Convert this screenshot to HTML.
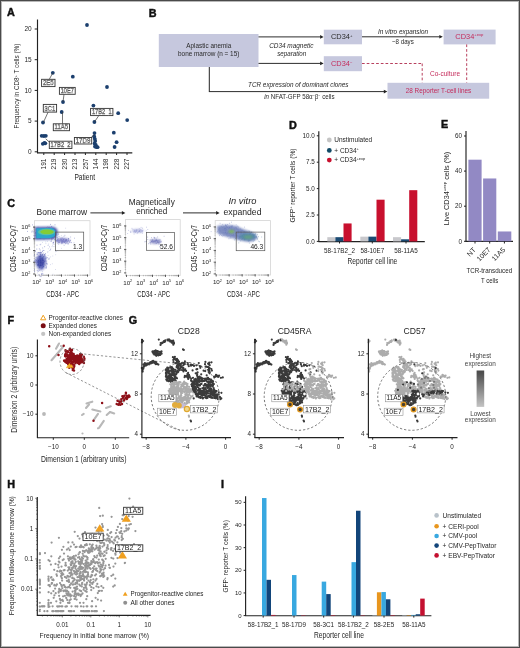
<!DOCTYPE html>
<html><head><meta charset="utf-8"><style>html,body{margin:0;padding:0;background:#fff;}#w{position:relative;width:520px;height:648px;overflow:hidden;}svg{display:block;font-family:"Liberation Sans",sans-serif;filter:blur(0.3px);}#b{position:absolute;left:0;top:0;width:518px;height:646px;border:1px solid #4a4a4a;box-shadow:inset 0 0 0 1px #b8b8b8;}</style></head><body>
<div id="w"><svg width="520" height="648" viewBox="0 0 520 648" font-family="'Liberation Sans', sans-serif">
<rect width="520" height="648" fill="#fff"/>
<text x="7" y="16.3" font-size="10.8" text-anchor="start" fill="#111" font-weight="bold" stroke="#111" stroke-width="0.45">A</text>
<text x="148.8" y="16.6" font-size="10.8" text-anchor="start" fill="#111" font-weight="bold" stroke="#111" stroke-width="0.45">B</text>
<text x="7.2" y="207.2" font-size="10.8" text-anchor="start" fill="#111" font-weight="bold" stroke="#111" stroke-width="0.45">C</text>
<text x="289" y="128.5" font-size="10.8" text-anchor="start" fill="#111" font-weight="bold" stroke="#111" stroke-width="0.45">D</text>
<text x="441" y="127.8" font-size="10.8" text-anchor="start" fill="#111" font-weight="bold" stroke="#111" stroke-width="0.45">E</text>
<text x="7.6" y="323.6" font-size="10.8" text-anchor="start" fill="#111" font-weight="bold" stroke="#111" stroke-width="0.45">F</text>
<text x="128.7" y="324.2" font-size="10.8" text-anchor="start" fill="#111" font-weight="bold" stroke="#111" stroke-width="0.45">G</text>
<text x="7.2" y="488.4" font-size="10.8" text-anchor="start" fill="#111" font-weight="bold" stroke="#111" stroke-width="0.45">H</text>
<text x="221" y="488" font-size="10.8" text-anchor="start" fill="#111" font-weight="bold" stroke="#111" stroke-width="0.45">I</text>
<line x1="37.5" y1="19.5" x2="37.5" y2="153.2" stroke="#222" stroke-width="1.15"/>
<line x1="37.1" y1="152.8" x2="132.3" y2="152.8" stroke="#222" stroke-width="1.15"/>
<line x1="34.7" y1="151.8" x2="37.5" y2="151.8" stroke="#222" stroke-width="1.0"/>
<text x="31.7" y="154.10000000000002" font-size="6.5" text-anchor="end" fill="#262626">0</text>
<line x1="34.7" y1="121.10000000000001" x2="37.5" y2="121.10000000000001" stroke="#222" stroke-width="1.0"/>
<text x="31.7" y="123.4" font-size="6.5" text-anchor="end" fill="#262626">5</text>
<line x1="34.7" y1="90.4" x2="37.5" y2="90.4" stroke="#222" stroke-width="1.0"/>
<text x="31.7" y="92.7" font-size="6.5" text-anchor="end" fill="#262626">10</text>
<line x1="34.7" y1="59.70000000000002" x2="37.5" y2="59.70000000000002" stroke="#222" stroke-width="1.0"/>
<text x="31.7" y="62.000000000000014" font-size="6.5" text-anchor="end" fill="#262626">15</text>
<line x1="34.7" y1="29.000000000000014" x2="37.5" y2="29.000000000000014" stroke="#222" stroke-width="1.0"/>
<text x="31.7" y="31.300000000000015" font-size="6.5" text-anchor="end" fill="#262626">20</text>
<line x1="43.8" y1="152.8" x2="43.8" y2="155" stroke="#222" stroke-width="1.0"/>
<text x="46.099999999999994" y="158.6" font-size="6.5" text-anchor="end" fill="#262626" transform="rotate(-90 46.099999999999994 158.6)">191</text>
<line x1="54.199999999999996" y1="152.8" x2="54.199999999999996" y2="155" stroke="#222" stroke-width="1.0"/>
<text x="56.49999999999999" y="158.6" font-size="6.5" text-anchor="end" fill="#262626" transform="rotate(-90 56.49999999999999 158.6)">219</text>
<line x1="64.6" y1="152.8" x2="64.6" y2="155" stroke="#222" stroke-width="1.0"/>
<text x="66.89999999999999" y="158.6" font-size="6.5" text-anchor="end" fill="#262626" transform="rotate(-90 66.89999999999999 158.6)">230</text>
<line x1="75.0" y1="152.8" x2="75.0" y2="155" stroke="#222" stroke-width="1.0"/>
<text x="77.3" y="158.6" font-size="6.5" text-anchor="end" fill="#262626" transform="rotate(-90 77.3 158.6)">213</text>
<line x1="85.4" y1="152.8" x2="85.4" y2="155" stroke="#222" stroke-width="1.0"/>
<text x="87.7" y="158.6" font-size="6.5" text-anchor="end" fill="#262626" transform="rotate(-90 87.7 158.6)">257</text>
<line x1="95.8" y1="152.8" x2="95.8" y2="155" stroke="#222" stroke-width="1.0"/>
<text x="98.1" y="158.6" font-size="6.5" text-anchor="end" fill="#262626" transform="rotate(-90 98.1 158.6)">144</text>
<line x1="106.2" y1="152.8" x2="106.2" y2="155" stroke="#222" stroke-width="1.0"/>
<text x="108.5" y="158.6" font-size="6.5" text-anchor="end" fill="#262626" transform="rotate(-90 108.5 158.6)">198</text>
<line x1="116.6" y1="152.8" x2="116.6" y2="155" stroke="#222" stroke-width="1.0"/>
<text x="118.89999999999999" y="158.6" font-size="6.5" text-anchor="end" fill="#262626" transform="rotate(-90 118.89999999999999 158.6)">228</text>
<line x1="127.0" y1="152.8" x2="127.0" y2="155" stroke="#222" stroke-width="1.0"/>
<text x="129.3" y="158.6" font-size="6.5" text-anchor="end" fill="#262626" transform="rotate(-90 129.3 158.6)">227</text>
<text x="84.75" y="180.4" font-size="8.6" text-anchor="middle" fill="#262626" textLength="20.7" lengthAdjust="spacingAndGlyphs">Patient</text>
<text x="19.4" y="86.1" font-size="7.6" text-anchor="middle" fill="#262626" transform="rotate(-90 19.4 86.1)" textLength="84.8" lengthAdjust="spacingAndGlyphs">Frequency in CD8<tspan font-size="4.4" dy="-2.7">+</tspan><tspan dy="2.7"> T cells (%)</tspan></text>
<circle cx="52.8" cy="72.8" r="1.9" fill="#1b3f6e"/>
<circle cx="72.8" cy="76.7" r="1.9" fill="#1b3f6e"/>
<circle cx="87.0" cy="25.0" r="1.9" fill="#1b3f6e"/>
<circle cx="63.0" cy="102.0" r="1.9" fill="#1b3f6e"/>
<circle cx="61.7" cy="112.0" r="1.9" fill="#1b3f6e"/>
<circle cx="43.0" cy="122.5" r="1.9" fill="#1b3f6e"/>
<circle cx="41.7" cy="135.8" r="1.9" fill="#1b3f6e"/>
<circle cx="43.9" cy="136.0" r="1.9" fill="#1b3f6e"/>
<circle cx="45.8" cy="135.8" r="1.9" fill="#1b3f6e"/>
<circle cx="44.4" cy="142.8" r="1.9" fill="#1b3f6e"/>
<circle cx="45.3" cy="143.3" r="1.9" fill="#1b3f6e"/>
<circle cx="42.8" cy="143.8" r="1.9" fill="#1b3f6e"/>
<circle cx="107.0" cy="87.0" r="1.9" fill="#1b3f6e"/>
<circle cx="93.4" cy="105.6" r="1.9" fill="#1b3f6e"/>
<circle cx="94.4" cy="122.0" r="1.9" fill="#1b3f6e"/>
<circle cx="94.5" cy="133.1" r="1.9" fill="#1b3f6e"/>
<circle cx="94.2" cy="136.5" r="1.9" fill="#1b3f6e"/>
<circle cx="94.8" cy="138.8" r="1.9" fill="#1b3f6e"/>
<circle cx="95.2" cy="141.0" r="1.9" fill="#1b3f6e"/>
<circle cx="94.6" cy="143.5" r="1.9" fill="#1b3f6e"/>
<circle cx="95.8" cy="145.0" r="1.9" fill="#1b3f6e"/>
<circle cx="96.4" cy="147.0" r="1.9" fill="#1b3f6e"/>
<circle cx="97.6" cy="147.2" r="1.9" fill="#1b3f6e"/>
<circle cx="95.0" cy="146.5" r="1.9" fill="#1b3f6e"/>
<circle cx="113.8" cy="132.7" r="1.9" fill="#1b3f6e"/>
<circle cx="116.6" cy="142.2" r="1.9" fill="#1b3f6e"/>
<circle cx="114.6" cy="147.0" r="1.9" fill="#1b3f6e"/>
<circle cx="118.2" cy="113.2" r="1.9" fill="#1b3f6e"/>
<circle cx="127.2" cy="120.1" r="1.9" fill="#1b3f6e"/>
<line x1="52.8" y1="72.8" x2="49.3" y2="79.3" stroke="#3a3a3a" stroke-width="0.7"/>
<line x1="63" y1="102" x2="64" y2="94.3" stroke="#3a3a3a" stroke-width="0.7"/>
<line x1="62.5" y1="112" x2="62.5" y2="123.8" stroke="#3a3a3a" stroke-width="0.7"/>
<line x1="43.3" y1="122.6" x2="48.1" y2="112.1" stroke="#3a3a3a" stroke-width="0.7"/>
<line x1="45.7" y1="138.8" x2="49.7" y2="142.4" stroke="#3a3a3a" stroke-width="0.7"/>
<line x1="94.4" y1="122" x2="99" y2="115.3" stroke="#3a3a3a" stroke-width="0.7"/>
<line x1="94.5" y1="134.5" x2="90" y2="138.5" stroke="#3a3a3a" stroke-width="0.7"/>
<rect x="41.6" y="79.3" width="13.399999999999999" height="7.299999999999997" fill="#fff" stroke="#333" stroke-width="0.9"/>
<text x="48.3" y="85.3" font-size="6.4" text-anchor="middle" fill="#fff" textLength="10.799999999999999" lengthAdjust="spacingAndGlyphs" stroke="#555" stroke-width="0.4">2E5</text>
<rect x="59.4" y="87.4" width="15.800000000000004" height="6.8999999999999915" fill="#fff" stroke="#333" stroke-width="0.9"/>
<text x="67.3" y="93.0" font-size="6.4" text-anchor="middle" fill="#fff" textLength="13.200000000000005" lengthAdjust="spacingAndGlyphs" stroke="#555" stroke-width="0.4">10E7</text>
<rect x="53.3" y="123.8" width="16.200000000000003" height="6.8999999999999915" fill="#fff" stroke="#333" stroke-width="0.9"/>
<text x="61.4" y="129.39999999999998" font-size="6.4" text-anchor="middle" fill="#fff" textLength="13.600000000000003" lengthAdjust="spacingAndGlyphs" stroke="#555" stroke-width="0.4">11A5</text>
<rect x="43.3" y="104.4" width="13.300000000000004" height="7.699999999999989" fill="#fff" stroke="#333" stroke-width="0.9"/>
<text x="49.95" y="110.8" font-size="6.4" text-anchor="middle" fill="#fff" textLength="10.700000000000005" lengthAdjust="spacingAndGlyphs" stroke="#555" stroke-width="0.4">3C1</text>
<rect x="49.3" y="141.2" width="22.60000000000001" height="7.300000000000011" fill="#fff" stroke="#333" stroke-width="0.9"/>
<text x="60.6" y="147.2" font-size="6.4" text-anchor="middle" fill="#fff" textLength="20.000000000000007" lengthAdjust="spacingAndGlyphs" stroke="#555" stroke-width="0.4">17B2_2</text>
<rect x="90.6" y="108.4" width="22.30000000000001" height="7.199999999999989" fill="#fff" stroke="#333" stroke-width="0.9"/>
<text x="101.75" y="114.3" font-size="6.4" text-anchor="middle" fill="#fff" textLength="19.70000000000001" lengthAdjust="spacingAndGlyphs" stroke="#555" stroke-width="0.4">17B2_1</text>
<rect x="74.4" y="137.5" width="17.299999999999997" height="6.5" fill="#fff" stroke="#333" stroke-width="0.9"/>
<text x="83.05000000000001" y="142.7" font-size="6.4" text-anchor="middle" fill="#fff" textLength="14.699999999999998" lengthAdjust="spacingAndGlyphs" stroke="#555" stroke-width="0.4">17D9</text>
<rect x="158.8" y="34" width="99.7" height="33" fill="#c6c8de" stroke="none" stroke-width="0.8"/>
<text x="208.8" y="48.4" font-size="7.9" text-anchor="middle" fill="#2a2a2a" textLength="44.9" lengthAdjust="spacingAndGlyphs">Aplastic anemia</text>
<text x="208.7" y="56.1" font-size="7.9" text-anchor="middle" fill="#2a2a2a" textLength="61.3" lengthAdjust="spacingAndGlyphs">bone marrow (n = 15)</text>
<line x1="258.5" y1="36.9" x2="320.6" y2="36.9" stroke="#222" stroke-width="0.95"/>
<path d="M320.1,35.1 L323.6,36.9 L320.1,38.699999999999996 Z" fill="#222"/>
<line x1="258.5" y1="63.4" x2="320.6" y2="63.4" stroke="#222" stroke-width="0.95"/>
<path d="M320.1,61.6 L323.6,63.4 L320.1,65.2 Z" fill="#222"/>
<text x="291.3" y="48" font-size="7.2" text-anchor="middle" fill="#2a2a2a" font-style="italic" textLength="44.3" lengthAdjust="spacingAndGlyphs">CD34 magnetic</text>
<text x="291.7" y="56.2" font-size="7.2" text-anchor="middle" fill="#2a2a2a" font-style="italic" textLength="28.9" lengthAdjust="spacingAndGlyphs">separation</text>
<rect x="323.8" y="29.7" width="38.2" height="14.6" fill="#c6c8de" stroke="none" stroke-width="0.8"/>
<text x="341.7" y="39.3" font-size="7.4" text-anchor="middle" fill="#2a2a2a">CD34<tspan font-size="4.2" dy="-2.6">+</tspan></text>
<rect x="323.8" y="56.2" width="38.2" height="15" fill="#c6c8de" stroke="none" stroke-width="0.8"/>
<text x="341.7" y="66.2" font-size="7.4" text-anchor="middle" fill="#c42a5a">CD34<tspan font-size="4.2" dy="-2.6">−</tspan></text>
<line x1="362" y1="36.8" x2="439.8" y2="36.8" stroke="#222" stroke-width="0.95"/>
<path d="M439.3,35.0 L442.8,36.8 L439.3,38.599999999999994 Z" fill="#222"/>
<text x="403" y="33.75" font-size="7.2" text-anchor="middle" fill="#2a2a2a" font-style="italic" textLength="50" lengthAdjust="spacingAndGlyphs">In vitro expansion</text>
<text x="402.9" y="43.75" font-size="7.2" text-anchor="middle" fill="#2a2a2a" textLength="21.75" lengthAdjust="spacingAndGlyphs">~8 days</text>
<rect x="443.6" y="29.6" width="52" height="14.8" fill="#c6c8de" stroke="none" stroke-width="0.8"/>
<text x="469.4" y="38.9" font-size="7.4" text-anchor="middle" fill="#c42a5a">CD34<tspan font-size="4.2" dy="-2.6">+exp</tspan></text>
<line x1="362" y1="63.5" x2="422.2" y2="63.5" stroke="#b8405e" stroke-width="1" stroke-dasharray="2.7,2"/>
<line x1="422.2" y1="63.5" x2="422.2" y2="82.6" stroke="#b8405e" stroke-width="1" stroke-dasharray="2.7,2"/>
<line x1="466.7" y1="44.4" x2="466.7" y2="82.6" stroke="#b8405e" stroke-width="1" stroke-dasharray="2.7,2"/>
<text x="445" y="76.3" font-size="7.2" text-anchor="middle" fill="#c42a5a" textLength="30" lengthAdjust="spacingAndGlyphs">Co-culture</text>
<rect x="387.5" y="82.8" width="101.7" height="15.9" fill="#c6c8de" stroke="none" stroke-width="0.8"/>
<text x="438.5" y="93" font-size="7.4" text-anchor="middle" fill="#c42a5a" textLength="65.5" lengthAdjust="spacingAndGlyphs">28 Reporter T-cell lines</text>
<line x1="209.3" y1="67" x2="209.3" y2="91.6" stroke="#222" stroke-width="1.0"/>
<line x1="208.9" y1="91.6" x2="384.3" y2="91.6" stroke="#222" stroke-width="0.95"/>
<path d="M383.8,89.8 L387.3,91.6 L383.8,93.39999999999999 Z" fill="#222"/>
<text x="298.3" y="87.2" font-size="7.2" text-anchor="middle" fill="#2a2a2a" font-style="italic" textLength="100.5" lengthAdjust="spacingAndGlyphs">TCR expression of dominant clones</text>
<text x="299.4" y="99.2" font-size="7.2" text-anchor="middle" fill="#2a2a2a" textLength="70.4" lengthAdjust="spacingAndGlyphs"><tspan font-style="italic">in</tspan> NFAT-GFP 58α<tspan font-size="4.2" dy="-2.6">−</tspan><tspan dy="2.6">β</tspan><tspan font-size="4.2" dy="-2.6">−</tspan><tspan dy="2.6"> cells</tspan></text>
<line x1="318.8" y1="131.2" x2="318.8" y2="241.8" stroke="#222" stroke-width="1.15"/>
<line x1="318.40000000000003" y1="241.6" x2="424.8" y2="241.6" stroke="#222" stroke-width="1.15"/>
<line x1="316.8" y1="241.4" x2="318.8" y2="241.4" stroke="#222" stroke-width="1.0"/>
<text x="314.8" y="243.6" font-size="6.3" text-anchor="end" fill="#262626">0.0</text>
<line x1="316.8" y1="215.0" x2="318.8" y2="215.0" stroke="#222" stroke-width="1.0"/>
<text x="314.8" y="217.2" font-size="6.3" text-anchor="end" fill="#262626">2.5</text>
<line x1="316.8" y1="188.6" x2="318.8" y2="188.6" stroke="#222" stroke-width="1.0"/>
<text x="314.8" y="190.79999999999998" font-size="6.3" text-anchor="end" fill="#262626">5.0</text>
<line x1="316.8" y1="162.2" x2="318.8" y2="162.2" stroke="#222" stroke-width="1.0"/>
<text x="314.8" y="164.39999999999998" font-size="6.3" text-anchor="end" fill="#262626">7.5</text>
<line x1="316.8" y1="135.8" x2="318.8" y2="135.8" stroke="#222" stroke-width="1.0"/>
<text x="314.8" y="138.0" font-size="6.3" text-anchor="end" fill="#262626">10.0</text>
<rect x="327.3" y="237.17600000000002" width="8.1" height="4.224" fill="#c8c8cc" stroke="none" stroke-width="0.8"/>
<rect x="335.40000000000003" y="237.17600000000002" width="8.1" height="4.224" fill="#1a4a72" stroke="none" stroke-width="0.8"/>
<rect x="343.5" y="223.448" width="8.1" height="17.952" fill="#c8102e" stroke="none" stroke-width="0.8"/>
<rect x="360.3" y="236.648" width="8.1" height="4.752000000000001" fill="#c8c8cc" stroke="none" stroke-width="0.8"/>
<rect x="368.40000000000003" y="236.648" width="8.1" height="4.752000000000001" fill="#1a4a72" stroke="none" stroke-width="0.8"/>
<rect x="376.5" y="199.688" width="8.1" height="41.712" fill="#c8102e" stroke="none" stroke-width="0.8"/>
<rect x="393.0" y="237.17600000000002" width="8.1" height="4.224" fill="#c8c8cc" stroke="none" stroke-width="0.8"/>
<rect x="401.1" y="239.288" width="8.1" height="2.112" fill="#1a4a72" stroke="none" stroke-width="0.8"/>
<rect x="409.2" y="190.184" width="8.1" height="51.216" fill="#c8102e" stroke="none" stroke-width="0.8"/>
<line x1="339.5" y1="241.6" x2="339.5" y2="243.5" stroke="#222" stroke-width="1.0"/>
<text x="339.5" y="252.7" font-size="6.3" text-anchor="middle" fill="#262626">58-17B2_2</text>
<line x1="372.3" y1="241.6" x2="372.3" y2="243.5" stroke="#222" stroke-width="1.0"/>
<text x="372.3" y="252.7" font-size="6.3" text-anchor="middle" fill="#262626">58-10E7</text>
<line x1="406" y1="241.6" x2="406" y2="243.5" stroke="#222" stroke-width="1.0"/>
<text x="406" y="252.7" font-size="6.3" text-anchor="middle" fill="#262626">58-11A5</text>
<text x="372.4" y="264.3" font-size="8.2" text-anchor="middle" fill="#262626" textLength="49.7" lengthAdjust="spacingAndGlyphs">Reporter cell line</text>
<text x="295" y="185.5" font-size="7.2" text-anchor="middle" fill="#262626" transform="rotate(-90 295 185.5)" textLength="74" lengthAdjust="spacingAndGlyphs">GFP<tspan font-size="4.2" dy="-2.6">+</tspan><tspan dy="2.6"> reporter T cells (%)</tspan></text>
<circle cx="329.3" cy="140.0" r="2.4" fill="#c4c4c4"/>
<text x="334.3" y="142.3" font-size="6.5" text-anchor="start" fill="#262626">Unstimulated</text>
<circle cx="329.3" cy="150.4" r="2.4" fill="#114a66"/>
<text x="334.3" y="152.7" font-size="6.5" text-anchor="start" fill="#262626">+ CD34<tspan font-size="4" dy="-2.5">+</tspan></text>
<circle cx="329.3" cy="160.1" r="2.4" fill="#c8102e"/>
<text x="334.3" y="162.4" font-size="6.5" text-anchor="start" fill="#262626">+ CD34<tspan font-size="4" dy="-2.5">+exp</tspan></text>
<line x1="466" y1="131.1" x2="466" y2="241.6" stroke="#222" stroke-width="1.15"/>
<line x1="465.6" y1="241.4" x2="513" y2="241.4" stroke="#222" stroke-width="1.15"/>
<line x1="464" y1="241.3" x2="466" y2="241.3" stroke="#222" stroke-width="1.0"/>
<text x="462" y="243.5" font-size="6.3" text-anchor="end" fill="#262626">0</text>
<line x1="464" y1="206.20000000000002" x2="466" y2="206.20000000000002" stroke="#222" stroke-width="1.0"/>
<text x="462" y="208.4" font-size="6.3" text-anchor="end" fill="#262626">20</text>
<line x1="464" y1="171.10000000000002" x2="466" y2="171.10000000000002" stroke="#222" stroke-width="1.0"/>
<text x="462" y="173.3" font-size="6.3" text-anchor="end" fill="#262626">40</text>
<line x1="464" y1="136.0" x2="466" y2="136.0" stroke="#222" stroke-width="1.0"/>
<text x="462" y="138.2" font-size="6.3" text-anchor="end" fill="#262626">60</text>
<rect x="468.4" y="159.6925" width="13.200000000000045" height="81.6075" fill="#9289c4" stroke="none" stroke-width="0.8"/>
<rect x="483.1" y="178.471" width="13.199999999999989" height="62.82899999999999" fill="#9289c4" stroke="none" stroke-width="0.8"/>
<rect x="497.8" y="231.472" width="13.5" height="9.828" fill="#9289c4" stroke="none" stroke-width="0.8"/>
<line x1="475" y1="241.4" x2="475" y2="243.5" stroke="#222" stroke-width="1.0"/>
<text x="476.3" y="250.3" font-size="7" text-anchor="end" fill="#262626" transform="rotate(-45 476.3 250.3)">NT</text>
<line x1="489.7" y1="241.4" x2="489.7" y2="243.5" stroke="#222" stroke-width="1.0"/>
<text x="491.0" y="250.3" font-size="7" text-anchor="end" fill="#262626" transform="rotate(-45 491.0 250.3)">10E7</text>
<line x1="504.4" y1="241.4" x2="504.4" y2="243.5" stroke="#222" stroke-width="1.0"/>
<text x="505.7" y="250.3" font-size="7" text-anchor="end" fill="#262626" transform="rotate(-45 505.7 250.3)">11A5</text>
<text x="489.3" y="272.6" font-size="7.8" text-anchor="middle" fill="#262626" textLength="45.6" lengthAdjust="spacingAndGlyphs">TCR-transduced</text>
<text x="489.6" y="283" font-size="7.8" text-anchor="middle" fill="#262626" textLength="17.3" lengthAdjust="spacingAndGlyphs">T cells</text>
<text x="449" y="188.6" font-size="7.2" text-anchor="middle" fill="#262626" transform="rotate(-90 449 188.6)" textLength="73.5" lengthAdjust="spacingAndGlyphs">Live CD34<tspan font-size="4.2" dy="-2.6">+exp</tspan><tspan dy="2.6"> cells (%)</tspan></text>
<defs><filter id="bl1" x="-50%" y="-50%" width="200%" height="200%"><feGaussianBlur stdDeviation="1.2"/></filter><filter id="bl2" x="-50%" y="-50%" width="200%" height="200%"><feGaussianBlur stdDeviation="0.7"/></filter><linearGradient id="gexp" x1="0" y1="0" x2="0" y2="1"><stop offset="0" stop-color="#4a4a4a"/><stop offset="0.08" stop-color="#505050"/><stop offset="1" stop-color="#c4c4c4"/></linearGradient></defs>
<rect x="34.5" y="220.7" width="55.5" height="54.5" fill="none" stroke="#d4d4d4" stroke-width="0.8"/>
<path d="M42.5 234.6h0M42.6 232.0h0M38.4 232.3h0M50.7 234.4h0M50.2 233.8h0M46.4 233.6h0M34.0 235.7h0M47.0 234.6h0M33.9 227.4h0M38.7 231.5h0M45.8 232.9h0M47.1 230.9h0M45.9 234.3h0M40.0 238.5h0M47.3 236.8h0M40.3 230.6h0M41.9 232.7h0M47.8 233.8h0M41.3 229.9h0M40.9 236.9h0M39.2 233.8h0M46.6 228.2h0M44.3 237.2h0M31.9 232.0h0M43.4 230.4h0M47.0 232.8h0M35.2 235.6h0M48.0 236.0h0M52.6 234.2h0M44.7 228.8h0M47.7 231.0h0M41.3 229.0h0M38.2 231.3h0M51.7 226.5h0M35.3 233.8h0M52.7 234.9h0M32.6 224.9h0M46.1 230.6h0M37.3 236.1h0M50.6 233.5h0M45.5 234.4h0M53.6 235.0h0M47.1 234.8h0M34.6 237.1h0M49.7 234.7h0M32.2 231.0h0M49.1 227.2h0M42.9 236.3h0M36.1 238.2h0M47.3 232.5h0M45.9 235.1h0M44.7 236.7h0M40.0 231.7h0M50.3 233.1h0M38.7 236.0h0M52.8 231.6h0M35.7 232.6h0M43.1 232.0h0M52.4 229.7h0M51.6 228.9h0M39.3 235.0h0M50.8 235.7h0M46.1 233.5h0M44.9 234.8h0M42.9 233.9h0M47.4 233.0h0M48.6 234.8h0M56.1 234.0h0M41.4 231.8h0M43.9 236.0h0M42.0 234.2h0M55.0 224.8h0M37.3 233.8h0M46.4 233.8h0M41.4 235.1h0M45.7 231.3h0M58.6 234.1h0M40.7 232.7h0M42.6 232.8h0M27.6 231.4h0M50.1 229.3h0M43.6 236.1h0M49.1 237.8h0M33.8 231.9h0M42.0 235.0h0M50.6 224.4h0M50.5 228.4h0M48.1 228.2h0M45.1 236.8h0M43.1 233.6h0" stroke="#3a48a8" stroke-width="0.9" stroke-linecap="round" stroke-opacity="0.55"/>
<path d="M65.6 240.8h0M61.6 243.6h0M66.7 239.9h0M74.4 238.2h0M66.1 240.0h0M62.6 241.9h0M63.0 241.8h0M55.1 237.5h0M64.8 238.6h0M57.4 237.6h0M67.7 242.0h0M68.6 238.6h0M62.0 238.2h0M65.4 243.7h0M58.0 243.6h0M66.4 240.1h0M53.1 243.3h0M61.6 239.3h0M63.8 241.3h0M68.7 238.5h0M67.1 243.5h0M68.5 240.1h0M58.7 242.5h0M62.5 240.7h0M68.4 240.0h0M51.7 239.7h0M53.7 242.1h0M63.4 239.3h0M62.0 242.2h0M62.4 243.2h0M61.7 242.6h0M68.7 243.7h0M59.0 242.3h0M53.6 238.3h0M53.2 242.6h0M56.5 240.5h0M61.1 240.4h0M59.3 241.0h0M70.1 240.6h0M64.4 242.5h0M61.1 238.0h0M59.5 242.6h0M54.6 239.3h0M66.5 242.1h0M62.0 242.1h0M62.7 238.1h0M55.0 239.2h0M66.2 239.4h0M57.9 239.0h0M55.1 240.3h0M56.7 241.2h0M51.4 241.2h0M59.1 236.6h0M65.3 239.9h0M52.0 238.7h0M63.3 239.6h0M65.5 242.0h0M65.0 241.2h0M68.0 241.8h0M64.0 236.3h0M66.0 243.1h0M60.7 239.6h0M70.7 237.0h0M64.1 245.3h0M57.8 241.9h0M70.5 240.3h0M64.5 242.3h0M57.9 240.3h0M63.3 242.2h0M61.8 240.1h0M57.4 239.8h0M66.0 240.7h0M58.2 238.8h0M74.0 242.8h0M64.9 235.3h0M64.8 241.5h0M69.6 241.4h0M61.7 241.5h0M53.3 242.6h0M63.5 239.1h0M68.0 244.1h0M55.7 239.2h0M63.3 240.9h0M60.2 238.6h0M71.5 242.6h0M56.6 237.8h0M69.7 242.5h0M70.2 242.1h0M58.1 241.0h0M52.3 239.0h0" stroke="#5058b0" stroke-width="0.9" stroke-linecap="round" stroke-opacity="0.5"/>
<path d="M40.6 264.1h0M38.3 260.3h0M42.4 263.3h0M43.0 262.3h0M39.7 265.7h0M41.0 256.0h0M38.6 261.0h0M40.4 261.9h0M40.8 262.1h0M40.3 253.4h0M42.3 267.3h0M42.3 259.9h0M42.4 255.2h0M34.2 261.4h0M37.5 265.4h0M37.0 245.2h0M37.2 270.5h0M39.5 252.8h0M38.1 264.1h0M42.5 262.1h0M46.0 265.2h0M40.7 264.6h0M46.6 266.8h0M44.4 254.5h0M40.3 265.4h0M39.8 267.4h0M42.9 266.4h0M40.1 276.3h0M45.1 259.7h0M41.1 276.6h0M39.6 266.2h0M44.2 261.0h0M36.7 262.1h0M42.1 267.8h0M43.5 261.1h0M43.8 264.2h0M41.5 261.3h0M39.9 265.1h0M37.1 257.2h0M40.8 252.2h0M39.3 248.9h0M38.4 264.4h0M42.8 260.7h0M40.0 252.5h0M47.2 264.1h0M44.6 255.7h0M40.2 250.1h0M43.5 266.6h0M34.2 260.7h0M43.0 250.4h0M34.4 254.6h0M38.6 252.6h0M40.9 262.5h0M43.0 265.2h0M46.1 268.0h0M36.2 258.0h0M37.1 254.5h0M40.5 261.0h0M42.5 251.5h0M36.5 260.9h0M40.1 259.1h0M40.6 256.4h0M43.3 263.1h0M40.5 257.0h0M40.2 244.7h0M37.4 261.2h0M35.5 262.2h0M41.3 252.7h0M39.9 259.1h0M42.4 264.7h0M40.7 255.9h0M40.3 260.6h0M43.4 262.8h0M38.3 252.9h0M39.5 256.6h0M36.9 260.3h0M39.1 261.6h0M42.6 258.5h0M48.9 259.1h0M44.7 261.7h0M44.7 246.7h0M38.2 262.5h0M42.9 275.0h0M41.9 268.7h0M43.5 266.7h0M42.6 260.1h0M42.6 254.5h0M44.9 254.9h0M41.7 273.7h0M40.0 261.1h0M44.9 261.2h0M38.0 262.5h0M42.8 265.3h0M38.1 271.5h0M46.6 261.1h0M41.7 258.4h0M45.7 256.8h0M43.2 258.1h0M38.4 265.3h0M45.5 260.9h0M38.4 265.9h0M40.6 262.9h0M46.1 267.8h0M39.0 274.7h0M40.8 265.7h0M38.5 260.7h0M34.7 271.7h0M45.6 253.7h0M35.5 251.3h0M44.9 258.2h0M40.6 259.1h0M40.4 254.5h0M40.9 252.4h0M40.5 262.9h0M42.4 259.6h0M37.6 262.0h0M39.1 270.4h0M43.5 260.3h0M39.2 256.8h0M37.5 258.9h0M41.8 264.1h0M42.8 273.6h0M38.3 261.1h0M50.6 249.8h0M39.0 262.0h0M41.3 263.4h0M40.0 263.2h0M41.0 265.6h0M34.2 255.7h0M40.8 254.8h0M37.1 264.8h0M38.5 264.8h0M43.4 262.8h0M42.6 260.4h0M35.9 260.8h0M42.4 257.8h0M40.5 265.5h0M37.7 264.8h0M47.3 257.7h0M41.3 260.1h0M46.2 262.9h0M43.9 256.9h0M40.7 260.9h0M34.6 269.6h0M43.9 250.5h0M43.4 260.2h0M42.4 263.2h0M35.6 259.7h0M46.0 257.6h0M37.2 252.8h0M36.5 263.0h0M46.7 263.6h0M41.7 274.4h0M39.0 257.0h0M42.6 264.3h0M37.2 254.0h0M41.8 262.5h0M36.2 259.8h0M38.9 263.8h0M40.4 260.5h0M39.6 267.3h0M45.7 258.8h0M43.8 256.5h0M41.1 265.5h0M46.1 258.7h0M40.5 262.2h0M35.6 261.1h0M38.4 263.2h0M36.8 249.1h0M40.9 262.6h0" stroke="#3540a8" stroke-width="0.9" stroke-linecap="round" stroke-opacity="0.55"/>
<path d="M43.6 256.9h0M45.8 241.9h0M51.8 232.3h0M42.6 247.8h0M54.8 246.4h0M50.5 241.4h0M50.4 264.6h0M42.5 271.7h0M42.8 248.2h0M49.4 258.2h0M38.1 227.0h0M52.8 256.0h0M53.0 274.3h0M49.6 250.5h0M55.4 251.7h0M61.3 235.6h0M45.0 213.6h0M54.5 244.3h0M55.4 269.5h0M48.0 245.5h0M44.0 239.6h0M43.0 254.4h0M48.3 248.7h0M46.6 257.1h0M52.0 246.6h0M53.3 246.5h0M38.8 262.6h0M51.7 238.4h0M56.6 251.4h0M35.5 264.1h0M50.7 256.9h0M49.6 246.5h0M35.6 257.7h0M48.2 245.1h0M50.8 248.8h0M53.4 244.3h0M47.7 226.6h0M44.6 254.8h0M58.7 244.4h0M47.0 263.8h0M45.4 255.3h0M61.4 248.4h0M57.8 240.9h0M49.7 247.2h0M48.9 259.3h0M67.1 241.3h0M43.4 253.0h0M39.6 253.0h0M52.6 245.2h0M52.2 232.5h0M54.1 232.6h0M42.4 242.4h0M44.8 256.6h0M48.7 244.0h0M52.3 263.8h0M48.0 251.7h0M57.9 250.7h0M37.7 272.9h0M65.7 228.2h0M47.7 252.2h0M55.7 254.7h0M45.8 237.5h0M48.8 258.3h0M39.3 237.7h0M47.8 228.6h0M45.9 243.6h0M51.6 241.0h0M40.9 244.1h0M47.6 241.4h0M48.1 255.5h0" stroke="#8088c8" stroke-width="0.9" stroke-linecap="round" stroke-opacity="0.4"/>
<path d="M35,227 L52,226.8 Q57.5,227.5 57.6,231.5 L57.2,236 Q55,239.6 49,239.6 L35,239.8 Z" fill="#3040a0" opacity="0.9" filter="url(#bl1)"/>
<path d="M36.3,228.3 L51.5,228 Q55.7,228.8 55.6,232 L55,235.5 Q53,238.2 48,238.2 L36.3,238.3 Z" fill="#2aa6cc" opacity="1" filter="url(#bl2)"/>
<ellipse cx="46.5" cy="232" rx="8.5" ry="3.3" fill="#5cc0a0" opacity="1" filter="url(#bl2)"/>
<ellipse cx="47" cy="231.8" rx="6.6" ry="2.3" fill="#84cc34" opacity="1" filter="url(#bl2)"/>
<ellipse cx="62.5" cy="240.5" rx="7.5" ry="2.4" fill="#6a6cc0" opacity="0.75" filter="url(#bl1)"/>
<ellipse cx="41" cy="262" rx="5.2" ry="8.5" fill="#4a52b0" opacity="0.65" filter="url(#bl1)"/>
<ellipse cx="40.8" cy="262" rx="3.4" ry="5.5" fill="#2a3698" opacity="0.6" filter="url(#bl1)"/>
<line x1="33.7" y1="270.46289755094824" x2="35.1" y2="270.46289755094824" stroke="#777" stroke-width="0.4"/>
<line x1="39.413389943631756" y1="274.59999999999997" x2="39.413389943631756" y2="276.0" stroke="#777" stroke-width="0.4"/>
<line x1="33.7" y1="268.39382525704394" x2="35.1" y2="268.39382525704394" stroke="#777" stroke-width="0.4"/>
<line x1="41.702576311355614" y1="274.59999999999997" x2="41.702576311355614" y2="276.0" stroke="#777" stroke-width="0.4"/>
<line x1="33.7" y1="266.9257951018964" x2="35.1" y2="266.9257951018964" stroke="#777" stroke-width="0.4"/>
<line x1="43.32677988726351" y1="274.59999999999997" x2="43.32677988726351" y2="276.0" stroke="#777" stroke-width="0.4"/>
<line x1="33.7" y1="265.78710244905176" x2="35.1" y2="265.78710244905176" stroke="#777" stroke-width="0.4"/>
<line x1="44.586610056368244" y1="274.59999999999997" x2="44.586610056368244" y2="276.0" stroke="#777" stroke-width="0.4"/>
<line x1="33.7" y1="264.8567228079922" x2="35.1" y2="264.8567228079922" stroke="#777" stroke-width="0.4"/>
<line x1="45.61596625498737" y1="274.59999999999997" x2="45.61596625498737" y2="276.0" stroke="#777" stroke-width="0.4"/>
<line x1="33.7" y1="264.0700980298325" x2="35.1" y2="264.0700980298325" stroke="#777" stroke-width="0.4"/>
<line x1="46.48627452018534" y1="274.59999999999997" x2="46.48627452018534" y2="276.0" stroke="#777" stroke-width="0.4"/>
<line x1="33.7" y1="263.38869265284467" x2="35.1" y2="263.38869265284467" stroke="#777" stroke-width="0.4"/>
<line x1="47.24016983089527" y1="274.59999999999997" x2="47.24016983089527" y2="276.0" stroke="#777" stroke-width="0.4"/>
<line x1="33.7" y1="262.78765051408794" x2="35.1" y2="262.78765051408794" stroke="#777" stroke-width="0.4"/>
<line x1="47.90515262271123" y1="274.59999999999997" x2="47.90515262271123" y2="276.0" stroke="#777" stroke-width="0.4"/>
<line x1="33.7" y1="258.71289755094824" x2="35.1" y2="258.71289755094824" stroke="#777" stroke-width="0.4"/>
<line x1="52.413389943631756" y1="274.59999999999997" x2="52.413389943631756" y2="276.0" stroke="#777" stroke-width="0.4"/>
<line x1="33.7" y1="256.64382525704394" x2="35.1" y2="256.64382525704394" stroke="#777" stroke-width="0.4"/>
<line x1="54.702576311355614" y1="274.59999999999997" x2="54.702576311355614" y2="276.0" stroke="#777" stroke-width="0.4"/>
<line x1="33.7" y1="255.17579510189645" x2="35.1" y2="255.17579510189645" stroke="#777" stroke-width="0.4"/>
<line x1="56.32677988726351" y1="274.59999999999997" x2="56.32677988726351" y2="276.0" stroke="#777" stroke-width="0.4"/>
<line x1="33.7" y1="254.0371024490518" x2="35.1" y2="254.0371024490518" stroke="#777" stroke-width="0.4"/>
<line x1="57.586610056368244" y1="274.59999999999997" x2="57.586610056368244" y2="276.0" stroke="#777" stroke-width="0.4"/>
<line x1="33.7" y1="253.10672280799218" x2="35.1" y2="253.10672280799218" stroke="#777" stroke-width="0.4"/>
<line x1="58.61596625498737" y1="274.59999999999997" x2="58.61596625498737" y2="276.0" stroke="#777" stroke-width="0.4"/>
<line x1="33.7" y1="252.32009802983248" x2="35.1" y2="252.32009802983248" stroke="#777" stroke-width="0.4"/>
<line x1="59.48627452018534" y1="274.59999999999997" x2="59.48627452018534" y2="276.0" stroke="#777" stroke-width="0.4"/>
<line x1="33.7" y1="251.63869265284467" x2="35.1" y2="251.63869265284467" stroke="#777" stroke-width="0.4"/>
<line x1="60.24016983089527" y1="274.59999999999997" x2="60.24016983089527" y2="276.0" stroke="#777" stroke-width="0.4"/>
<line x1="33.7" y1="251.03765051408794" x2="35.1" y2="251.03765051408794" stroke="#777" stroke-width="0.4"/>
<line x1="60.90515262271123" y1="274.59999999999997" x2="60.90515262271123" y2="276.0" stroke="#777" stroke-width="0.4"/>
<line x1="33.7" y1="246.9628975509482" x2="35.1" y2="246.9628975509482" stroke="#777" stroke-width="0.4"/>
<line x1="65.41338994363176" y1="274.59999999999997" x2="65.41338994363176" y2="276.0" stroke="#777" stroke-width="0.4"/>
<line x1="33.7" y1="244.89382525704397" x2="35.1" y2="244.89382525704397" stroke="#777" stroke-width="0.4"/>
<line x1="67.70257631135561" y1="274.59999999999997" x2="67.70257631135561" y2="276.0" stroke="#777" stroke-width="0.4"/>
<line x1="33.7" y1="243.42579510189645" x2="35.1" y2="243.42579510189645" stroke="#777" stroke-width="0.4"/>
<line x1="69.32677988726351" y1="274.59999999999997" x2="69.32677988726351" y2="276.0" stroke="#777" stroke-width="0.4"/>
<line x1="33.7" y1="242.2871024490518" x2="35.1" y2="242.2871024490518" stroke="#777" stroke-width="0.4"/>
<line x1="70.58661005636824" y1="274.59999999999997" x2="70.58661005636824" y2="276.0" stroke="#777" stroke-width="0.4"/>
<line x1="33.7" y1="241.35672280799218" x2="35.1" y2="241.35672280799218" stroke="#777" stroke-width="0.4"/>
<line x1="71.61596625498737" y1="274.59999999999997" x2="71.61596625498737" y2="276.0" stroke="#777" stroke-width="0.4"/>
<line x1="33.7" y1="240.57009802983248" x2="35.1" y2="240.57009802983248" stroke="#777" stroke-width="0.4"/>
<line x1="72.48627452018533" y1="274.59999999999997" x2="72.48627452018533" y2="276.0" stroke="#777" stroke-width="0.4"/>
<line x1="33.7" y1="239.88869265284467" x2="35.1" y2="239.88869265284467" stroke="#777" stroke-width="0.4"/>
<line x1="73.24016983089527" y1="274.59999999999997" x2="73.24016983089527" y2="276.0" stroke="#777" stroke-width="0.4"/>
<line x1="33.7" y1="239.28765051408794" x2="35.1" y2="239.28765051408794" stroke="#777" stroke-width="0.4"/>
<line x1="73.90515262271123" y1="274.59999999999997" x2="73.90515262271123" y2="276.0" stroke="#777" stroke-width="0.4"/>
<line x1="33.7" y1="235.2128975509482" x2="35.1" y2="235.2128975509482" stroke="#777" stroke-width="0.4"/>
<line x1="78.41338994363176" y1="274.59999999999997" x2="78.41338994363176" y2="276.0" stroke="#777" stroke-width="0.4"/>
<line x1="33.7" y1="233.14382525704397" x2="35.1" y2="233.14382525704397" stroke="#777" stroke-width="0.4"/>
<line x1="80.70257631135561" y1="274.59999999999997" x2="80.70257631135561" y2="276.0" stroke="#777" stroke-width="0.4"/>
<line x1="33.7" y1="231.67579510189645" x2="35.1" y2="231.67579510189645" stroke="#777" stroke-width="0.4"/>
<line x1="82.32677988726351" y1="274.59999999999997" x2="82.32677988726351" y2="276.0" stroke="#777" stroke-width="0.4"/>
<line x1="33.7" y1="230.5371024490518" x2="35.1" y2="230.5371024490518" stroke="#777" stroke-width="0.4"/>
<line x1="83.58661005636824" y1="274.59999999999997" x2="83.58661005636824" y2="276.0" stroke="#777" stroke-width="0.4"/>
<line x1="33.7" y1="229.60672280799218" x2="35.1" y2="229.60672280799218" stroke="#777" stroke-width="0.4"/>
<line x1="84.61596625498737" y1="274.59999999999997" x2="84.61596625498737" y2="276.0" stroke="#777" stroke-width="0.4"/>
<line x1="33.7" y1="228.82009802983248" x2="35.1" y2="228.82009802983248" stroke="#777" stroke-width="0.4"/>
<line x1="85.48627452018533" y1="274.59999999999997" x2="85.48627452018533" y2="276.0" stroke="#777" stroke-width="0.4"/>
<line x1="33.7" y1="228.13869265284467" x2="35.1" y2="228.13869265284467" stroke="#777" stroke-width="0.4"/>
<line x1="86.24016983089527" y1="274.59999999999997" x2="86.24016983089527" y2="276.0" stroke="#777" stroke-width="0.4"/>
<line x1="33.7" y1="227.53765051408794" x2="35.1" y2="227.53765051408794" stroke="#777" stroke-width="0.4"/>
<line x1="86.90515262271123" y1="274.59999999999997" x2="86.90515262271123" y2="276.0" stroke="#777" stroke-width="0.4"/>
<line x1="33.0" y1="227.0" x2="35.3" y2="227.0" stroke="#222" stroke-width="0.7"/>
<text x="30.3" y="229.2" font-size="6.2" text-anchor="end" fill="#262626">10<tspan font-size="3.8" dy="-2.3">6</tspan></text>
<line x1="33.0" y1="238.75" x2="35.3" y2="238.75" stroke="#222" stroke-width="0.7"/>
<text x="30.3" y="240.95" font-size="6.2" text-anchor="end" fill="#262626">10<tspan font-size="3.8" dy="-2.3">5</tspan></text>
<line x1="33.0" y1="250.5" x2="35.3" y2="250.5" stroke="#222" stroke-width="0.7"/>
<text x="30.3" y="252.7" font-size="6.2" text-anchor="end" fill="#262626">10<tspan font-size="3.8" dy="-2.3">4</tspan></text>
<line x1="33.0" y1="262.25" x2="35.3" y2="262.25" stroke="#222" stroke-width="0.7"/>
<text x="30.3" y="264.45" font-size="6.2" text-anchor="end" fill="#262626">10<tspan font-size="3.8" dy="-2.3">3</tspan></text>
<line x1="33.0" y1="274.0" x2="35.3" y2="274.0" stroke="#222" stroke-width="0.7"/>
<text x="30.3" y="276.2" font-size="6.2" text-anchor="end" fill="#262626">10<tspan font-size="3.8" dy="-2.3">2</tspan></text>
<line x1="35.5" y1="274.4" x2="35.5" y2="276.7" stroke="#222" stroke-width="0.7"/>
<text x="36.7" y="284.4" font-size="6.2" text-anchor="middle" fill="#262626">10<tspan font-size="3.8" dy="-2.3">2</tspan></text>
<line x1="48.5" y1="274.4" x2="48.5" y2="276.7" stroke="#222" stroke-width="0.7"/>
<text x="49.7" y="284.4" font-size="6.2" text-anchor="middle" fill="#262626">10<tspan font-size="3.8" dy="-2.3">3</tspan></text>
<line x1="61.5" y1="274.4" x2="61.5" y2="276.7" stroke="#222" stroke-width="0.7"/>
<text x="62.7" y="284.4" font-size="6.2" text-anchor="middle" fill="#262626">10<tspan font-size="3.8" dy="-2.3">4</tspan></text>
<line x1="74.5" y1="274.4" x2="74.5" y2="276.7" stroke="#222" stroke-width="0.7"/>
<text x="75.7" y="284.4" font-size="6.2" text-anchor="middle" fill="#262626">10<tspan font-size="3.8" dy="-2.3">5</tspan></text>
<line x1="87.5" y1="274.4" x2="87.5" y2="276.7" stroke="#222" stroke-width="0.7"/>
<text x="88.7" y="284.4" font-size="6.2" text-anchor="middle" fill="#262626">10<tspan font-size="3.8" dy="-2.3">6</tspan></text>
<rect x="55.4" y="232.1" width="28.300000000000004" height="18.599999999999994" fill="none" stroke="#555" stroke-width="0.7"/>
<text x="82.2" y="249.1" font-size="6.6" text-anchor="end" fill="#222">1.3</text>
<text x="62.7" y="296.7" font-size="8.4" text-anchor="middle" fill="#262626" textLength="33" lengthAdjust="spacingAndGlyphs">CD34 - APC</text>
<text x="15.899999999999999" y="248.45" font-size="8.2" text-anchor="middle" fill="#262626" transform="rotate(-90 15.899999999999999 248.45)" textLength="46.6" lengthAdjust="spacingAndGlyphs">CD45 - APC-Cy7</text>
<rect x="125.5" y="219.6" width="54.69999999999999" height="55.900000000000006" fill="none" stroke="#d4d4d4" stroke-width="0.8"/>
<path d="M142.3 233.2h0M134.5 230.2h0M127.7 233.5h0M134.7 230.8h0M139.7 228.9h0M139.5 230.8h0M130.3 231.2h0M142.4 228.2h0M140.8 231.1h0M139.5 231.4h0M142.8 230.5h0M141.1 230.2h0M140.5 229.7h0M137.2 233.2h0M139.4 230.6h0M133.0 229.7h0M138.4 232.1h0M139.3 231.5h0M137.4 232.7h0M136.0 230.0h0M141.2 230.9h0M136.5 230.0h0M136.6 231.7h0M139.0 229.1h0M139.3 231.1h0M133.6 231.9h0M136.5 230.3h0M140.8 232.6h0M134.8 231.4h0M134.1 234.0h0M135.6 232.5h0M135.0 231.9h0M146.5 227.2h0M135.9 231.5h0M137.2 229.9h0M146.2 230.9h0M131.0 232.0h0M130.7 232.4h0M135.3 231.0h0M142.6 231.0h0M132.0 228.4h0M142.3 231.8h0M134.3 232.0h0M139.6 231.7h0M128.6 230.4h0M141.2 231.8h0M141.1 227.4h0M138.3 231.5h0M147.8 229.5h0M136.3 230.9h0" stroke="#8088c8" stroke-width="0.9" stroke-linecap="round" stroke-opacity="0.55"/>
<path d="M159.1 240.6h0M160.2 239.9h0M156.5 240.4h0M156.1 240.1h0M148.7 243.7h0M156.7 240.4h0M156.2 243.5h0M151.3 241.3h0M157.7 242.6h0M154.0 237.3h0M160.6 242.2h0M155.5 240.9h0M156.5 240.6h0M151.1 240.0h0M152.9 240.3h0M150.5 242.8h0M149.9 242.8h0M151.1 242.2h0M161.2 241.9h0M152.3 241.6h0M156.0 238.0h0M152.8 241.8h0M153.4 241.7h0M158.5 243.0h0M159.2 242.7h0M154.2 241.5h0M154.3 240.9h0M154.6 238.1h0M154.0 241.5h0M151.3 241.5h0M157.6 241.2h0M164.1 236.3h0M154.5 237.8h0M159.5 246.8h0M144.9 241.8h0M157.6 240.9h0M157.7 237.0h0M159.0 242.2h0M155.5 240.3h0M158.1 240.5h0M156.3 240.5h0M146.0 241.4h0M156.2 243.0h0M151.7 241.4h0M158.0 241.8h0M160.6 245.5h0M151.6 237.7h0M159.0 244.6h0M159.3 243.1h0M152.8 240.1h0M159.1 239.7h0M147.8 239.5h0M165.9 245.3h0M152.5 240.0h0M156.4 240.0h0M160.9 241.3h0M150.8 244.1h0M153.0 241.9h0M155.3 240.9h0M156.8 240.1h0M147.7 237.1h0M150.1 240.0h0M155.3 241.6h0M157.7 241.7h0M152.1 240.1h0M146.5 241.2h0M157.4 242.6h0M154.9 241.2h0M159.3 241.5h0M158.5 242.7h0" stroke="#6a70b8" stroke-width="0.9" stroke-linecap="round" stroke-opacity="0.6"/>
<ellipse cx="137.6" cy="230.8" rx="6" ry="1.8" fill="#a0a4d8" opacity="0.75" filter="url(#bl1)"/>
<ellipse cx="155.4" cy="241.5" rx="5.5" ry="2.6" fill="#7c80c0" opacity="0.8" filter="url(#bl1)"/>
<line x1="124.7" y1="269.3628975509482" x2="126.1" y2="269.3628975509482" stroke="#777" stroke-width="0.4"/>
<line x1="130.41338994363176" y1="274.9" x2="130.41338994363176" y2="276.3" stroke="#777" stroke-width="0.4"/>
<line x1="124.7" y1="267.2938252570439" x2="126.1" y2="267.2938252570439" stroke="#777" stroke-width="0.4"/>
<line x1="132.7025763113556" y1="274.9" x2="132.7025763113556" y2="276.3" stroke="#777" stroke-width="0.4"/>
<line x1="124.7" y1="265.8257951018964" x2="126.1" y2="265.8257951018964" stroke="#777" stroke-width="0.4"/>
<line x1="134.3267798872635" y1="274.9" x2="134.3267798872635" y2="276.3" stroke="#777" stroke-width="0.4"/>
<line x1="124.7" y1="264.68710244905174" x2="126.1" y2="264.68710244905174" stroke="#777" stroke-width="0.4"/>
<line x1="135.58661005636824" y1="274.9" x2="135.58661005636824" y2="276.3" stroke="#777" stroke-width="0.4"/>
<line x1="124.7" y1="263.75672280799216" x2="126.1" y2="263.75672280799216" stroke="#777" stroke-width="0.4"/>
<line x1="136.61596625498737" y1="274.9" x2="136.61596625498737" y2="276.3" stroke="#777" stroke-width="0.4"/>
<line x1="124.7" y1="262.97009802983246" x2="126.1" y2="262.97009802983246" stroke="#777" stroke-width="0.4"/>
<line x1="137.48627452018533" y1="274.9" x2="137.48627452018533" y2="276.3" stroke="#777" stroke-width="0.4"/>
<line x1="124.7" y1="262.28869265284465" x2="126.1" y2="262.28869265284465" stroke="#777" stroke-width="0.4"/>
<line x1="138.24016983089527" y1="274.9" x2="138.24016983089527" y2="276.3" stroke="#777" stroke-width="0.4"/>
<line x1="124.7" y1="261.6876505140879" x2="126.1" y2="261.6876505140879" stroke="#777" stroke-width="0.4"/>
<line x1="138.90515262271123" y1="274.9" x2="138.90515262271123" y2="276.3" stroke="#777" stroke-width="0.4"/>
<line x1="124.7" y1="257.6128975509482" x2="126.1" y2="257.6128975509482" stroke="#777" stroke-width="0.4"/>
<line x1="143.41338994363176" y1="274.9" x2="143.41338994363176" y2="276.3" stroke="#777" stroke-width="0.4"/>
<line x1="124.7" y1="255.54382525704395" x2="126.1" y2="255.54382525704395" stroke="#777" stroke-width="0.4"/>
<line x1="145.7025763113556" y1="274.9" x2="145.7025763113556" y2="276.3" stroke="#777" stroke-width="0.4"/>
<line x1="124.7" y1="254.07579510189643" x2="126.1" y2="254.07579510189643" stroke="#777" stroke-width="0.4"/>
<line x1="147.3267798872635" y1="274.9" x2="147.3267798872635" y2="276.3" stroke="#777" stroke-width="0.4"/>
<line x1="124.7" y1="252.93710244905176" x2="126.1" y2="252.93710244905176" stroke="#777" stroke-width="0.4"/>
<line x1="148.58661005636824" y1="274.9" x2="148.58661005636824" y2="276.3" stroke="#777" stroke-width="0.4"/>
<line x1="124.7" y1="252.00672280799216" x2="126.1" y2="252.00672280799216" stroke="#777" stroke-width="0.4"/>
<line x1="149.61596625498737" y1="274.9" x2="149.61596625498737" y2="276.3" stroke="#777" stroke-width="0.4"/>
<line x1="124.7" y1="251.22009802983246" x2="126.1" y2="251.22009802983246" stroke="#777" stroke-width="0.4"/>
<line x1="150.48627452018533" y1="274.9" x2="150.48627452018533" y2="276.3" stroke="#777" stroke-width="0.4"/>
<line x1="124.7" y1="250.53869265284465" x2="126.1" y2="250.53869265284465" stroke="#777" stroke-width="0.4"/>
<line x1="151.24016983089527" y1="274.9" x2="151.24016983089527" y2="276.3" stroke="#777" stroke-width="0.4"/>
<line x1="124.7" y1="249.93765051408792" x2="126.1" y2="249.93765051408792" stroke="#777" stroke-width="0.4"/>
<line x1="151.90515262271123" y1="274.9" x2="151.90515262271123" y2="276.3" stroke="#777" stroke-width="0.4"/>
<line x1="124.7" y1="245.86289755094822" x2="126.1" y2="245.86289755094822" stroke="#777" stroke-width="0.4"/>
<line x1="156.41338994363176" y1="274.9" x2="156.41338994363176" y2="276.3" stroke="#777" stroke-width="0.4"/>
<line x1="124.7" y1="243.79382525704398" x2="126.1" y2="243.79382525704398" stroke="#777" stroke-width="0.4"/>
<line x1="158.7025763113556" y1="274.9" x2="158.7025763113556" y2="276.3" stroke="#777" stroke-width="0.4"/>
<line x1="124.7" y1="242.32579510189646" x2="126.1" y2="242.32579510189646" stroke="#777" stroke-width="0.4"/>
<line x1="160.3267798872635" y1="274.9" x2="160.3267798872635" y2="276.3" stroke="#777" stroke-width="0.4"/>
<line x1="124.7" y1="241.1871024490518" x2="126.1" y2="241.1871024490518" stroke="#777" stroke-width="0.4"/>
<line x1="161.58661005636824" y1="274.9" x2="161.58661005636824" y2="276.3" stroke="#777" stroke-width="0.4"/>
<line x1="124.7" y1="240.2567228079922" x2="126.1" y2="240.2567228079922" stroke="#777" stroke-width="0.4"/>
<line x1="162.61596625498737" y1="274.9" x2="162.61596625498737" y2="276.3" stroke="#777" stroke-width="0.4"/>
<line x1="124.7" y1="239.47009802983249" x2="126.1" y2="239.47009802983249" stroke="#777" stroke-width="0.4"/>
<line x1="163.48627452018533" y1="274.9" x2="163.48627452018533" y2="276.3" stroke="#777" stroke-width="0.4"/>
<line x1="124.7" y1="238.78869265284467" x2="126.1" y2="238.78869265284467" stroke="#777" stroke-width="0.4"/>
<line x1="164.24016983089527" y1="274.9" x2="164.24016983089527" y2="276.3" stroke="#777" stroke-width="0.4"/>
<line x1="124.7" y1="238.18765051408795" x2="126.1" y2="238.18765051408795" stroke="#777" stroke-width="0.4"/>
<line x1="164.90515262271123" y1="274.9" x2="164.90515262271123" y2="276.3" stroke="#777" stroke-width="0.4"/>
<line x1="124.7" y1="234.11289755094822" x2="126.1" y2="234.11289755094822" stroke="#777" stroke-width="0.4"/>
<line x1="169.41338994363176" y1="274.9" x2="169.41338994363176" y2="276.3" stroke="#777" stroke-width="0.4"/>
<line x1="124.7" y1="232.04382525704398" x2="126.1" y2="232.04382525704398" stroke="#777" stroke-width="0.4"/>
<line x1="171.7025763113556" y1="274.9" x2="171.7025763113556" y2="276.3" stroke="#777" stroke-width="0.4"/>
<line x1="124.7" y1="230.57579510189646" x2="126.1" y2="230.57579510189646" stroke="#777" stroke-width="0.4"/>
<line x1="173.3267798872635" y1="274.9" x2="173.3267798872635" y2="276.3" stroke="#777" stroke-width="0.4"/>
<line x1="124.7" y1="229.4371024490518" x2="126.1" y2="229.4371024490518" stroke="#777" stroke-width="0.4"/>
<line x1="174.58661005636824" y1="274.9" x2="174.58661005636824" y2="276.3" stroke="#777" stroke-width="0.4"/>
<line x1="124.7" y1="228.5067228079922" x2="126.1" y2="228.5067228079922" stroke="#777" stroke-width="0.4"/>
<line x1="175.61596625498737" y1="274.9" x2="175.61596625498737" y2="276.3" stroke="#777" stroke-width="0.4"/>
<line x1="124.7" y1="227.72009802983249" x2="126.1" y2="227.72009802983249" stroke="#777" stroke-width="0.4"/>
<line x1="176.48627452018533" y1="274.9" x2="176.48627452018533" y2="276.3" stroke="#777" stroke-width="0.4"/>
<line x1="124.7" y1="227.03869265284467" x2="126.1" y2="227.03869265284467" stroke="#777" stroke-width="0.4"/>
<line x1="177.24016983089527" y1="274.9" x2="177.24016983089527" y2="276.3" stroke="#777" stroke-width="0.4"/>
<line x1="124.7" y1="226.43765051408795" x2="126.1" y2="226.43765051408795" stroke="#777" stroke-width="0.4"/>
<line x1="177.90515262271123" y1="274.9" x2="177.90515262271123" y2="276.3" stroke="#777" stroke-width="0.4"/>
<line x1="124.0" y1="225.9" x2="126.3" y2="225.9" stroke="#222" stroke-width="0.7"/>
<text x="121.3" y="228.1" font-size="6.2" text-anchor="end" fill="#262626">10<tspan font-size="3.8" dy="-2.3">6</tspan></text>
<line x1="124.0" y1="237.65" x2="126.3" y2="237.65" stroke="#222" stroke-width="0.7"/>
<text x="121.3" y="239.85" font-size="6.2" text-anchor="end" fill="#262626">10<tspan font-size="3.8" dy="-2.3">5</tspan></text>
<line x1="124.0" y1="249.4" x2="126.3" y2="249.4" stroke="#222" stroke-width="0.7"/>
<text x="121.3" y="251.6" font-size="6.2" text-anchor="end" fill="#262626">10<tspan font-size="3.8" dy="-2.3">4</tspan></text>
<line x1="124.0" y1="261.15" x2="126.3" y2="261.15" stroke="#222" stroke-width="0.7"/>
<text x="121.3" y="263.34999999999997" font-size="6.2" text-anchor="end" fill="#262626">10<tspan font-size="3.8" dy="-2.3">3</tspan></text>
<line x1="124.0" y1="272.9" x2="126.3" y2="272.9" stroke="#222" stroke-width="0.7"/>
<text x="121.3" y="275.09999999999997" font-size="6.2" text-anchor="end" fill="#262626">10<tspan font-size="3.8" dy="-2.3">2</tspan></text>
<line x1="126.5" y1="274.7" x2="126.5" y2="277.0" stroke="#222" stroke-width="0.7"/>
<text x="127.7" y="284.7" font-size="6.2" text-anchor="middle" fill="#262626">10<tspan font-size="3.8" dy="-2.3">2</tspan></text>
<line x1="139.5" y1="274.7" x2="139.5" y2="277.0" stroke="#222" stroke-width="0.7"/>
<text x="140.7" y="284.7" font-size="6.2" text-anchor="middle" fill="#262626">10<tspan font-size="3.8" dy="-2.3">3</tspan></text>
<line x1="152.5" y1="274.7" x2="152.5" y2="277.0" stroke="#222" stroke-width="0.7"/>
<text x="153.7" y="284.7" font-size="6.2" text-anchor="middle" fill="#262626">10<tspan font-size="3.8" dy="-2.3">4</tspan></text>
<line x1="165.5" y1="274.7" x2="165.5" y2="277.0" stroke="#222" stroke-width="0.7"/>
<text x="166.7" y="284.7" font-size="6.2" text-anchor="middle" fill="#262626">10<tspan font-size="3.8" dy="-2.3">5</tspan></text>
<line x1="178.5" y1="274.7" x2="178.5" y2="277.0" stroke="#222" stroke-width="0.7"/>
<text x="179.7" y="284.7" font-size="6.2" text-anchor="middle" fill="#262626">10<tspan font-size="3.8" dy="-2.3">6</tspan></text>
<rect x="146.5" y="232.6" width="27.900000000000006" height="17.700000000000017" fill="none" stroke="#555" stroke-width="0.7"/>
<text x="172.9" y="248.70000000000002" font-size="6.6" text-anchor="end" fill="#222">52.6</text>
<text x="153.7" y="297.0" font-size="8.4" text-anchor="middle" fill="#262626" textLength="33" lengthAdjust="spacingAndGlyphs">CD34 - APC</text>
<text x="106.9" y="248.05" font-size="8.2" text-anchor="middle" fill="#262626" transform="rotate(-90 106.9 248.05)" textLength="46.6" lengthAdjust="spacingAndGlyphs">CD45 - APC-Cy7</text>
<rect x="215.2" y="220.6" width="55.19999999999999" height="54.400000000000006" fill="none" stroke="#d4d4d4" stroke-width="0.8"/>
<path d="M231.5 235.2h0M226.0 229.9h0M224.3 228.4h0M240.9 236.6h0M230.2 232.8h0M238.2 233.6h0M238.4 227.0h0M225.5 232.4h0M240.0 231.3h0M224.0 229.9h0M225.4 228.3h0M240.5 229.0h0M230.1 237.9h0M238.3 232.1h0M225.7 232.3h0M241.4 233.0h0M238.8 231.3h0M233.6 230.4h0M233.0 235.2h0M220.0 230.8h0M231.7 229.2h0M227.8 233.5h0M244.0 233.0h0M232.3 226.0h0M243.5 231.2h0M229.8 227.4h0M229.6 227.5h0M230.5 232.5h0M230.2 231.9h0M224.0 235.6h0M225.4 225.2h0M228.7 228.6h0M222.9 229.9h0M232.0 227.2h0M229.0 235.6h0M234.8 230.5h0M230.9 230.6h0M229.7 233.3h0M229.4 223.3h0M229.8 228.2h0M234.6 229.0h0M231.0 238.0h0M222.7 227.4h0M220.1 223.3h0M216.9 232.2h0M225.5 225.0h0M219.6 233.0h0M224.6 229.8h0M232.3 235.3h0M243.6 234.3h0M231.0 231.6h0M242.6 235.6h0M227.8 232.5h0M232.0 231.2h0M226.5 226.8h0M226.3 226.1h0M238.6 232.7h0M221.6 235.5h0M236.2 224.9h0M242.9 233.6h0M244.4 227.1h0M233.7 232.4h0M231.4 231.5h0M237.4 226.2h0M221.3 226.5h0M226.1 229.1h0M232.6 231.9h0M230.2 228.8h0M226.9 234.0h0M235.3 231.3h0M227.7 236.0h0M225.8 233.1h0M238.1 230.2h0M235.8 227.4h0M237.1 231.6h0M218.9 233.1h0M223.8 235.1h0M225.2 230.5h0M232.0 229.9h0M231.8 229.2h0M234.7 231.0h0M231.5 222.2h0M238.1 231.1h0M217.5 231.3h0M233.3 234.4h0M222.4 236.0h0M228.9 238.7h0M229.0 233.2h0M227.4 227.4h0M237.7 233.9h0M240.8 233.7h0M226.0 225.7h0M225.4 228.8h0M224.3 232.9h0M232.3 230.1h0M231.2 230.5h0M231.5 233.4h0M236.7 228.8h0M219.5 235.6h0M230.8 234.5h0M218.5 229.9h0M230.2 226.4h0M226.4 233.3h0M237.5 236.1h0M224.0 226.5h0M233.6 234.0h0M231.4 226.8h0M235.5 233.5h0M233.9 229.4h0M232.1 233.5h0M226.1 225.1h0M232.3 232.5h0M230.1 233.8h0M225.9 230.7h0M227.9 232.8h0M241.2 230.2h0M244.4 235.9h0M235.5 232.9h0M242.4 230.4h0M229.2 227.6h0M233.3 235.3h0M233.7 232.4h0M228.6 231.5h0M220.0 234.4h0M227.1 227.5h0M224.7 228.4h0M236.0 234.4h0M220.5 234.0h0M236.2 229.1h0M219.6 228.6h0M225.6 232.1h0M227.5 224.5h0M231.6 226.1h0M236.3 227.1h0M225.1 228.3h0M226.2 235.2h0M236.0 232.9h0M232.2 226.0h0M226.4 229.2h0M223.2 232.6h0M224.8 228.7h0M222.7 224.4h0M234.2 235.3h0M231.2 227.9h0M211.1 231.6h0M238.5 232.0h0M236.5 235.7h0M237.9 229.6h0M237.4 233.5h0M219.2 229.7h0" stroke="#5a6ab8" stroke-width="0.9" stroke-linecap="round" stroke-opacity="0.45"/>
<path d="M238.5 236.2h0M250.5 233.7h0M234.7 239.9h0M249.3 240.3h0M239.1 239.3h0M259.4 241.7h0M245.7 237.2h0M246.1 239.1h0M253.2 236.7h0M238.8 238.4h0M244.2 238.1h0M248.6 240.7h0M253.8 235.3h0M249.1 241.1h0M243.8 237.6h0M254.1 239.8h0M250.1 233.1h0M239.4 237.1h0M249.3 243.1h0M241.8 239.5h0M251.6 232.2h0M242.1 236.9h0M244.0 236.1h0M249.8 234.4h0M249.8 234.8h0M243.7 237.9h0M243.6 237.2h0M256.6 236.6h0M246.1 238.4h0M244.8 239.3h0M239.3 238.1h0M243.9 234.4h0M257.6 234.3h0M257.5 238.2h0M255.7 234.0h0M254.2 240.3h0M246.3 236.2h0M261.7 237.0h0M244.5 234.9h0M249.7 237.4h0M248.1 241.0h0M245.0 237.7h0M255.8 233.9h0M253.2 241.3h0M238.9 233.6h0M240.8 231.7h0M249.7 231.7h0M250.0 240.3h0M237.3 235.7h0M235.5 238.5h0M242.6 235.8h0M247.3 237.9h0M244.9 236.5h0M243.7 236.8h0M240.0 236.7h0M235.4 235.2h0M258.5 236.7h0M239.4 237.2h0M241.2 232.2h0M242.6 238.4h0M249.3 236.2h0M241.4 233.7h0M255.1 237.1h0M241.3 231.0h0M238.8 242.9h0M240.1 236.3h0M248.3 236.1h0M245.3 232.9h0M240.7 240.9h0M242.5 238.7h0M236.8 235.8h0M248.6 239.2h0M240.3 238.0h0M249.3 234.6h0M249.9 234.2h0M242.2 236.5h0M230.7 236.2h0M241.0 232.7h0M244.4 238.5h0M244.6 239.8h0M240.0 233.1h0M256.3 237.5h0M252.7 234.4h0M251.8 237.2h0M250.9 236.6h0M254.2 234.8h0M241.2 232.7h0M254.0 234.6h0M240.7 234.1h0M244.3 233.2h0M245.3 234.9h0M243.7 234.0h0M247.2 235.3h0M247.7 237.1h0M249.0 230.8h0M243.8 234.4h0M251.6 232.4h0M242.7 235.7h0M245.0 239.1h0M244.3 239.0h0M238.2 231.8h0M254.3 237.6h0M249.9 236.8h0M249.9 233.3h0M252.7 235.1h0M252.9 236.7h0M235.2 233.2h0M253.8 236.1h0M244.6 237.1h0M244.4 235.1h0M247.6 236.9h0M256.1 236.6h0M258.3 241.2h0M257.3 239.3h0M247.8 236.9h0M246.1 234.6h0M246.6 234.8h0M256.8 237.9h0M244.3 231.5h0M246.7 235.4h0" stroke="#3a6aa0" stroke-width="0.9" stroke-linecap="round" stroke-opacity="0.45"/>
<path d="M217,226 Q226,223.8 236,226 Q242,229 250,231.5 Q257.5,233.5 257,238.5 Q254,242.3 246,241.5 Q238,240.5 232,238 Q222,236 217.5,233 Z" fill="#6a7cb8" opacity="0.85" filter="url(#bl1)"/>
<ellipse cx="247.5" cy="236.5" rx="8.5" ry="3.4" fill="#4a8aa0" opacity="0.7" filter="url(#bl1)"/>
<ellipse cx="231.5" cy="231.5" rx="3.0" ry="1.7" fill="#80c050" opacity="0.85" filter="url(#bl1)"/>
<ellipse cx="248" cy="237" rx="4.5" ry="1.8" fill="#6aa878" opacity="0.75" filter="url(#bl1)"/>
<line x1="214.39999999999998" y1="270.3628975509482" x2="215.79999999999998" y2="270.3628975509482" stroke="#777" stroke-width="0.4"/>
<line x1="220.11338994363174" y1="274.4" x2="220.11338994363174" y2="275.8" stroke="#777" stroke-width="0.4"/>
<line x1="214.39999999999998" y1="268.2938252570439" x2="215.79999999999998" y2="268.2938252570439" stroke="#777" stroke-width="0.4"/>
<line x1="222.4025763113556" y1="274.4" x2="222.4025763113556" y2="275.8" stroke="#777" stroke-width="0.4"/>
<line x1="214.39999999999998" y1="266.8257951018964" x2="215.79999999999998" y2="266.8257951018964" stroke="#777" stroke-width="0.4"/>
<line x1="224.0267798872635" y1="274.4" x2="224.0267798872635" y2="275.8" stroke="#777" stroke-width="0.4"/>
<line x1="214.39999999999998" y1="265.68710244905174" x2="215.79999999999998" y2="265.68710244905174" stroke="#777" stroke-width="0.4"/>
<line x1="225.28661005636823" y1="274.4" x2="225.28661005636823" y2="275.8" stroke="#777" stroke-width="0.4"/>
<line x1="214.39999999999998" y1="264.75672280799216" x2="215.79999999999998" y2="264.75672280799216" stroke="#777" stroke-width="0.4"/>
<line x1="226.31596625498736" y1="274.4" x2="226.31596625498736" y2="275.8" stroke="#777" stroke-width="0.4"/>
<line x1="214.39999999999998" y1="263.97009802983246" x2="215.79999999999998" y2="263.97009802983246" stroke="#777" stroke-width="0.4"/>
<line x1="227.18627452018532" y1="274.4" x2="227.18627452018532" y2="275.8" stroke="#777" stroke-width="0.4"/>
<line x1="214.39999999999998" y1="263.28869265284465" x2="215.79999999999998" y2="263.28869265284465" stroke="#777" stroke-width="0.4"/>
<line x1="227.94016983089526" y1="274.4" x2="227.94016983089526" y2="275.8" stroke="#777" stroke-width="0.4"/>
<line x1="214.39999999999998" y1="262.6876505140879" x2="215.79999999999998" y2="262.6876505140879" stroke="#777" stroke-width="0.4"/>
<line x1="228.60515262271122" y1="274.4" x2="228.60515262271122" y2="275.8" stroke="#777" stroke-width="0.4"/>
<line x1="214.39999999999998" y1="258.6128975509482" x2="215.79999999999998" y2="258.6128975509482" stroke="#777" stroke-width="0.4"/>
<line x1="233.11338994363174" y1="274.4" x2="233.11338994363174" y2="275.8" stroke="#777" stroke-width="0.4"/>
<line x1="214.39999999999998" y1="256.5438252570439" x2="215.79999999999998" y2="256.5438252570439" stroke="#777" stroke-width="0.4"/>
<line x1="235.4025763113556" y1="274.4" x2="235.4025763113556" y2="275.8" stroke="#777" stroke-width="0.4"/>
<line x1="214.39999999999998" y1="255.07579510189643" x2="215.79999999999998" y2="255.07579510189643" stroke="#777" stroke-width="0.4"/>
<line x1="237.0267798872635" y1="274.4" x2="237.0267798872635" y2="275.8" stroke="#777" stroke-width="0.4"/>
<line x1="214.39999999999998" y1="253.93710244905176" x2="215.79999999999998" y2="253.93710244905176" stroke="#777" stroke-width="0.4"/>
<line x1="238.28661005636823" y1="274.4" x2="238.28661005636823" y2="275.8" stroke="#777" stroke-width="0.4"/>
<line x1="214.39999999999998" y1="253.00672280799216" x2="215.79999999999998" y2="253.00672280799216" stroke="#777" stroke-width="0.4"/>
<line x1="239.31596625498736" y1="274.4" x2="239.31596625498736" y2="275.8" stroke="#777" stroke-width="0.4"/>
<line x1="214.39999999999998" y1="252.22009802983246" x2="215.79999999999998" y2="252.22009802983246" stroke="#777" stroke-width="0.4"/>
<line x1="240.18627452018532" y1="274.4" x2="240.18627452018532" y2="275.8" stroke="#777" stroke-width="0.4"/>
<line x1="214.39999999999998" y1="251.53869265284465" x2="215.79999999999998" y2="251.53869265284465" stroke="#777" stroke-width="0.4"/>
<line x1="240.94016983089526" y1="274.4" x2="240.94016983089526" y2="275.8" stroke="#777" stroke-width="0.4"/>
<line x1="214.39999999999998" y1="250.93765051408792" x2="215.79999999999998" y2="250.93765051408792" stroke="#777" stroke-width="0.4"/>
<line x1="241.60515262271122" y1="274.4" x2="241.60515262271122" y2="275.8" stroke="#777" stroke-width="0.4"/>
<line x1="214.39999999999998" y1="246.86289755094822" x2="215.79999999999998" y2="246.86289755094822" stroke="#777" stroke-width="0.4"/>
<line x1="246.11338994363174" y1="274.4" x2="246.11338994363174" y2="275.8" stroke="#777" stroke-width="0.4"/>
<line x1="214.39999999999998" y1="244.79382525704398" x2="215.79999999999998" y2="244.79382525704398" stroke="#777" stroke-width="0.4"/>
<line x1="248.4025763113556" y1="274.4" x2="248.4025763113556" y2="275.8" stroke="#777" stroke-width="0.4"/>
<line x1="214.39999999999998" y1="243.32579510189646" x2="215.79999999999998" y2="243.32579510189646" stroke="#777" stroke-width="0.4"/>
<line x1="250.0267798872635" y1="274.4" x2="250.0267798872635" y2="275.8" stroke="#777" stroke-width="0.4"/>
<line x1="214.39999999999998" y1="242.1871024490518" x2="215.79999999999998" y2="242.1871024490518" stroke="#777" stroke-width="0.4"/>
<line x1="251.28661005636823" y1="274.4" x2="251.28661005636823" y2="275.8" stroke="#777" stroke-width="0.4"/>
<line x1="214.39999999999998" y1="241.2567228079922" x2="215.79999999999998" y2="241.2567228079922" stroke="#777" stroke-width="0.4"/>
<line x1="252.31596625498736" y1="274.4" x2="252.31596625498736" y2="275.8" stroke="#777" stroke-width="0.4"/>
<line x1="214.39999999999998" y1="240.47009802983249" x2="215.79999999999998" y2="240.47009802983249" stroke="#777" stroke-width="0.4"/>
<line x1="253.18627452018532" y1="274.4" x2="253.18627452018532" y2="275.8" stroke="#777" stroke-width="0.4"/>
<line x1="214.39999999999998" y1="239.78869265284467" x2="215.79999999999998" y2="239.78869265284467" stroke="#777" stroke-width="0.4"/>
<line x1="253.94016983089526" y1="274.4" x2="253.94016983089526" y2="275.8" stroke="#777" stroke-width="0.4"/>
<line x1="214.39999999999998" y1="239.18765051408795" x2="215.79999999999998" y2="239.18765051408795" stroke="#777" stroke-width="0.4"/>
<line x1="254.60515262271122" y1="274.4" x2="254.60515262271122" y2="275.8" stroke="#777" stroke-width="0.4"/>
<line x1="214.39999999999998" y1="235.11289755094822" x2="215.79999999999998" y2="235.11289755094822" stroke="#777" stroke-width="0.4"/>
<line x1="259.1133899436317" y1="274.4" x2="259.1133899436317" y2="275.8" stroke="#777" stroke-width="0.4"/>
<line x1="214.39999999999998" y1="233.04382525704398" x2="215.79999999999998" y2="233.04382525704398" stroke="#777" stroke-width="0.4"/>
<line x1="261.4025763113556" y1="274.4" x2="261.4025763113556" y2="275.8" stroke="#777" stroke-width="0.4"/>
<line x1="214.39999999999998" y1="231.57579510189646" x2="215.79999999999998" y2="231.57579510189646" stroke="#777" stroke-width="0.4"/>
<line x1="263.0267798872635" y1="274.4" x2="263.0267798872635" y2="275.8" stroke="#777" stroke-width="0.4"/>
<line x1="214.39999999999998" y1="230.4371024490518" x2="215.79999999999998" y2="230.4371024490518" stroke="#777" stroke-width="0.4"/>
<line x1="264.28661005636826" y1="274.4" x2="264.28661005636826" y2="275.8" stroke="#777" stroke-width="0.4"/>
<line x1="214.39999999999998" y1="229.5067228079922" x2="215.79999999999998" y2="229.5067228079922" stroke="#777" stroke-width="0.4"/>
<line x1="265.31596625498736" y1="274.4" x2="265.31596625498736" y2="275.8" stroke="#777" stroke-width="0.4"/>
<line x1="214.39999999999998" y1="228.72009802983249" x2="215.79999999999998" y2="228.72009802983249" stroke="#777" stroke-width="0.4"/>
<line x1="266.18627452018535" y1="274.4" x2="266.18627452018535" y2="275.8" stroke="#777" stroke-width="0.4"/>
<line x1="214.39999999999998" y1="228.03869265284467" x2="215.79999999999998" y2="228.03869265284467" stroke="#777" stroke-width="0.4"/>
<line x1="266.94016983089523" y1="274.4" x2="266.94016983089523" y2="275.8" stroke="#777" stroke-width="0.4"/>
<line x1="214.39999999999998" y1="227.43765051408795" x2="215.79999999999998" y2="227.43765051408795" stroke="#777" stroke-width="0.4"/>
<line x1="267.6051526227112" y1="274.4" x2="267.6051526227112" y2="275.8" stroke="#777" stroke-width="0.4"/>
<line x1="213.7" y1="226.9" x2="216.0" y2="226.9" stroke="#222" stroke-width="0.7"/>
<text x="211.0" y="229.1" font-size="6.2" text-anchor="end" fill="#262626">10<tspan font-size="3.8" dy="-2.3">6</tspan></text>
<line x1="213.7" y1="238.65" x2="216.0" y2="238.65" stroke="#222" stroke-width="0.7"/>
<text x="211.0" y="240.85" font-size="6.2" text-anchor="end" fill="#262626">10<tspan font-size="3.8" dy="-2.3">5</tspan></text>
<line x1="213.7" y1="250.4" x2="216.0" y2="250.4" stroke="#222" stroke-width="0.7"/>
<text x="211.0" y="252.6" font-size="6.2" text-anchor="end" fill="#262626">10<tspan font-size="3.8" dy="-2.3">4</tspan></text>
<line x1="213.7" y1="262.15" x2="216.0" y2="262.15" stroke="#222" stroke-width="0.7"/>
<text x="211.0" y="264.34999999999997" font-size="6.2" text-anchor="end" fill="#262626">10<tspan font-size="3.8" dy="-2.3">3</tspan></text>
<line x1="213.7" y1="273.9" x2="216.0" y2="273.9" stroke="#222" stroke-width="0.7"/>
<text x="211.0" y="276.09999999999997" font-size="6.2" text-anchor="end" fill="#262626">10<tspan font-size="3.8" dy="-2.3">2</tspan></text>
<line x1="216.2" y1="274.2" x2="216.2" y2="276.5" stroke="#222" stroke-width="0.7"/>
<text x="217.39999999999998" y="284.2" font-size="6.2" text-anchor="middle" fill="#262626">10<tspan font-size="3.8" dy="-2.3">2</tspan></text>
<line x1="229.2" y1="274.2" x2="229.2" y2="276.5" stroke="#222" stroke-width="0.7"/>
<text x="230.39999999999998" y="284.2" font-size="6.2" text-anchor="middle" fill="#262626">10<tspan font-size="3.8" dy="-2.3">3</tspan></text>
<line x1="242.2" y1="274.2" x2="242.2" y2="276.5" stroke="#222" stroke-width="0.7"/>
<text x="243.39999999999998" y="284.2" font-size="6.2" text-anchor="middle" fill="#262626">10<tspan font-size="3.8" dy="-2.3">4</tspan></text>
<line x1="255.2" y1="274.2" x2="255.2" y2="276.5" stroke="#222" stroke-width="0.7"/>
<text x="256.4" y="284.2" font-size="6.2" text-anchor="middle" fill="#262626">10<tspan font-size="3.8" dy="-2.3">5</tspan></text>
<line x1="268.2" y1="274.2" x2="268.2" y2="276.5" stroke="#222" stroke-width="0.7"/>
<text x="269.4" y="284.2" font-size="6.2" text-anchor="middle" fill="#262626">10<tspan font-size="3.8" dy="-2.3">6</tspan></text>
<rect x="236.2" y="232.1" width="28.600000000000023" height="18.599999999999994" fill="none" stroke="#555" stroke-width="0.7"/>
<text x="263.3" y="249.1" font-size="6.6" text-anchor="end" fill="#222">46.3</text>
<text x="243.39999999999998" y="296.5" font-size="8.4" text-anchor="middle" fill="#262626" textLength="33" lengthAdjust="spacingAndGlyphs">CD34 - APC</text>
<text x="196.6" y="248.3" font-size="8.2" text-anchor="middle" fill="#262626" transform="rotate(-90 196.6 248.3)" textLength="46.6" lengthAdjust="spacingAndGlyphs">CD45 - APC-Cy7</text>
<text x="61.8" y="215.3" font-size="9" text-anchor="middle" fill="#262626" textLength="50.5" lengthAdjust="spacingAndGlyphs">Bone marrow</text>
<line x1="90.4" y1="212.9" x2="122.4" y2="212.9" stroke="#222" stroke-width="0.95"/>
<path d="M121.9,211.1 L125.4,212.9 L121.9,214.70000000000002 Z" fill="#222"/>
<text x="151.8" y="204.6" font-size="9" text-anchor="middle" fill="#262626" textLength="46" lengthAdjust="spacingAndGlyphs">Magnetically</text>
<text x="151.8" y="214" font-size="9" text-anchor="middle" fill="#262626" textLength="31" lengthAdjust="spacingAndGlyphs">enriched</text>
<line x1="183" y1="212.9" x2="216.6" y2="212.9" stroke="#222" stroke-width="0.95"/>
<path d="M216.1,211.1 L219.6,212.9 L216.1,214.70000000000002 Z" fill="#222"/>
<text x="242.5" y="204.3" font-size="9" text-anchor="middle" fill="#262626" font-style="italic" textLength="28" lengthAdjust="spacingAndGlyphs">In vitro</text>
<text x="242.5" y="214.8" font-size="9" text-anchor="middle" fill="#262626" textLength="38" lengthAdjust="spacingAndGlyphs">expanded</text>
<line x1="37.4" y1="339.6" x2="37.4" y2="438.1" stroke="#222" stroke-width="1.15"/>
<line x1="37.0" y1="437.7" x2="129.2" y2="437.7" stroke="#222" stroke-width="1.15"/>
<line x1="35.4" y1="355.8" x2="37.4" y2="355.8" stroke="#222" stroke-width="1.0"/>
<text x="33.4" y="358.0" font-size="6.3" text-anchor="end" fill="#262626">10</text>
<line x1="35.4" y1="385.0" x2="37.4" y2="385.0" stroke="#222" stroke-width="1.0"/>
<text x="33.4" y="387.2" font-size="6.3" text-anchor="end" fill="#262626">0</text>
<line x1="35.4" y1="414.2" x2="37.4" y2="414.2" stroke="#222" stroke-width="1.0"/>
<text x="33.4" y="416.4" font-size="6.3" text-anchor="end" fill="#262626">−10</text>
<line x1="53.3" y1="437.7" x2="53.3" y2="439.8" stroke="#222" stroke-width="1.0"/>
<text x="53.3" y="449" font-size="6.3" text-anchor="middle" fill="#262626">−10</text>
<line x1="84.3" y1="437.7" x2="84.3" y2="439.8" stroke="#222" stroke-width="1.0"/>
<text x="84.3" y="449" font-size="6.3" text-anchor="middle" fill="#262626">0</text>
<line x1="115.3" y1="437.7" x2="115.3" y2="439.8" stroke="#222" stroke-width="1.0"/>
<text x="115.3" y="449" font-size="6.3" text-anchor="middle" fill="#262626">10</text>
<text x="83.7" y="461.6" font-size="8.6" text-anchor="middle" fill="#262626" textLength="85.5" lengthAdjust="spacingAndGlyphs">Dimension 1 (arbitrary units)</text>
<text x="16.8" y="389.8" font-size="8.6" text-anchor="middle" fill="#262626" transform="rotate(-90 16.8 389.8)" textLength="86" lengthAdjust="spacingAndGlyphs">Dimension 2 (arbitrary units)</text>
<path d="M43.2,315.2 L45.8,319.8 L40.6,319.8 Z" fill="none" stroke="#f0a020" stroke-width="1"/>
<text x="48.5" y="319.7" font-size="7.6" text-anchor="start" fill="#262626" textLength="74.5" lengthAdjust="spacingAndGlyphs">Progenitor-reactive clones</text>
<circle cx="43.2" cy="325.8" r="2.5" fill="#7a0c12"/>
<text x="48.5" y="327.9" font-size="7.6" text-anchor="start" fill="#262626" textLength="48.5" lengthAdjust="spacingAndGlyphs">Expanded clones</text>
<circle cx="43.2" cy="333.9" r="2.1" fill="#c4c4c4"/>
<text x="48.5" y="336" font-size="7.6" text-anchor="start" fill="#262626" textLength="62.7" lengthAdjust="spacingAndGlyphs">Non-expanded clones</text>
<line x1="86.5" y1="403.5" x2="92.3" y2="401.7" stroke="#b8b8b8" stroke-width="2.1" stroke-linecap="round"/>
<line x1="86" y1="408" x2="89" y2="404.5" stroke="#b8b8b8" stroke-width="2.1" stroke-linecap="round"/>
<line x1="82" y1="415" x2="83.7" y2="413.8" stroke="#b8b8b8" stroke-width="2.1" stroke-linecap="round"/>
<line x1="92.3" y1="409.5" x2="100.4" y2="411.5" stroke="#b8b8b8" stroke-width="2.1" stroke-linecap="round"/>
<line x1="94" y1="419.6" x2="98" y2="413.8" stroke="#b8b8b8" stroke-width="2.1" stroke-linecap="round"/>
<line x1="106" y1="408" x2="110.8" y2="406.3" stroke="#b8b8b8" stroke-width="2.1" stroke-linecap="round"/>
<line x1="106.7" y1="415" x2="110" y2="412" stroke="#b8b8b8" stroke-width="2.1" stroke-linecap="round"/>
<line x1="110" y1="412" x2="114.2" y2="413.5" stroke="#b8b8b8" stroke-width="2.1" stroke-linecap="round"/>
<line x1="99.2" y1="427.7" x2="103.8" y2="420.8" stroke="#b8b8b8" stroke-width="2.1" stroke-linecap="round"/>
<line x1="51.5" y1="360.2" x2="57" y2="354" stroke="#b8b8b8" stroke-width="2.1" stroke-linecap="round"/>
<line x1="57" y1="354" x2="63" y2="347" stroke="#b8b8b8" stroke-width="2.1" stroke-linecap="round"/>
<line x1="56" y1="348.7" x2="59" y2="343.5" stroke="#b8b8b8" stroke-width="2.1" stroke-linecap="round"/>
<line x1="119" y1="403.5" x2="123" y2="399.5" stroke="#b8b8b8" stroke-width="2.1" stroke-linecap="round"/>
<path d="M98.0 428.3h0M82.5 433.5h0M80.5 354.0h0M61.0 346.0h0" stroke="#b8b8b8" stroke-width="2.2" stroke-linecap="round"/>
<circle cx="44" cy="414" r="1.9" fill="#b8b8b8"/>
<path d="M67.0 354.4h0M64.3 360.5h0M69.3 367.8h0M69.4 358.0h0M72.8 359.0h0M69.9 357.2h0M68.1 363.9h0M71.8 364.7h0M68.7 358.6h0M67.5 362.0h0M66.3 360.5h0M72.0 363.6h0M67.3 362.4h0M67.9 355.8h0M66.5 362.7h0M73.3 356.4h0M67.8 357.3h0M75.3 362.1h0M68.3 352.0h0M68.0 362.8h0M73.8 357.5h0M67.9 356.7h0M65.2 361.8h0M67.0 362.3h0M65.6 353.9h0M70.2 355.8h0M71.3 358.5h0M66.8 360.7h0M71.4 351.6h0M73.7 360.3h0M71.2 351.8h0M67.8 357.2h0M72.0 353.2h0M67.5 351.2h0M68.9 359.7h0M65.6 356.4h0M70.7 364.2h0M71.0 357.4h0M66.8 355.1h0M68.0 359.0h0M69.4 364.5h0M70.2 354.6h0M73.1 361.9h0M69.7 355.9h0M65.2 354.8h0M71.6 355.6h0M66.5 359.2h0M70.1 360.7h0M71.0 363.6h0M67.6 362.0h0M67.2 361.0h0M69.9 359.4h0M71.7 358.4h0M72.1 361.7h0M69.8 356.5h0M67.8 356.6h0M69.0 358.4h0M76.4 360.8h0M71.3 355.4h0M67.9 357.4h0M69.9 354.8h0M73.2 356.5h0M72.0 350.1h0M69.5 359.5h0M69.9 360.7h0M70.1 359.1h0M65.1 355.9h0M64.1 360.8h0M70.2 357.8h0M67.6 356.4h0M73.7 364.7h0M69.4 363.1h0M65.8 351.5h0M68.4 355.4h0M68.2 359.2h0M76.5 356.1h0M69.6 359.5h0M69.4 361.9h0M73.6 354.0h0M69.9 357.5h0M70.3 353.0h0M65.5 350.2h0M70.7 359.2h0M69.7 350.0h0M68.6 355.8h0M66.2 355.2h0M71.1 360.5h0M69.4 360.4h0M68.1 358.8h0M69.6 360.5h0M77.8 358.2h0M77.6 357.0h0M84.3 359.7h0M79.2 364.0h0M81.9 354.8h0M79.9 360.5h0M83.3 361.7h0M80.2 355.7h0M75.6 359.1h0M79.4 356.0h0M76.9 357.5h0M78.2 359.3h0M77.2 355.5h0M81.5 362.3h0M77.7 361.0h0M79.2 360.1h0M79.3 356.7h0M79.6 360.9h0M75.5 363.2h0M83.9 362.9h0M83.6 360.3h0M77.1 357.1h0M75.7 358.8h0M77.9 360.1h0M72.3 364.0h0M84.4 358.4h0M79.9 359.6h0M78.8 358.0h0M77.7 356.5h0M78.5 358.4h0M78.9 356.4h0M78.1 358.6h0M79.7 355.9h0M79.2 360.9h0M79.7 357.6h0M76.6 357.9h0M80.0 362.2h0M77.6 357.0h0M79.1 359.0h0M75.5 356.7h0M77.7 360.1h0M74.7 356.1h0M79.4 355.6h0M78.3 359.3h0M77.7 356.1h0M77.8 357.7h0M78.9 356.5h0M81.1 354.5h0M77.5 358.5h0M80.7 357.0h0M79.5 357.1h0M80.1 362.7h0M76.9 359.6h0M75.4 360.8h0M81.4 358.6h0M74.8 359.5h0M81.2 361.1h0M80.3 354.1h0M76.1 361.9h0M74.6 361.2h0M83.3 360.3h0M81.1 357.7h0M74.6 358.3h0M77.4 358.4h0M80.0 358.2h0M78.5 359.5h0M78.0 362.9h0M79.2 358.7h0M77.4 357.0h0M81.8 358.9h0M75.0 357.2h0M77.6 357.4h0M81.0 355.7h0M79.4 358.8h0M74.7 358.6h0M73.3 369.8h0M73.0 369.5h0M72.1 367.4h0M74.0 370.6h0M73.4 368.1h0M74.3 365.9h0M72.8 370.0h0M73.9 367.5h0M49.2 346.3h0M58.5 355.0h0M63.7 345.8h0M70.0 348.7h0M83.8 356.7h0M82.7 362.0h0M102.1 402.9h0M93.5 420.8h0M66.0 351.5h0M67.5 352.0h0M119.3 401.6h0M124.4 395.8h0M124.1 400.3h0M117.5 400.8h0M125.9 392.8h0M125.9 393.5h0M126.8 399.0h0M129.6 396.5h0M124.0 400.6h0M122.4 396.2h0M123.1 397.8h0M121.3 399.2h0M125.4 398.2h0M128.3 397.2h0M122.0 404.0h0M121.1 401.5h0M120.3 404.7h0M119.3 403.9h0M119.5 403.7h0M116.7 403.9h0M119.2 404.1h0M118.4 404.8h0M128.4 395.7h0M126.9 397.6h0M128.7 397.1h0M128.9 395.6h0M127.3 397.3h0M126.8 395.9h0" stroke="#8e1018" stroke-width="2.5" stroke-linecap="round"/>
<path d="M69.5,363.2 L71.3,366.2 L67.7,366.2 Z" fill="#f2b82a" stroke="#e89010" stroke-width="0.4"/>
<path d="M71.5,364.59999999999997 L73.3,367.59999999999997 L69.7,367.59999999999997 Z" fill="#f2b82a" stroke="#e89010" stroke-width="0.4"/>
<path d="M68.2,364.79999999999995 L70.0,367.79999999999995 L66.4,367.79999999999995 Z" fill="#f2b82a" stroke="#e89010" stroke-width="0.4"/>
<ellipse cx="72" cy="361.5" rx="12" ry="13" fill="none" stroke="#666" stroke-width="0.7" stroke-dasharray="2.2,2"/>
<line x1="80" y1="353.6" x2="198" y2="365.5" stroke="#666" stroke-width="0.7" stroke-dasharray="2.2,2"/>
<line x1="66" y1="372.7" x2="180" y2="430.5" stroke="#666" stroke-width="0.7" stroke-dasharray="2.2,2"/>
<path d="M143.1 341.0h0M142.1 340.0h0M142.0 342.5h0M142.0 340.0h0M141.9 342.2h0M142.4 341.6h0M158.8 339.6h0M173.9 342.4h0M163.7 342.0h0M163.8 341.3h0M161.5 343.4h0M172.7 342.9h0M162.7 342.8h0M164.0 341.2h0M165.3 340.4h0M173.2 340.7h0M169.4 339.9h0M164.6 341.9h0M172.9 343.1h0M172.9 341.5h0M174.0 343.6h0M169.7 341.0h0M173.9 343.4h0M170.0 341.4h0M163.9 341.8h0M167.5 339.7h0M165.2 341.3h0M160.5 344.9h0M169.0 339.5h0M169.7 340.8h0M171.4 341.0h0M171.5 340.8h0M160.7 343.0h0M172.9 342.5h0M169.0 339.4h0M168.1 340.1h0M167.9 340.5h0M172.4 341.6h0M169.8 340.2h0M169.9 340.9h0M164.5 341.7h0M173.3 344.7h0M162.3 342.5h0M171.6 342.6h0M172.4 341.6h0M183.0 349.4h0M183.8 349.9h0M159.8 353.7h0M157.1 351.2h0M153.9 354.0h0M153.3 353.5h0M156.9 353.2h0M156.3 355.1h0M158.6 354.4h0M157.8 351.2h0M154.3 352.0h0M152.5 351.5h0M154.1 352.7h0M152.4 351.8h0M154.1 351.3h0M157.9 351.4h0M156.5 352.9h0M158.8 354.4h0M157.9 352.8h0M155.9 354.6h0M152.7 351.4h0M155.7 350.4h0M161.0 352.7h0M155.6 352.4h0M160.9 352.4h0M156.2 355.8h0M157.6 352.7h0M156.7 352.4h0M156.3 352.0h0M154.3 351.2h0M153.8 353.6h0M160.0 353.7h0M156.7 355.1h0M154.3 352.6h0M154.1 352.8h0M158.3 353.8h0M154.9 353.2h0M157.4 352.8h0M157.1 351.1h0M159.6 354.4h0M159.5 354.9h0M159.2 354.5h0M159.9 351.8h0M160.2 354.9h0M152.7 352.1h0M160.3 352.8h0M156.6 354.1h0M158.3 355.5h0M161.5 351.4h0M155.6 355.1h0M152.8 352.1h0M154.6 354.0h0M154.1 354.4h0M156.0 354.0h0M156.3 354.9h0M157.5 354.1h0M161.6 353.7h0M154.2 353.3h0M150.5 362.2h0M142.7 371.6h0M142.4 368.2h0M148.3 363.9h0M154.1 362.3h0M155.7 363.2h0M144.4 366.3h0M153.1 360.9h0M157.0 363.9h0M146.2 365.5h0M149.3 364.0h0M147.5 364.2h0M152.8 362.8h0M144.9 363.1h0M148.7 363.8h0M146.1 365.1h0M145.9 365.2h0M144.2 365.4h0M144.9 364.6h0M146.6 365.1h0M147.0 364.4h0M144.1 365.1h0M152.0 362.0h0M141.8 368.1h0M155.9 362.1h0M148.1 363.3h0M147.8 364.1h0M143.4 364.4h0M150.9 363.4h0M143.3 368.7h0M145.3 364.6h0M145.0 363.4h0M151.9 361.9h0M146.7 364.1h0M149.7 363.4h0M156.4 363.1h0M158.4 364.6h0M143.5 367.7h0M154.9 361.8h0M146.8 364.6h0M154.6 361.9h0M155.9 363.3h0M146.6 365.1h0M157.4 364.1h0M155.9 364.2h0M147.2 364.6h0M142.6 370.1h0M155.1 363.5h0M149.9 362.7h0M146.9 363.6h0M145.5 365.0h0M154.9 362.8h0M149.2 364.3h0M144.0 366.4h0M147.5 364.6h0M186.5 376.2h0M187.5 376.8h0M177.4 361.5h0M189.2 376.7h0M187.9 374.7h0M180.6 366.7h0M174.5 358.2h0M179.0 361.7h0M179.0 363.5h0M177.0 358.8h0M180.7 365.1h0M177.3 361.4h0M189.8 377.5h0M187.4 377.3h0M189.0 374.9h0M181.3 366.9h0M188.7 375.2h0M177.0 361.9h0M181.9 367.4h0M187.8 377.2h0M184.5 369.9h0M178.2 363.2h0M172.9 357.2h0M187.5 376.6h0M186.1 370.9h0M174.0 359.0h0M179.6 363.9h0M181.9 370.0h0M180.5 368.1h0M173.5 362.0h0M175.8 359.3h0M183.5 371.5h0M188.1 376.6h0M177.2 360.4h0M178.3 363.2h0M183.1 368.2h0M178.5 366.1h0M181.1 366.9h0M188.2 379.0h0M183.4 368.0h0M180.3 364.6h0M178.0 360.0h0M185.3 369.3h0M186.9 376.7h0M189.7 376.4h0M179.6 364.0h0M184.8 377.0h0M188.1 372.8h0M183.0 370.5h0M175.6 359.7h0M174.0 359.3h0M187.3 376.2h0M181.0 363.9h0M174.9 356.9h0M176.8 362.8h0M176.7 359.6h0M184.5 369.6h0M188.8 377.6h0M187.8 375.3h0M184.6 377.2h0M173.3 359.9h0M178.9 364.4h0M181.6 366.3h0M191.2 378.6h0M183.6 369.6h0M178.2 363.3h0M187.3 374.1h0M180.5 367.8h0M184.9 375.8h0M177.3 361.9h0M179.8 365.3h0M176.4 360.4h0M187.8 376.5h0M188.6 377.0h0M177.5 365.0h0M176.1 371.9h0M177.0 372.0h0M176.2 363.2h0M177.2 371.3h0M179.9 368.5h0M177.6 363.4h0M177.0 365.8h0M178.5 369.2h0M178.5 364.7h0M177.5 368.0h0M177.6 372.4h0M179.5 369.4h0M178.1 367.1h0M178.4 371.4h0M178.9 368.8h0M178.8 368.9h0M176.5 367.0h0M179.2 368.6h0M178.2 372.1h0M175.4 363.2h0M177.6 370.5h0M179.9 369.9h0M184.3 363.3h0M191.7 365.2h0M184.9 361.4h0M183.3 365.3h0M184.6 364.2h0M187.9 364.5h0M182.2 362.8h0M183.6 363.2h0M187.8 363.0h0M194.0 365.9h0M188.8 366.2h0M191.0 365.2h0M184.7 363.1h0M196.3 365.3h0M192.5 365.0h0M191.0 365.7h0M192.7 365.0h0M191.0 364.7h0M171.4 376.6h0M172.7 379.1h0M169.9 378.6h0M170.0 375.4h0M172.5 378.0h0M169.2 377.2h0M171.7 370.3h0M172.5 371.0h0M176.0 374.5h0M173.8 375.4h0M171.0 370.3h0M171.6 375.4h0M171.6 380.3h0M168.2 369.4h0M175.0 374.3h0M172.9 380.6h0M175.8 381.3h0M166.0 373.0h0M175.1 380.4h0M166.9 369.1h0M168.4 368.2h0M169.6 380.2h0M171.5 374.2h0M166.5 373.2h0M177.0 378.3h0M170.7 374.6h0M174.7 379.4h0M167.2 378.1h0M169.7 375.4h0M168.2 372.8h0M169.4 373.0h0M165.7 369.9h0M172.1 367.5h0M167.6 378.7h0M168.7 372.0h0M168.3 380.7h0M166.6 377.3h0M175.4 369.9h0M170.4 380.0h0M172.6 372.8h0M166.0 374.0h0M169.7 378.6h0M168.9 373.4h0M173.0 380.3h0M169.6 373.1h0M172.2 382.2h0M173.7 372.8h0M173.2 372.1h0M166.3 379.4h0M169.9 375.4h0M171.2 381.8h0M172.3 374.4h0M170.8 380.8h0M170.3 374.6h0M175.7 374.0h0M171.1 375.2h0M175.0 377.9h0M174.0 373.3h0M171.9 379.6h0M168.0 367.8h0M166.5 379.3h0M172.0 367.4h0M173.3 378.6h0M171.1 367.4h0M173.4 373.6h0M172.2 383.5h0M174.9 381.3h0M167.2 372.2h0M168.5 371.8h0M168.4 381.1h0M171.9 375.2h0M170.3 367.4h0M169.0 381.2h0M174.7 381.1h0M168.5 369.9h0M166.1 375.6h0M169.8 374.4h0M171.1 376.4h0M169.7 380.1h0M171.9 367.4h0M169.1 375.6h0M170.2 376.1h0M169.2 371.2h0M174.7 371.5h0M173.7 380.1h0M172.3 374.2h0M176.3 374.1h0M170.5 377.4h0M166.3 376.6h0M172.0 380.1h0M171.2 378.0h0M173.3 371.5h0M167.9 380.8h0M167.9 368.2h0M166.6 379.8h0M176.4 373.5h0M173.1 370.9h0M175.9 378.2h0M167.3 367.5h0M175.1 371.5h0M168.2 376.4h0M169.2 376.0h0M169.2 380.8h0M167.2 380.1h0M165.9 373.0h0M172.9 370.3h0M171.8 368.1h0M170.8 378.9h0M170.4 378.0h0M166.8 380.6h0M171.6 371.4h0M169.5 379.3h0M171.2 382.3h0M166.6 374.7h0M175.4 376.7h0M171.7 368.0h0M167.1 371.1h0M175.8 380.9h0M165.9 376.7h0M176.4 377.7h0M166.1 372.2h0M170.7 370.7h0M174.0 369.5h0M174.6 371.6h0M166.3 376.0h0M166.6 375.9h0M174.6 376.6h0M170.8 367.1h0M171.4 368.2h0M172.9 368.7h0M172.1 372.5h0M169.8 377.8h0M167.4 369.4h0M176.3 372.1h0M175.2 381.3h0M205.8 379.7h0M194.6 387.7h0M207.6 379.0h0M205.5 380.1h0M207.5 387.9h0M202.3 380.8h0M203.5 381.0h0M194.9 381.8h0M212.3 381.6h0M199.2 377.0h0M203.2 388.2h0M200.0 396.7h0M193.6 389.5h0M198.2 389.9h0M215.2 392.6h0M192.9 381.9h0M212.4 395.0h0M201.6 394.9h0M205.3 397.4h0M203.7 385.6h0M193.7 381.9h0M213.7 391.8h0M195.7 384.2h0M195.3 380.8h0M197.8 383.9h0M206.4 394.1h0M210.7 380.9h0M210.3 395.7h0M213.2 384.3h0M211.8 393.4h0M220.0 397.0h0M214.0 395.4h0M204.5 395.2h0M215.2 396.2h0M207.4 398.0h0M197.1 386.8h0M198.3 387.6h0M213.0 385.3h0M215.2 394.5h0M212.1 397.9h0M193.7 391.2h0M209.4 395.5h0M203.9 390.1h0M205.1 384.0h0M197.6 384.4h0M200.0 378.3h0M199.4 392.4h0M204.7 391.4h0M202.2 381.4h0M206.4 398.2h0M196.9 395.3h0M196.0 388.4h0M191.0 380.3h0M201.9 378.6h0M208.1 396.0h0M206.9 384.9h0M219.7 396.8h0M210.3 386.5h0M211.4 390.8h0M202.6 388.3h0M211.9 397.1h0M206.4 384.6h0M208.2 386.6h0M214.2 396.7h0M213.5 393.5h0M192.1 383.7h0M209.2 389.5h0M192.4 385.3h0M214.1 391.0h0M199.7 393.8h0M200.0 388.8h0M211.0 394.7h0M211.9 385.0h0M212.3 382.7h0M196.0 389.5h0M216.5 394.5h0M201.7 379.5h0M206.9 396.4h0M196.0 393.2h0M196.3 383.4h0M192.7 383.1h0M202.8 398.4h0M200.6 397.9h0M197.1 383.6h0M204.5 378.8h0M199.0 385.3h0M202.9 398.4h0M199.2 381.0h0M195.7 393.6h0M205.5 389.1h0M211.7 393.5h0M199.5 384.6h0M199.9 390.7h0M199.0 394.0h0M208.5 384.4h0M198.5 377.9h0M208.0 393.6h0M212.0 385.8h0M200.5 391.1h0M212.4 394.0h0M203.2 397.8h0M213.9 384.1h0M203.1 394.8h0M201.8 380.6h0M207.1 391.6h0M201.5 377.8h0M203.8 387.8h0M208.9 385.5h0M208.7 382.6h0M217.1 394.4h0M211.8 393.6h0M206.5 396.9h0M212.8 392.4h0M209.9 382.6h0M193.1 390.1h0M197.6 381.4h0M193.9 391.8h0M202.1 392.3h0M210.4 379.5h0M199.5 377.7h0M204.8 389.0h0M197.9 390.7h0M201.5 383.9h0M208.6 381.3h0M216.9 394.8h0M206.6 386.0h0M192.9 390.7h0M213.4 389.7h0M203.4 388.0h0M209.2 381.5h0M217.8 399.1h0M215.8 398.3h0M193.2 387.2h0M195.1 386.7h0M212.1 392.5h0M205.0 384.1h0M196.9 385.5h0M199.7 380.7h0M213.7 388.1h0M204.6 380.8h0M212.7 380.8h0M199.2 389.1h0M214.1 398.0h0M197.4 376.6h0M210.5 382.3h0M202.0 380.0h0M200.4 377.3h0M196.4 384.4h0M205.1 378.6h0M194.3 379.8h0M194.4 389.2h0M206.7 381.1h0M198.8 376.8h0M204.5 393.1h0M202.9 394.9h0M191.4 381.2h0M209.1 385.0h0M207.5 377.9h0M201.0 390.6h0M210.8 381.0h0M198.5 397.0h0M202.8 378.7h0M209.3 379.2h0M197.2 386.8h0M209.1 390.9h0M212.8 386.4h0M192.7 387.1h0M203.4 391.7h0M213.1 381.8h0M211.1 392.1h0M205.6 379.5h0M192.9 381.8h0M203.1 394.3h0M192.5 381.8h0M211.8 397.6h0M210.7 397.4h0M199.1 379.8h0M206.8 378.7h0M215.3 396.7h0M210.2 389.9h0M192.7 388.8h0M200.0 385.4h0M194.8 391.2h0M197.4 386.1h0M207.9 384.4h0M217.3 395.7h0M194.1 384.7h0M200.4 393.8h0M195.6 390.2h0M194.5 392.2h0M209.5 388.2h0M205.1 385.6h0M209.9 391.2h0M215.6 397.2h0M212.8 382.1h0M200.3 384.3h0M201.0 378.5h0M211.2 397.6h0M214.6 395.5h0M199.5 382.0h0M198.1 396.6h0M214.8 394.0h0M218.5 394.5h0M207.4 378.7h0M210.4 384.7h0M196.0 388.5h0M211.1 388.6h0M197.6 382.9h0M199.0 392.7h0M204.5 392.0h0M212.3 393.4h0M198.9 376.9h0M212.4 381.1h0M210.9 389.8h0M211.3 390.0h0M212.5 383.3h0M193.0 377.8h0M191.4 384.6h0M195.4 378.9h0M212.2 382.6h0M194.1 383.2h0M203.6 392.1h0M204.7 393.0h0M201.6 395.4h0M198.0 395.9h0M199.6 376.5h0M195.9 391.4h0M209.1 391.4h0M196.6 379.6h0M202.8 391.2h0M208.6 381.4h0M202.3 388.3h0M194.4 382.0h0M202.8 393.8h0M197.9 380.7h0M197.8 385.1h0M202.3 391.0h0M205.6 396.2h0M191.9 386.3h0M194.6 386.8h0M194.6 387.3h0M196.4 381.6h0M204.6 379.0h0M193.1 384.6h0M205.5 397.7h0M208.1 377.9h0M197.9 393.3h0M208.4 396.2h0M207.2 381.8h0M197.6 378.2h0M199.2 397.5h0M205.2 393.0h0M193.3 386.7h0M200.8 381.0h0M211.5 384.6h0M205.9 380.4h0M205.5 393.3h0M207.6 381.7h0M206.4 390.2h0M211.1 379.6h0M215.8 398.0h0M213.9 395.9h0M202.4 397.0h0M196.6 381.5h0M209.5 396.9h0M193.5 381.3h0M192.1 386.4h0M195.3 380.7h0M214.1 389.7h0M205.7 388.0h0M209.3 370.5h0M209.7 372.9h0M209.7 365.2h0M208.6 367.3h0M209.1 368.1h0M209.1 363.5h0M209.0 368.1h0M209.0 368.8h0M209.5 373.3h0M208.7 364.3h0M209.1 371.4h0M209.5 371.4h0M208.1 363.7h0M209.8 372.3h0M208.7 371.9h0M208.8 370.5h0M208.4 367.1h0M209.4 371.9h0M209.0 369.1h0M208.1 369.8h0M195.7 373.3h0M205.4 361.9h0M205.0 364.2h0M197.2 374.8h0M199.8 366.1h0M206.7 375.3h0M209.6 368.0h0M197.1 375.6h0M211.5 362.3h0M211.4 369.1h0M198.8 363.0h0M206.4 366.6h0M205.6 366.7h0M200.9 366.5h0M211.9 370.6h0M209.3 362.7h0M201.2 374.3h0M203.6 370.7h0M200.3 367.8h0M197.3 369.1h0M197.6 372.4h0M196.9 373.2h0M205.2 371.1h0M207.2 366.9h0M192.6 370.4h0M196.4 369.3h0M216.0 374.8h0M215.9 375.5h0M216.3 375.7h0M222.8 377.4h0M220.9 377.8h0M217.7 376.7h0M214.7 377.1h0M214.9 376.9h0M214.1 376.7h0M219.1 375.7h0M218.5 376.8h0M215.6 376.6h0M217.1 375.9h0M217.1 375.6h0M215.1 394.7h0M220.4 399.2h0M216.2 396.1h0M220.9 398.0h0M214.5 395.6h0M211.7 393.4h0M217.4 397.4h0M221.3 398.4h0M213.8 395.5h0M220.0 397.6h0M191.0 421.4h0M190.6 420.5h0M196.6 396.5h0M210.7 392.3h0M221.4 392.8h0M215.0 392.2h0M207.5 392.4h0M197.4 394.6h0M202.7 394.9h0M200.5 392.5h0M206.6 391.4h0M197.1 395.2h0M213.1 391.4h0M201.6 393.3h0M213.5 391.4h0M195.8 394.4h0M214.3 393.0h0M196.3 394.7h0M206.1 391.3h0M216.6 391.0h0M218.8 392.3h0M206.8 393.4h0M201.5 393.4h0M212.0 392.3h0M200.2 393.3h0M212.7 393.6h0M211.1 390.8h0M210.9 393.1h0M210.1 393.7h0M207.6 391.5h0M203.8 392.6h0M213.7 391.5h0M215.0 392.7h0M215.5 390.8h0M193.7 398.4h0M215.6 392.5h0M204.4 392.9h0M201.5 392.7h0M205.2 391.9h0M205.0 391.9h0M208.3 390.7h0M204.7 391.6h0M204.6 393.2h0M205.5 391.9h0" stroke="#3a3a3a" stroke-width="2.2" stroke-linecap="round"/>
<path d="M176.3 397.2h0M175.0 384.1h0M174.2 400.1h0M189.3 398.6h0M176.3 388.2h0M183.8 382.3h0M169.7 393.4h0M190.5 392.0h0M173.5 383.1h0M181.2 393.6h0M177.6 398.6h0M181.8 400.2h0M178.2 392.6h0M174.8 397.4h0M174.1 388.3h0M180.5 398.5h0M187.8 389.7h0M179.7 404.1h0M191.9 396.1h0M171.1 391.8h0M184.5 387.2h0M180.2 396.1h0M176.0 381.8h0M187.3 400.0h0M179.5 382.2h0M178.4 382.4h0M175.7 400.0h0M171.9 382.8h0M170.3 384.3h0M181.8 401.7h0M172.7 384.5h0M187.7 391.1h0M177.0 383.2h0M171.4 386.7h0M187.1 403.2h0M191.2 392.3h0M192.5 395.7h0M175.7 392.1h0M186.5 399.1h0M171.8 385.0h0M188.9 388.8h0M174.7 386.6h0M176.6 384.5h0M187.2 388.9h0M173.2 390.9h0M189.1 402.4h0M187.7 395.8h0M176.7 402.1h0M189.1 386.9h0M177.7 389.7h0M177.4 389.8h0M171.3 385.9h0M191.3 390.7h0M184.5 403.1h0M187.5 386.4h0M187.4 401.1h0M174.9 397.1h0M178.1 401.8h0M171.9 394.0h0M176.9 401.3h0M177.2 401.9h0M187.2 397.6h0M190.3 394.2h0M179.9 388.8h0M188.2 400.3h0M177.0 386.5h0M171.0 388.5h0M174.2 381.8h0M173.5 392.0h0M178.6 400.9h0M184.4 403.3h0M180.3 403.4h0M186.9 388.1h0M190.4 394.9h0M171.2 395.3h0M189.3 393.5h0M180.6 390.8h0M190.6 397.3h0M173.7 389.4h0M186.0 383.2h0M183.3 391.2h0M186.5 391.2h0M170.8 393.6h0M189.1 400.5h0M177.5 385.8h0M187.2 400.8h0M178.1 398.5h0M176.1 388.6h0M186.9 384.9h0M182.2 393.0h0M185.3 383.7h0M182.6 400.7h0M182.3 399.7h0M190.3 389.4h0M192.5 393.3h0M191.9 394.6h0M172.1 396.4h0M188.7 391.0h0M183.6 386.7h0M175.4 390.9h0M181.4 392.2h0M177.0 398.6h0M187.3 386.2h0M174.9 393.4h0M172.9 395.7h0M183.2 398.7h0M187.3 398.5h0M186.3 387.1h0M179.6 382.2h0M185.5 383.7h0M180.0 396.6h0M187.7 386.4h0M173.5 384.2h0M178.8 396.1h0M176.1 384.2h0M174.0 382.2h0M173.3 388.2h0M181.2 384.8h0M180.5 391.4h0M192.2 392.3h0M173.5 395.4h0M172.1 384.4h0M177.4 391.1h0M177.3 398.0h0M178.3 384.0h0M190.2 394.9h0M186.8 389.2h0M184.3 403.9h0M178.6 391.2h0M176.0 394.4h0M185.1 399.1h0M177.7 402.1h0M188.4 395.3h0M185.5 388.8h0M192.2 394.3h0M178.6 384.7h0M176.6 392.5h0M180.9 389.4h0M191.0 389.1h0M181.9 404.2h0M184.5 392.4h0M176.8 390.1h0M183.8 400.4h0M175.0 389.6h0M178.2 389.4h0M191.4 394.0h0M175.4 388.6h0M175.1 399.1h0M186.6 403.7h0M192.3 394.3h0M191.7 391.3h0M173.3 399.4h0M190.1 390.0h0M187.4 395.5h0M184.3 382.9h0M172.6 384.7h0M183.8 397.5h0M178.3 386.6h0M172.9 384.7h0M172.3 389.1h0M181.8 397.7h0M169.3 391.4h0M188.4 395.0h0M179.8 402.9h0M183.6 388.8h0M182.6 383.7h0M172.9 390.0h0M188.6 400.4h0M188.5 390.8h0M185.3 394.8h0M186.8 390.6h0M191.8 396.0h0M176.4 389.8h0M188.4 400.5h0M185.8 388.3h0M187.5 386.8h0M183.8 384.1h0M190.0 392.7h0M187.5 383.9h0M187.6 394.9h0M191.3 395.2h0M179.2 404.3h0M171.1 387.2h0M179.6 398.9h0M174.9 399.0h0M184.8 382.5h0M180.9 398.8h0M173.9 397.0h0M175.5 389.6h0M182.9 401.0h0M187.5 391.9h0M190.2 390.4h0M192.3 392.3h0M172.1 397.7h0M182.1 399.3h0M171.8 396.6h0M178.0 386.5h0M180.5 382.3h0M169.4 392.1h0M180.3 398.7h0M186.8 388.9h0M171.5 384.8h0M181.1 388.7h0M180.4 400.4h0M183.9 405.2h0M187.9 396.4h0M181.9 402.2h0M179.6 382.6h0M185.6 399.4h0M174.3 392.0h0M185.7 394.4h0M178.7 384.4h0M171.9 392.2h0M180.9 387.0h0M177.7 394.4h0M187.6 395.3h0M183.1 405.1h0M178.2 394.2h0M173.6 383.2h0M175.6 396.4h0M182.6 404.7h0M185.7 389.4h0M192.3 396.5h0M182.1 402.4h0M185.3 389.4h0M183.7 387.8h0M173.7 393.2h0M185.3 397.8h0M185.5 398.5h0M176.4 394.8h0M168.7 390.8h0M191.2 395.3h0M173.6 384.7h0M190.6 393.4h0M178.7 398.1h0M187.2 387.0h0M172.2 389.5h0M185.1 404.8h0M184.1 397.0h0M172.5 398.9h0M182.3 389.3h0M172.1 384.1h0M172.2 395.3h0M181.1 394.9h0M182.6 390.7h0M170.0 391.0h0M174.4 399.7h0M174.6 401.4h0M174.6 382.4h0M180.5 390.1h0M176.9 399.9h0M174.1 397.4h0M189.5 391.8h0M181.1 404.0h0M183.7 384.7h0M176.8 382.3h0M184.8 391.0h0M176.2 393.3h0M172.4 387.9h0M186.2 391.1h0M184.8 384.1h0M184.2 381.5h0M181.2 388.7h0M186.5 393.3h0M172.7 397.4h0M179.4 397.2h0M178.5 385.2h0M175.2 397.4h0M174.1 390.4h0M185.8 391.2h0M181.1 392.7h0M173.4 397.4h0M180.9 401.0h0M188.9 392.3h0M172.0 392.6h0M171.7 397.8h0M186.0 395.0h0M186.5 400.8h0M171.3 388.4h0M169.8 395.2h0M186.6 389.0h0M186.0 389.5h0M186.4 387.2h0M186.7 402.5h0M184.5 384.0h0M190.4 398.6h0M171.4 389.9h0M169.6 389.2h0M188.2 402.5h0M183.3 405.2h0M184.7 404.6h0M182.7 385.1h0M181.5 392.6h0M177.0 389.7h0M181.3 395.3h0M174.1 387.2h0M181.1 393.1h0M179.0 397.3h0M173.2 393.8h0M175.4 400.0h0M186.2 400.3h0M181.5 386.5h0M191.7 393.3h0M177.9 387.6h0M178.6 398.4h0M189.0 392.5h0M186.9 385.5h0M179.8 389.3h0M176.2 389.3h0M187.4 399.1h0M173.7 386.1h0M188.2 397.0h0M185.5 396.5h0M185.9 387.1h0M170.0 389.4h0M181.7 397.4h0M174.3 388.8h0M187.0 392.7h0M177.8 387.0h0M180.7 398.5h0M190.3 391.4h0M179.1 388.2h0M172.5 387.3h0M176.8 402.1h0M189.0 416.7h0M188.8 415.5h0" stroke="#acacac" stroke-width="2.2" stroke-linecap="round"/>
<line x1="141.9" y1="338.8" x2="141.9" y2="438" stroke="#222" stroke-width="1.15"/>
<line x1="141.5" y1="437.6" x2="231" y2="437.6" stroke="#222" stroke-width="1.15"/>
<line x1="139.9" y1="434.2" x2="141.9" y2="434.2" stroke="#222" stroke-width="1.0"/>
<text x="137.9" y="436.4" font-size="6.3" text-anchor="end" fill="#262626">4</text>
<line x1="139.9" y1="394.0" x2="141.9" y2="394.0" stroke="#222" stroke-width="1.0"/>
<text x="137.9" y="396.2" font-size="6.3" text-anchor="end" fill="#262626">8</text>
<line x1="139.9" y1="353.8" x2="141.9" y2="353.8" stroke="#222" stroke-width="1.0"/>
<text x="137.9" y="356.0" font-size="6.3" text-anchor="end" fill="#262626">12</text>
<line x1="146.16" y1="437.6" x2="146.16" y2="439.7" stroke="#222" stroke-width="1.0"/>
<text x="146.16" y="449.4" font-size="6.3" text-anchor="middle" fill="#262626">−8</text>
<line x1="185.88" y1="437.6" x2="185.88" y2="439.7" stroke="#222" stroke-width="1.0"/>
<text x="185.88" y="449.4" font-size="6.3" text-anchor="middle" fill="#262626">−4</text>
<line x1="225.6" y1="437.6" x2="225.6" y2="439.7" stroke="#222" stroke-width="1.0"/>
<text x="225.6" y="449.4" font-size="6.3" text-anchor="middle" fill="#262626">0</text>
<text x="188.7" y="333.5" font-size="8.6" text-anchor="middle" fill="#262626">CD28</text>
<circle cx="185.2" cy="396.3" r="34" fill="none" stroke="#555" stroke-width="0.8" stroke-dasharray="2.2,2"/>
<path d="M180,402.5 L186,404.5 L185,408 L180,408.5 Z" fill="#c4bcd8"/>
<circle cx="175.0" cy="405.0" r="3.0" fill="#e2ac3c"/>
<circle cx="179.0" cy="405.6" r="2.8" fill="#e2ac3c"/>
<circle cx="186.9" cy="409" r="2.6" fill="#f0d890" stroke="#e0a830" stroke-width="1.2"/>
<circle cx="191.5" cy="394.0" r="1.4" fill="#fff"/>
<rect x="158.8" y="394.7" width="17.099999999999994" height="7.100000000000023" fill="#fff" stroke="#8a8a8a" stroke-width="0.55"/>
<text x="167.35000000000002" y="400.40000000000003" font-size="6.6" text-anchor="middle" fill="#222" textLength="14.699999999999994" lengthAdjust="spacingAndGlyphs">11A5</text>
<rect x="157.7" y="408.2" width="18.80000000000001" height="7.400000000000034" fill="#fff" stroke="#8a8a8a" stroke-width="0.55"/>
<text x="167.1" y="414.20000000000005" font-size="6.6" text-anchor="middle" fill="#222" textLength="16.400000000000013" lengthAdjust="spacingAndGlyphs">10E7</text>
<rect x="190.7" y="405.5" width="26.900000000000006" height="7.399999999999977" fill="#fff" stroke="#8a8a8a" stroke-width="0.55"/>
<text x="204.14999999999998" y="411.5" font-size="6.6" text-anchor="middle" fill="#222" textLength="24.500000000000007" lengthAdjust="spacingAndGlyphs">17B2_2</text>
<path d="M256.1 341.0h0M255.1 340.0h0M255.0 342.5h0M255.0 340.0h0M254.9 342.2h0M255.4 341.6h0M271.8 339.6h0M276.7 342.0h0M276.8 341.3h0M274.5 343.4h0M275.7 342.8h0M277.0 341.2h0M278.3 340.4h0M277.6 341.9h0M276.9 341.8h0M280.5 339.7h0M278.2 341.3h0M273.5 344.9h0M273.7 343.0h0M281.1 340.1h0M280.9 340.5h0M277.5 341.7h0M275.3 342.5h0M272.8 353.7h0M270.1 351.2h0M266.9 354.0h0M266.3 353.5h0M269.9 353.2h0M269.3 355.1h0M271.6 354.4h0M270.8 351.2h0M267.3 352.0h0M265.5 351.5h0M267.1 352.7h0M265.4 351.8h0M267.1 351.3h0M270.9 351.4h0M269.5 352.9h0M271.8 354.4h0M270.9 352.8h0M268.9 354.6h0M265.7 351.4h0M268.7 350.4h0M274.0 352.7h0M268.6 352.4h0M273.9 352.4h0M269.2 355.8h0M270.6 352.7h0M269.7 352.4h0M269.3 352.0h0M267.3 351.2h0M266.8 353.6h0M273.0 353.7h0M269.7 355.1h0M267.3 352.6h0M267.1 352.8h0M271.3 353.8h0M267.9 353.2h0M270.4 352.8h0M270.1 351.1h0M272.6 354.4h0M272.5 354.9h0M272.2 354.5h0M272.9 351.8h0M273.2 354.9h0M265.7 352.1h0M273.3 352.8h0M269.6 354.1h0M271.3 355.5h0M274.5 351.4h0M268.6 355.1h0M265.8 352.1h0M267.6 354.0h0M267.1 354.4h0M269.0 354.0h0M269.3 354.9h0M270.5 354.1h0M274.6 353.7h0M267.2 353.3h0M263.5 362.2h0M255.7 371.6h0M255.4 368.2h0M261.3 363.9h0M267.1 362.3h0M268.7 363.2h0M257.4 366.3h0M266.1 360.9h0M270.0 363.9h0M259.2 365.5h0M262.3 364.0h0M260.5 364.2h0M265.8 362.8h0M257.9 363.1h0M261.7 363.8h0M259.1 365.1h0M258.9 365.2h0M257.2 365.4h0M257.9 364.6h0M259.6 365.1h0M260.0 364.4h0M257.1 365.1h0M265.0 362.0h0M254.8 368.1h0M268.9 362.1h0M261.1 363.3h0M260.8 364.1h0M256.4 364.4h0M263.9 363.4h0M256.3 368.7h0M258.3 364.6h0M258.0 363.4h0M264.9 361.9h0M259.7 364.1h0M262.7 363.4h0M269.4 363.1h0M271.4 364.6h0M256.5 367.7h0M267.9 361.8h0M259.8 364.6h0M267.6 361.9h0M268.9 363.3h0M259.6 365.1h0M270.4 364.1h0M268.9 364.2h0M260.2 364.6h0M255.6 370.1h0M268.1 363.5h0M262.9 362.7h0M259.9 363.6h0M258.5 365.0h0M267.9 362.8h0M262.2 364.3h0M257.0 366.4h0M260.5 364.6h0M299.5 376.2h0M300.5 376.8h0M290.4 361.5h0M302.2 376.7h0M300.9 374.7h0M293.6 366.7h0M287.5 358.2h0M292.0 361.7h0M292.0 363.5h0M290.0 358.8h0M293.7 365.1h0M290.3 361.4h0M302.8 377.5h0M300.4 377.3h0M302.0 374.9h0M294.3 366.9h0M301.7 375.2h0M290.0 361.9h0M294.9 367.4h0M300.8 377.2h0M297.5 369.9h0M291.2 363.2h0M285.9 357.2h0M300.5 376.6h0M299.1 370.9h0M287.0 359.0h0M292.6 363.9h0M294.9 370.0h0M293.5 368.1h0M286.5 362.0h0M288.8 359.3h0M296.5 371.5h0M301.1 376.6h0M290.2 360.4h0M291.3 363.2h0M296.1 368.2h0M291.5 366.1h0M294.1 366.9h0M301.2 379.0h0M296.4 368.0h0M293.3 364.6h0M291.0 360.0h0M298.3 369.3h0M299.9 376.7h0M302.7 376.4h0M292.6 364.0h0M297.8 377.0h0M301.1 372.8h0M296.0 370.5h0M288.6 359.7h0M287.0 359.3h0M300.3 376.2h0M294.0 363.9h0M287.9 356.9h0M289.8 362.8h0M289.7 359.6h0M297.5 369.6h0M301.8 377.6h0M300.8 375.3h0M297.6 377.2h0M286.3 359.9h0M291.9 364.4h0M294.6 366.3h0M304.2 378.6h0M296.6 369.6h0M291.2 363.3h0M300.3 374.1h0M293.5 367.8h0M297.9 375.8h0M290.3 361.9h0M292.8 365.3h0M289.4 360.4h0M300.8 376.5h0M301.6 377.0h0M290.5 365.0h0M289.1 371.9h0M290.0 372.0h0M289.2 363.2h0M290.2 371.3h0M292.9 368.5h0M290.6 363.4h0M290.0 365.8h0M291.5 369.2h0M291.5 364.7h0M290.5 368.0h0M290.6 372.4h0M292.5 369.4h0M291.1 367.1h0M291.4 371.4h0M291.9 368.8h0M291.8 368.9h0M289.5 367.0h0M292.2 368.6h0M291.2 372.1h0M288.4 363.2h0M290.6 370.5h0M292.9 369.9h0M297.3 363.3h0M304.7 365.2h0M297.9 361.4h0M296.3 365.3h0M297.6 364.2h0M300.9 364.5h0M295.2 362.8h0M296.6 363.2h0M300.8 363.0h0M307.0 365.9h0M301.8 366.2h0M304.0 365.2h0M297.7 363.1h0M309.3 365.3h0M305.5 365.0h0M304.0 365.7h0M305.7 365.0h0M304.0 364.7h0M284.4 376.6h0M285.7 379.1h0M282.9 378.6h0M283.0 375.4h0M285.5 378.0h0M282.2 377.2h0M284.7 370.3h0M285.5 371.0h0M289.0 374.5h0M286.8 375.4h0M284.0 370.3h0M284.6 375.4h0M284.6 380.3h0M281.2 369.4h0M288.0 374.3h0M285.9 380.6h0M288.8 381.3h0M279.0 373.0h0M288.1 380.4h0M279.9 369.1h0M281.4 368.2h0M282.6 380.2h0M284.5 374.2h0M279.5 373.2h0M290.0 378.3h0M283.7 374.6h0M287.7 379.4h0M280.2 378.1h0M282.7 375.4h0M281.2 372.8h0M282.4 373.0h0M278.7 369.9h0M285.1 367.5h0M280.6 378.7h0M281.7 372.0h0M281.3 380.7h0M279.6 377.3h0M288.4 369.9h0M283.4 380.0h0M285.6 372.8h0M279.0 374.0h0M282.7 378.6h0M281.9 373.4h0M286.0 380.3h0M282.6 373.1h0M285.2 382.2h0M286.7 372.8h0M286.2 372.1h0M279.3 379.4h0M282.9 375.4h0M284.2 381.8h0M285.3 374.4h0M283.8 380.8h0M283.3 374.6h0M288.7 374.0h0M284.1 375.2h0M288.0 377.9h0M287.0 373.3h0M284.9 379.6h0M281.0 367.8h0M279.5 379.3h0M285.0 367.4h0M286.3 378.6h0M284.1 367.4h0M286.4 373.6h0M285.2 383.5h0M287.9 381.3h0M280.2 372.2h0M281.5 371.8h0M281.4 381.1h0M284.9 375.2h0M283.3 367.4h0M282.0 381.2h0M287.7 381.1h0M281.5 369.9h0M279.1 375.6h0M282.8 374.4h0M284.1 376.4h0M282.7 380.1h0M284.9 367.4h0M282.1 375.6h0M283.2 376.1h0M282.2 371.2h0M287.7 371.5h0M286.7 380.1h0M285.3 374.2h0M289.3 374.1h0M283.5 377.4h0M279.3 376.6h0M285.0 380.1h0M284.2 378.0h0M286.3 371.5h0M280.9 380.8h0M280.9 368.2h0M279.6 379.8h0M289.4 373.5h0M286.1 370.9h0M288.9 378.2h0M280.3 367.5h0M288.1 371.5h0M281.2 376.4h0M282.2 376.0h0M282.2 380.8h0M280.2 380.1h0M278.9 373.0h0M285.9 370.3h0M284.8 368.1h0M283.8 378.9h0M283.4 378.0h0M279.8 380.6h0M284.6 371.4h0M282.5 379.3h0M284.2 382.3h0M279.6 374.7h0M288.4 376.7h0M284.7 368.0h0M280.1 371.1h0M288.8 380.9h0M278.9 376.7h0M289.4 377.7h0M279.1 372.2h0M283.7 370.7h0M287.0 369.5h0M287.6 371.6h0M279.3 376.0h0M279.6 375.9h0M287.6 376.6h0M283.8 367.1h0M284.4 368.2h0M285.9 368.7h0M285.1 372.5h0M282.8 377.8h0M280.4 369.4h0M289.3 372.1h0M288.2 381.3h0M310.2 374.8h0M313.9 366.5h0M316.6 370.7h0M310.6 372.4h0M305.6 370.4h0M289.3 397.2h0M287.2 400.1h0M302.3 398.6h0M289.3 388.2h0M282.7 393.4h0M303.5 392.0h0M286.5 383.1h0M294.2 393.6h0M290.6 398.6h0M294.8 400.2h0M291.2 392.6h0M287.8 397.4h0M293.5 398.5h0M300.8 389.7h0M292.7 404.1h0M304.9 396.1h0M284.1 391.8h0M297.5 387.2h0M293.2 396.1h0M289.0 381.8h0M300.3 400.0h0M292.5 382.2h0M291.4 382.4h0M288.7 400.0h0M283.3 384.3h0M294.8 401.7h0M285.7 384.5h0M300.7 391.1h0M290.0 383.2h0M284.4 386.7h0M300.1 403.2h0M304.2 392.3h0M305.5 395.7h0M288.7 392.1h0M299.5 399.1h0M300.2 388.9h0M302.1 402.4h0M300.7 395.8h0M289.7 402.1h0M302.1 386.9h0M304.3 390.7h0M297.5 403.1h0M300.5 386.4h0M300.4 401.1h0M287.9 397.1h0M291.1 401.8h0M284.9 394.0h0M289.9 401.3h0M290.2 401.9h0M300.2 397.6h0M303.3 394.2h0M301.2 400.3h0M290.0 386.5h0M286.5 392.0h0M291.6 400.9h0M297.4 403.3h0M293.3 403.4h0M299.9 388.1h0M303.4 394.9h0M284.2 395.3h0M302.3 393.5h0M303.6 397.3h0M286.7 389.4h0M296.3 391.2h0M299.5 391.2h0M283.8 393.6h0M302.1 400.5h0M290.5 385.8h0M300.2 400.8h0M291.1 398.5h0M289.1 388.6h0M295.2 393.0h0M298.3 383.7h0M295.6 400.7h0M295.3 399.7h0M305.5 393.3h0M304.9 394.6h0M285.1 396.4h0M301.7 391.0h0M288.4 390.9h0M294.4 392.2h0M290.0 398.6h0M287.9 393.4h0M285.9 395.7h0M296.2 398.7h0M300.3 398.5h0M299.3 387.1h0M292.6 382.2h0M298.5 383.7h0M293.0 396.6h0M286.5 384.2h0M291.8 396.1h0M289.1 384.2h0M287.0 382.2h0M286.3 388.2h0M293.5 391.4h0M305.2 392.3h0M286.5 395.4h0M290.4 391.1h0M290.3 398.0h0M303.2 394.9h0M299.8 389.2h0M297.3 403.9h0M291.6 391.2h0M289.0 394.4h0M298.1 399.1h0M290.7 402.1h0M301.4 395.3h0M298.5 388.8h0M305.2 394.3h0M291.6 384.7h0M289.6 392.5h0M294.9 404.2h0M297.5 392.4h0M289.8 390.1h0M296.8 400.4h0M288.0 389.6h0M291.2 389.4h0M304.4 394.0h0M288.1 399.1h0M299.6 403.7h0M305.3 394.3h0M304.7 391.3h0M286.3 399.4h0M303.1 390.0h0M300.4 395.5h0M297.3 382.9h0M296.8 397.5h0M291.3 386.6h0M285.3 389.1h0M294.8 397.7h0M282.3 391.4h0M301.4 395.0h0M292.8 402.9h0M295.6 383.7h0M285.9 390.0h0M301.6 400.4h0M298.3 394.8h0M299.8 390.6h0M304.8 396.0h0M289.4 389.8h0M301.4 400.5h0M298.8 388.3h0M300.5 386.8h0M296.8 384.1h0M303.0 392.7h0M300.5 383.9h0M300.6 394.9h0M304.3 395.2h0M292.2 404.3h0M292.6 398.9h0M287.9 399.0h0M297.8 382.5h0M293.9 398.8h0M286.9 397.0h0M295.9 401.0h0M300.5 391.9h0M303.2 390.4h0M305.3 392.3h0M285.1 397.7h0M295.1 399.3h0M284.8 396.6h0M282.4 392.1h0M293.3 398.7h0M299.8 388.9h0M294.1 388.7h0M293.4 400.4h0M296.9 405.2h0M300.9 396.4h0M294.9 402.2h0M298.6 399.4h0M287.3 392.0h0M298.7 394.4h0M284.9 392.2h0M290.7 394.4h0M300.6 395.3h0M296.1 405.1h0M291.2 394.2h0M288.6 396.4h0M295.6 404.7h0M298.7 389.4h0M305.3 396.5h0M295.1 402.4h0M286.7 393.2h0M298.3 397.8h0M298.5 398.5h0M289.4 394.8h0M281.7 390.8h0M304.2 395.3h0M286.6 384.7h0M303.6 393.4h0M291.7 398.1h0M300.2 387.0h0M285.2 389.5h0M298.1 404.8h0M297.1 397.0h0M285.5 398.9h0M295.3 389.3h0M285.1 384.1h0M285.2 395.3h0M294.1 394.9h0M283.0 391.0h0M287.4 399.7h0M287.6 401.4h0M287.6 382.4h0M293.5 390.1h0M289.9 399.9h0M287.1 397.4h0M302.5 391.8h0M294.1 404.0h0M296.7 384.7h0M289.8 382.3h0M297.8 391.0h0M289.2 393.3h0M285.4 387.9h0M299.2 391.1h0M297.8 384.1h0M297.2 381.5h0M294.2 388.7h0M299.5 393.3h0M285.7 397.4h0M292.4 397.2h0M288.2 397.4h0M287.1 390.4h0M298.8 391.2h0M294.1 392.7h0M286.4 397.4h0M293.9 401.0h0M301.9 392.3h0M285.0 392.6h0M284.7 397.8h0M299.0 395.0h0M299.5 400.8h0M282.8 395.2h0M299.6 389.0h0M299.0 389.5h0M299.7 402.5h0M297.5 384.0h0M303.4 398.6h0M284.4 389.9h0M282.6 389.2h0M301.2 402.5h0M296.3 405.2h0M297.7 404.6h0M294.5 392.6h0M290.0 389.7h0M294.3 395.3h0M294.1 393.1h0M292.0 397.3h0M286.2 393.8h0M288.4 400.0h0M299.2 400.3h0M294.5 386.5h0M304.7 393.3h0M290.9 387.6h0M291.6 398.4h0M302.0 392.5h0M292.8 389.3h0M289.2 389.3h0M300.4 399.1h0M286.7 386.1h0M301.2 397.0h0M298.5 396.5h0M294.7 397.4h0M287.3 388.8h0M300.0 392.7h0M290.8 387.0h0M293.7 398.5h0M303.3 391.4h0M285.5 387.3h0M289.8 402.1h0M302.0 416.7h0M301.8 415.5h0M304.0 421.4h0M303.6 420.5h0" stroke="#3a3a3a" stroke-width="2.2" stroke-linecap="round"/>
<path d="M286.9 342.4h0M285.7 342.9h0M286.2 340.7h0M282.4 339.9h0M285.9 343.1h0M285.9 341.5h0M287.0 343.6h0M282.7 341.0h0M286.9 343.4h0M283.0 341.4h0M282.0 339.5h0M282.7 340.8h0M284.4 341.0h0M284.5 340.8h0M285.9 342.5h0M282.0 339.4h0M285.4 341.6h0M282.8 340.2h0M282.9 340.9h0M286.3 344.7h0M284.6 342.6h0M285.4 341.6h0M296.0 349.4h0M296.8 349.9h0M318.8 379.7h0M307.6 387.7h0M320.6 379.0h0M318.5 380.1h0M320.5 387.9h0M315.3 380.8h0M316.5 381.0h0M307.9 381.8h0M325.3 381.6h0M312.2 377.0h0M316.2 388.2h0M313.0 396.7h0M306.6 389.5h0M311.2 389.9h0M328.2 392.6h0M305.9 381.9h0M325.4 395.0h0M314.6 394.9h0M318.3 397.4h0M316.7 385.6h0M306.7 381.9h0M326.7 391.8h0M308.7 384.2h0M308.3 380.8h0M310.8 383.9h0M319.4 394.1h0M323.7 380.9h0M323.3 395.7h0M326.2 384.3h0M324.8 393.4h0M333.0 397.0h0M327.0 395.4h0M317.5 395.2h0M328.2 396.2h0M320.4 398.0h0M310.1 386.8h0M311.3 387.6h0M326.0 385.3h0M328.2 394.5h0M325.1 397.9h0M306.7 391.2h0M322.4 395.5h0M316.9 390.1h0M318.1 384.0h0M310.6 384.4h0M313.0 378.3h0M312.4 392.4h0M317.7 391.4h0M315.2 381.4h0M319.4 398.2h0M309.9 395.3h0M309.0 388.4h0M304.0 380.3h0M314.9 378.6h0M321.1 396.0h0M319.9 384.9h0M332.7 396.8h0M323.3 386.5h0M324.4 390.8h0M315.6 388.3h0M324.9 397.1h0M319.4 384.6h0M321.2 386.6h0M327.2 396.7h0M326.5 393.5h0M305.1 383.7h0M322.2 389.5h0M305.4 385.3h0M327.1 391.0h0M312.7 393.8h0M313.0 388.8h0M324.0 394.7h0M324.9 385.0h0M325.3 382.7h0M309.0 389.5h0M329.5 394.5h0M314.7 379.5h0M319.9 396.4h0M309.0 393.2h0M309.3 383.4h0M305.7 383.1h0M315.8 398.4h0M313.6 397.9h0M310.1 383.6h0M317.5 378.8h0M312.0 385.3h0M315.9 398.4h0M312.2 381.0h0M308.7 393.6h0M318.5 389.1h0M324.7 393.5h0M312.5 384.6h0M312.9 390.7h0M312.0 394.0h0M321.5 384.4h0M311.5 377.9h0M321.0 393.6h0M325.0 385.8h0M313.5 391.1h0M325.4 394.0h0M316.2 397.8h0M326.9 384.1h0M316.1 394.8h0M314.8 380.6h0M320.1 391.6h0M314.5 377.8h0M316.8 387.8h0M321.9 385.5h0M321.7 382.6h0M330.1 394.4h0M324.8 393.6h0M319.5 396.9h0M325.8 392.4h0M322.9 382.6h0M306.1 390.1h0M310.6 381.4h0M306.9 391.8h0M315.1 392.3h0M323.4 379.5h0M312.5 377.7h0M317.8 389.0h0M310.9 390.7h0M314.5 383.9h0M321.6 381.3h0M329.9 394.8h0M319.6 386.0h0M305.9 390.7h0M326.4 389.7h0M316.4 388.0h0M322.2 381.5h0M330.8 399.1h0M328.8 398.3h0M306.2 387.2h0M308.1 386.7h0M325.1 392.5h0M318.0 384.1h0M309.9 385.5h0M312.7 380.7h0M326.7 388.1h0M317.6 380.8h0M325.7 380.8h0M312.2 389.1h0M327.1 398.0h0M310.4 376.6h0M323.5 382.3h0M315.0 380.0h0M313.4 377.3h0M309.4 384.4h0M318.1 378.6h0M307.3 379.8h0M307.4 389.2h0M319.7 381.1h0M311.8 376.8h0M317.5 393.1h0M315.9 394.9h0M304.4 381.2h0M322.1 385.0h0M320.5 377.9h0M314.0 390.6h0M323.8 381.0h0M311.5 397.0h0M315.8 378.7h0M322.3 379.2h0M310.2 386.8h0M322.1 390.9h0M325.8 386.4h0M305.7 387.1h0M316.4 391.7h0M326.1 381.8h0M324.1 392.1h0M318.6 379.5h0M305.9 381.8h0M316.1 394.3h0M305.5 381.8h0M324.8 397.6h0M323.7 397.4h0M312.1 379.8h0M319.8 378.7h0M328.3 396.7h0M323.2 389.9h0M305.7 388.8h0M313.0 385.4h0M307.8 391.2h0M310.4 386.1h0M320.9 384.4h0M330.3 395.7h0M307.1 384.7h0M313.4 393.8h0M308.6 390.2h0M307.5 392.2h0M322.5 388.2h0M318.1 385.6h0M322.9 391.2h0M328.6 397.2h0M325.8 382.1h0M313.3 384.3h0M314.0 378.5h0M324.2 397.6h0M327.6 395.5h0M312.5 382.0h0M311.1 396.6h0M327.8 394.0h0M331.5 394.5h0M320.4 378.7h0M323.4 384.7h0M309.0 388.5h0M324.1 388.6h0M310.6 382.9h0M312.0 392.7h0M317.5 392.0h0M325.3 393.4h0M311.9 376.9h0M325.4 381.1h0M323.9 389.8h0M324.3 390.0h0M325.5 383.3h0M306.0 377.8h0M304.4 384.6h0M308.4 378.9h0M325.2 382.6h0M307.1 383.2h0M316.6 392.1h0M317.7 393.0h0M314.6 395.4h0M311.0 395.9h0M312.6 376.5h0M308.9 391.4h0M322.1 391.4h0M309.6 379.6h0M315.8 391.2h0M321.6 381.4h0M315.3 388.3h0M307.4 382.0h0M315.8 393.8h0M310.9 380.7h0M310.8 385.1h0M315.3 391.0h0M318.6 396.2h0M304.9 386.3h0M307.6 386.8h0M307.6 387.3h0M309.4 381.6h0M317.6 379.0h0M306.1 384.6h0M318.5 397.7h0M321.1 377.9h0M310.9 393.3h0M321.4 396.2h0M320.2 381.8h0M310.6 378.2h0M312.2 397.5h0M318.2 393.0h0M306.3 386.7h0M313.8 381.0h0M324.5 384.6h0M318.9 380.4h0M318.5 393.3h0M320.6 381.7h0M319.4 390.2h0M324.1 379.6h0M328.8 398.0h0M326.9 395.9h0M315.4 397.0h0M309.6 381.5h0M322.5 396.9h0M306.5 381.3h0M305.1 386.4h0M308.3 380.7h0M327.1 389.7h0M318.7 388.0h0M322.3 370.5h0M322.7 372.9h0M322.7 365.2h0M321.6 367.3h0M322.1 368.1h0M322.1 363.5h0M322.0 368.1h0M322.0 368.8h0M322.5 373.3h0M321.7 364.3h0M322.1 371.4h0M322.5 371.4h0M321.1 363.7h0M322.8 372.3h0M321.7 371.9h0M321.8 370.5h0M321.4 367.1h0M322.4 371.9h0M322.0 369.1h0M321.1 369.8h0M308.7 373.3h0M318.4 361.9h0M318.0 364.2h0M312.8 366.1h0M319.7 375.3h0M322.6 368.0h0M310.1 375.6h0M324.5 362.3h0M324.4 369.1h0M311.8 363.0h0M319.4 366.6h0M318.6 366.7h0M324.9 370.6h0M322.3 362.7h0M314.2 374.3h0M313.3 367.8h0M310.3 369.1h0M309.9 373.2h0M318.2 371.1h0M320.2 366.9h0M309.4 369.3h0M329.0 374.8h0M328.9 375.5h0M329.3 375.7h0M335.8 377.4h0M333.9 377.8h0M330.7 376.7h0M327.7 377.1h0M327.9 376.9h0M327.1 376.7h0M332.1 375.7h0M331.5 376.8h0M328.6 376.6h0M330.1 375.9h0M330.1 375.6h0M328.1 394.7h0M333.4 399.2h0M329.2 396.1h0M333.9 398.0h0M327.5 395.6h0M324.7 393.4h0M330.4 397.4h0M334.3 398.4h0M326.8 395.5h0M333.0 397.6h0M288.0 384.1h0M296.8 382.3h0M287.1 388.3h0M284.9 382.8h0M284.8 385.0h0M301.9 388.8h0M287.7 386.6h0M289.6 384.5h0M286.2 390.9h0M290.7 389.7h0M290.4 389.8h0M284.3 385.9h0M292.9 388.8h0M284.0 388.5h0M287.2 381.8h0M293.6 390.8h0M299.0 383.2h0M299.9 384.9h0M303.3 389.4h0M296.6 386.7h0M300.3 386.2h0M300.7 386.4h0M294.2 384.8h0M285.1 384.4h0M291.3 384.0h0M293.9 389.4h0M304.0 389.1h0M288.4 388.6h0M285.6 384.7h0M285.9 384.7h0M296.6 388.8h0M301.5 390.8h0M284.1 387.2h0M288.5 389.6h0M291.0 386.5h0M293.5 382.3h0M284.5 384.8h0M292.6 382.6h0M291.7 384.4h0M293.9 387.0h0M286.6 383.2h0M298.3 389.4h0M296.7 387.8h0M295.6 390.7h0M291.5 385.2h0M284.3 388.4h0M299.4 387.2h0M295.7 385.1h0M287.1 387.2h0M299.9 385.5h0M298.9 387.1h0M283.0 389.4h0M292.1 388.2h0M309.6 396.5h0M323.7 392.3h0M334.4 392.8h0M328.0 392.2h0M320.5 392.4h0M310.4 394.6h0M315.7 394.9h0M313.5 392.5h0M319.6 391.4h0M310.1 395.2h0M326.1 391.4h0M314.6 393.3h0M326.5 391.4h0M308.8 394.4h0M327.3 393.0h0M309.3 394.7h0M319.1 391.3h0M329.6 391.0h0M331.8 392.3h0M319.8 393.4h0M314.5 393.4h0M325.0 392.3h0M313.2 393.3h0M325.7 393.6h0M324.1 390.8h0M323.9 393.1h0M323.1 393.7h0M320.6 391.5h0M316.8 392.6h0M326.7 391.5h0M328.0 392.7h0M328.5 390.8h0M306.7 398.4h0M328.6 392.5h0M317.4 392.9h0M314.5 392.7h0M318.2 391.9h0M318.0 391.9h0M321.3 390.7h0M317.7 391.6h0M317.6 393.2h0M318.5 391.9h0" stroke="#acacac" stroke-width="2.2" stroke-linecap="round"/>
<line x1="254.9" y1="338.8" x2="254.9" y2="438" stroke="#222" stroke-width="1.15"/>
<line x1="254.5" y1="437.6" x2="344" y2="437.6" stroke="#222" stroke-width="1.15"/>
<line x1="252.9" y1="434.2" x2="254.9" y2="434.2" stroke="#222" stroke-width="1.0"/>
<text x="250.9" y="436.4" font-size="6.3" text-anchor="end" fill="#262626">4</text>
<line x1="252.9" y1="394.0" x2="254.9" y2="394.0" stroke="#222" stroke-width="1.0"/>
<text x="250.9" y="396.2" font-size="6.3" text-anchor="end" fill="#262626">8</text>
<line x1="252.9" y1="353.8" x2="254.9" y2="353.8" stroke="#222" stroke-width="1.0"/>
<text x="250.9" y="356.0" font-size="6.3" text-anchor="end" fill="#262626">12</text>
<line x1="259.16" y1="437.6" x2="259.16" y2="439.7" stroke="#222" stroke-width="1.0"/>
<text x="259.16" y="449.4" font-size="6.3" text-anchor="middle" fill="#262626">−8</text>
<line x1="298.88" y1="437.6" x2="298.88" y2="439.7" stroke="#222" stroke-width="1.0"/>
<text x="298.88" y="449.4" font-size="6.3" text-anchor="middle" fill="#262626">−4</text>
<line x1="338.6" y1="437.6" x2="338.6" y2="439.7" stroke="#222" stroke-width="1.0"/>
<text x="338.6" y="449.4" font-size="6.3" text-anchor="middle" fill="#262626">0</text>
<text x="294.6" y="333.5" font-size="8.6" text-anchor="middle" fill="#262626">CD45RA</text>
<circle cx="298.2" cy="396.3" r="34" fill="none" stroke="#555" stroke-width="0.8" stroke-dasharray="2.2,2"/>
<circle cx="290.0" cy="404.5" r="2.4" fill="#4a4030" stroke="#e39a20" stroke-width="1.3"/>
<circle cx="300.1" cy="409.5" r="2.4" fill="#4a4030" stroke="#e39a20" stroke-width="1.3"/>
<circle cx="304.5" cy="394.0" r="1.4" fill="#fff"/>
<rect x="271.8" y="394.7" width="17.099999999999966" height="7.100000000000023" fill="#fff" stroke="#8a8a8a" stroke-width="0.55"/>
<text x="280.35" y="400.40000000000003" font-size="6.6" text-anchor="middle" fill="#222" textLength="14.699999999999966" lengthAdjust="spacingAndGlyphs">11A5</text>
<rect x="270.7" y="408.2" width="18.80000000000001" height="7.400000000000034" fill="#fff" stroke="#8a8a8a" stroke-width="0.55"/>
<text x="280.1" y="414.20000000000005" font-size="6.6" text-anchor="middle" fill="#222" textLength="16.400000000000013" lengthAdjust="spacingAndGlyphs">10E7</text>
<rect x="303.7" y="405.5" width="26.900000000000034" height="7.399999999999977" fill="#fff" stroke="#8a8a8a" stroke-width="0.55"/>
<text x="317.15" y="411.5" font-size="6.6" text-anchor="middle" fill="#222" textLength="24.500000000000036" lengthAdjust="spacingAndGlyphs">17B2_2</text>
<path d="M369.6 341.0h0M368.6 340.0h0M368.5 342.5h0M368.5 340.0h0M368.4 342.2h0M368.9 341.6h0M385.3 339.6h0M400.4 342.4h0M390.2 342.0h0M390.3 341.3h0M388.0 343.4h0M399.2 342.9h0M389.2 342.8h0M390.5 341.2h0M391.8 340.4h0M399.7 340.7h0M391.1 341.9h0M399.4 343.1h0M399.4 341.5h0M400.5 343.6h0M396.2 341.0h0M400.4 343.4h0M396.5 341.4h0M390.4 341.8h0M394.0 339.7h0M391.7 341.3h0M387.0 344.9h0M395.5 339.5h0M396.2 340.8h0M397.9 341.0h0M398.0 340.8h0M387.2 343.0h0M399.4 342.5h0M395.5 339.4h0M394.6 340.1h0M394.4 340.5h0M398.9 341.6h0M396.3 340.2h0M396.4 340.9h0M391.0 341.7h0M399.8 344.7h0M388.8 342.5h0M398.1 342.6h0M398.9 341.6h0M409.5 349.4h0M410.3 349.9h0M386.3 353.7h0M383.6 351.2h0M380.4 354.0h0M379.8 353.5h0M383.4 353.2h0M382.8 355.1h0M385.1 354.4h0M384.3 351.2h0M380.8 352.0h0M379.0 351.5h0M380.6 352.7h0M378.9 351.8h0M380.6 351.3h0M384.4 351.4h0M383.0 352.9h0M385.3 354.4h0M384.4 352.8h0M382.4 354.6h0M379.2 351.4h0M382.2 350.4h0M387.5 352.7h0M382.1 352.4h0M387.4 352.4h0M382.7 355.8h0M384.1 352.7h0M383.2 352.4h0M382.8 352.0h0M380.8 351.2h0M380.3 353.6h0M386.5 353.7h0M383.2 355.1h0M380.8 352.6h0M380.6 352.8h0M384.8 353.8h0M381.4 353.2h0M383.9 352.8h0M383.6 351.1h0M386.1 354.4h0M386.0 354.9h0M385.7 354.5h0M386.4 351.8h0M386.7 354.9h0M379.2 352.1h0M386.8 352.8h0M383.1 354.1h0M384.8 355.5h0M388.0 351.4h0M382.1 355.1h0M379.3 352.1h0M381.1 354.0h0M380.6 354.4h0M382.5 354.0h0M382.8 354.9h0M384.0 354.1h0M388.1 353.7h0M380.7 353.3h0M377.0 362.2h0M369.2 371.6h0M368.9 368.2h0M374.8 363.9h0M380.6 362.3h0M382.2 363.2h0M370.9 366.3h0M379.6 360.9h0M383.5 363.9h0M372.7 365.5h0M375.8 364.0h0M374.0 364.2h0M379.3 362.8h0M371.4 363.1h0M375.2 363.8h0M372.6 365.1h0M372.4 365.2h0M370.7 365.4h0M371.4 364.6h0M373.1 365.1h0M373.5 364.4h0M370.6 365.1h0M378.5 362.0h0M368.3 368.1h0M382.4 362.1h0M374.6 363.3h0M374.3 364.1h0M369.9 364.4h0M377.4 363.4h0M369.8 368.7h0M371.8 364.6h0M371.5 363.4h0M378.4 361.9h0M373.2 364.1h0M376.2 363.4h0M382.9 363.1h0M384.9 364.6h0M370.0 367.7h0M381.4 361.8h0M373.3 364.6h0M381.1 361.9h0M382.4 363.3h0M373.1 365.1h0M383.9 364.1h0M382.4 364.2h0M373.7 364.6h0M369.1 370.1h0M381.6 363.5h0M376.4 362.7h0M373.4 363.6h0M372.0 365.0h0M381.4 362.8h0M375.7 364.3h0M370.5 366.4h0M374.0 364.6h0M413.0 376.2h0M414.0 376.8h0M403.9 361.5h0M415.7 376.7h0M414.4 374.7h0M407.1 366.7h0M401.0 358.2h0M405.5 361.7h0M405.5 363.5h0M403.5 358.8h0M407.2 365.1h0M403.8 361.4h0M416.3 377.5h0M413.9 377.3h0M415.5 374.9h0M407.8 366.9h0M415.2 375.2h0M403.5 361.9h0M408.4 367.4h0M414.3 377.2h0M411.0 369.9h0M404.7 363.2h0M399.4 357.2h0M414.0 376.6h0M412.6 370.9h0M400.5 359.0h0M406.1 363.9h0M408.4 370.0h0M407.0 368.1h0M400.0 362.0h0M402.3 359.3h0M410.0 371.5h0M414.6 376.6h0M403.7 360.4h0M404.8 363.2h0M409.6 368.2h0M405.0 366.1h0M407.6 366.9h0M414.7 379.0h0M409.9 368.0h0M406.8 364.6h0M404.5 360.0h0M411.8 369.3h0M413.4 376.7h0M416.2 376.4h0M406.1 364.0h0M411.3 377.0h0M414.6 372.8h0M409.5 370.5h0M402.1 359.7h0M400.5 359.3h0M413.8 376.2h0M407.5 363.9h0M401.4 356.9h0M403.3 362.8h0M403.2 359.6h0M411.0 369.6h0M415.3 377.6h0M414.3 375.3h0M411.1 377.2h0M399.8 359.9h0M405.4 364.4h0M408.1 366.3h0M417.7 378.6h0M410.1 369.6h0M404.7 363.3h0M413.8 374.1h0M407.0 367.8h0M411.4 375.8h0M403.8 361.9h0M406.3 365.3h0M402.9 360.4h0M414.3 376.5h0M415.1 377.0h0M404.0 365.0h0M402.6 371.9h0M403.5 372.0h0M402.7 363.2h0M403.7 371.3h0M406.4 368.5h0M404.1 363.4h0M403.5 365.8h0M405.0 369.2h0M405.0 364.7h0M404.0 368.0h0M404.1 372.4h0M406.0 369.4h0M404.6 367.1h0M404.9 371.4h0M405.4 368.8h0M405.3 368.9h0M403.0 367.0h0M405.7 368.6h0M404.7 372.1h0M401.9 363.2h0M404.1 370.5h0M406.4 369.9h0M410.8 363.3h0M418.2 365.2h0M411.4 361.4h0M409.8 365.3h0M411.1 364.2h0M408.7 362.8h0M410.1 363.2h0M414.3 363.0h0M420.5 365.9h0M415.3 366.2h0M417.5 365.2h0M411.2 363.1h0M422.8 365.3h0M419.0 365.0h0M417.5 365.7h0M419.2 365.0h0M417.5 364.7h0M397.9 376.6h0M399.2 379.1h0M396.4 378.6h0M396.5 375.4h0M399.0 378.0h0M395.7 377.2h0M398.2 370.3h0M399.0 371.0h0M402.5 374.5h0M400.3 375.4h0M397.5 370.3h0M398.1 375.4h0M398.1 380.3h0M394.7 369.4h0M401.5 374.3h0M399.4 380.6h0M402.3 381.3h0M392.5 373.0h0M401.6 380.4h0M393.4 369.1h0M394.9 368.2h0M396.1 380.2h0M398.0 374.2h0M393.0 373.2h0M403.5 378.3h0M397.2 374.6h0M401.2 379.4h0M393.7 378.1h0M396.2 375.4h0M394.7 372.8h0M395.9 373.0h0M392.2 369.9h0M398.6 367.5h0M394.1 378.7h0M395.2 372.0h0M394.8 380.7h0M393.1 377.3h0M401.9 369.9h0M396.9 380.0h0M399.1 372.8h0M392.5 374.0h0M396.2 378.6h0M395.4 373.4h0M399.5 380.3h0M396.1 373.1h0M398.7 382.2h0M400.2 372.8h0M399.7 372.1h0M392.8 379.4h0M396.4 375.4h0M397.7 381.8h0M398.8 374.4h0M397.3 380.8h0M396.8 374.6h0M402.2 374.0h0M397.6 375.2h0M401.5 377.9h0M400.5 373.3h0M398.4 379.6h0M394.5 367.8h0M393.0 379.3h0M398.5 367.4h0M399.8 378.6h0M397.6 367.4h0M399.9 373.6h0M398.7 383.5h0M401.4 381.3h0M393.7 372.2h0M395.0 371.8h0M394.9 381.1h0M398.4 375.2h0M396.8 367.4h0M395.5 381.2h0M401.2 381.1h0M395.0 369.9h0M392.6 375.6h0M396.3 374.4h0M397.6 376.4h0M396.2 380.1h0M398.4 367.4h0M395.6 375.6h0M396.7 376.1h0M395.7 371.2h0M401.2 371.5h0M400.2 380.1h0M398.8 374.2h0M402.8 374.1h0M397.0 377.4h0M392.8 376.6h0M398.5 380.1h0M397.7 378.0h0M399.8 371.5h0M394.4 380.8h0M394.4 368.2h0M393.1 379.8h0M402.9 373.5h0M399.6 370.9h0M402.4 378.2h0M393.8 367.5h0M401.6 371.5h0M394.7 376.4h0M395.7 376.0h0M395.7 380.8h0M393.7 380.1h0M392.4 373.0h0M399.4 370.3h0M398.3 368.1h0M397.3 378.9h0M396.9 378.0h0M393.3 380.6h0M398.1 371.4h0M396.0 379.3h0M397.7 382.3h0M393.1 374.7h0M401.9 376.7h0M398.2 368.0h0M393.6 371.1h0M402.3 380.9h0M392.4 376.7h0M402.9 377.7h0M392.6 372.2h0M397.2 370.7h0M400.5 369.5h0M401.1 371.6h0M392.8 376.0h0M393.1 375.9h0M401.1 376.6h0M397.3 367.1h0M397.9 368.2h0M399.4 368.7h0M398.6 372.5h0M396.3 377.8h0M393.9 369.4h0M402.8 372.1h0M401.7 381.3h0M432.3 379.7h0M434.1 379.0h0M432.0 380.1h0M428.8 380.8h0M421.4 381.8h0M438.8 381.6h0M425.7 377.0h0M429.7 388.2h0M426.5 396.7h0M420.1 389.5h0M424.7 389.9h0M441.7 392.6h0M419.4 381.9h0M438.9 395.0h0M428.1 394.9h0M431.8 397.4h0M430.2 385.6h0M420.2 381.9h0M440.2 391.8h0M422.2 384.2h0M421.8 380.8h0M424.3 383.9h0M432.9 394.1h0M437.2 380.9h0M436.8 395.7h0M439.7 384.3h0M446.5 397.0h0M440.5 395.4h0M431.0 395.2h0M441.7 396.2h0M433.9 398.0h0M423.6 386.8h0M424.8 387.6h0M439.5 385.3h0M438.6 397.9h0M420.2 391.2h0M435.9 395.5h0M430.4 390.1h0M431.6 384.0h0M424.1 384.4h0M426.5 378.3h0M425.9 392.4h0M431.2 391.4h0M428.7 381.4h0M432.9 398.2h0M423.4 395.3h0M422.5 388.4h0M417.5 380.3h0M428.4 378.6h0M434.6 396.0h0M446.2 396.8h0M436.8 386.5h0M437.9 390.8h0M429.1 388.3h0M438.4 397.1h0M432.9 384.6h0M434.7 386.6h0M440.7 396.7h0M440.0 393.5h0M418.6 383.7h0M435.7 389.5h0M418.9 385.3h0M440.6 391.0h0M426.2 393.8h0M426.5 388.8h0M437.5 394.7h0M438.4 385.0h0M438.8 382.7h0M422.5 389.5h0M443.0 394.5h0M428.2 379.5h0M433.4 396.4h0M422.5 393.2h0M422.8 383.4h0M419.2 383.1h0M429.3 398.4h0M427.1 397.9h0M423.6 383.6h0M431.0 378.8h0M425.5 385.3h0M429.4 398.4h0M425.7 381.0h0M422.2 393.6h0M432.0 389.1h0M438.2 393.5h0M426.0 384.6h0M426.4 390.7h0M425.5 394.0h0M435.0 384.4h0M434.5 393.6h0M438.5 385.8h0M427.0 391.1h0M438.9 394.0h0M429.7 397.8h0M440.4 384.1h0M429.6 394.8h0M428.3 380.6h0M433.6 391.6h0M430.3 387.8h0M435.4 385.5h0M435.2 382.6h0M443.6 394.4h0M438.3 393.6h0M433.0 396.9h0M439.3 392.4h0M436.4 382.6h0M419.6 390.1h0M424.1 381.4h0M420.4 391.8h0M428.6 392.3h0M436.9 379.5h0M426.0 377.7h0M431.3 389.0h0M424.4 390.7h0M428.0 383.9h0M435.1 381.3h0M443.4 394.8h0M433.1 386.0h0M419.4 390.7h0M439.9 389.7h0M429.9 388.0h0M435.7 381.5h0M444.3 399.1h0M442.3 398.3h0M419.7 387.2h0M421.6 386.7h0M438.6 392.5h0M431.5 384.1h0M423.4 385.5h0M426.2 380.7h0M440.2 388.1h0M431.1 380.8h0M439.2 380.8h0M425.7 389.1h0M440.6 398.0h0M423.9 376.6h0M437.0 382.3h0M428.5 380.0h0M426.9 377.3h0M422.9 384.4h0M431.6 378.6h0M420.8 379.8h0M420.9 389.2h0M433.2 381.1h0M425.3 376.8h0M431.0 393.1h0M429.4 394.9h0M417.9 381.2h0M435.6 385.0h0M434.0 377.9h0M427.5 390.6h0M437.3 381.0h0M425.0 397.0h0M429.3 378.7h0M435.8 379.2h0M423.7 386.8h0M439.3 386.4h0M419.2 387.1h0M429.9 391.7h0M439.6 381.8h0M437.6 392.1h0M432.1 379.5h0M419.4 381.8h0M429.6 394.3h0M419.0 381.8h0M438.3 397.6h0M437.2 397.4h0M425.6 379.8h0M433.3 378.7h0M441.8 396.7h0M436.7 389.9h0M419.2 388.8h0M426.5 385.4h0M421.3 391.2h0M423.9 386.1h0M434.4 384.4h0M443.8 395.7h0M420.6 384.7h0M422.1 390.2h0M421.0 392.2h0M436.0 388.2h0M431.6 385.6h0M436.4 391.2h0M442.1 397.2h0M439.3 382.1h0M426.8 384.3h0M427.5 378.5h0M437.7 397.6h0M441.1 395.5h0M426.0 382.0h0M424.6 396.6h0M441.3 394.0h0M445.0 394.5h0M433.9 378.7h0M436.9 384.7h0M422.5 388.5h0M437.6 388.6h0M425.5 392.7h0M431.0 392.0h0M438.8 393.4h0M425.4 376.9h0M438.9 381.1h0M437.4 389.8h0M437.8 390.0h0M439.0 383.3h0M419.5 377.8h0M438.7 382.6h0M420.6 383.2h0M430.1 392.1h0M431.2 393.0h0M428.1 395.4h0M424.5 395.9h0M422.4 391.4h0M435.6 391.4h0M423.1 379.6h0M435.1 381.4h0M420.9 382.0h0M429.3 393.8h0M424.4 380.7h0M424.3 385.1h0M428.8 391.0h0M432.1 396.2h0M418.4 386.3h0M421.1 386.8h0M421.1 387.3h0M422.9 381.6h0M431.1 379.0h0M419.6 384.6h0M432.0 397.7h0M434.6 377.9h0M424.4 393.3h0M434.9 396.2h0M433.7 381.8h0M424.1 378.2h0M425.7 397.5h0M431.7 393.0h0M419.8 386.7h0M427.3 381.0h0M438.0 384.6h0M432.4 380.4h0M432.0 393.3h0M432.9 390.2h0M437.6 379.6h0M442.3 398.0h0M440.4 395.9h0M428.9 397.0h0M423.1 381.5h0M436.0 396.9h0M420.0 381.3h0M418.6 386.4h0M421.8 380.7h0M440.6 389.7h0M432.2 388.0h0M435.8 370.5h0M436.2 372.9h0M436.2 365.2h0M435.1 367.3h0M435.6 363.5h0M435.5 368.1h0M435.5 368.8h0M436.0 373.3h0M435.2 364.3h0M435.6 371.4h0M436.0 371.4h0M434.6 363.7h0M436.3 372.3h0M435.2 371.9h0M435.3 370.5h0M434.9 367.1h0M435.9 371.9h0M435.5 369.1h0M434.6 369.8h0M431.9 361.9h0M431.5 364.2h0M423.7 374.8h0M426.3 366.1h0M433.2 375.3h0M436.1 368.0h0M423.6 375.6h0M438.0 362.3h0M437.9 369.1h0M425.3 363.0h0M432.9 366.6h0M432.1 366.7h0M427.4 366.5h0M438.4 370.6h0M435.8 362.7h0M427.7 374.3h0M430.1 370.7h0M426.8 367.8h0M423.8 369.1h0M424.1 372.4h0M423.4 373.2h0M431.7 371.1h0M433.7 366.9h0M419.1 370.4h0M422.9 369.3h0M442.5 374.8h0M442.4 375.5h0M442.8 375.7h0M449.3 377.4h0M447.4 377.8h0M444.2 376.7h0M441.2 377.1h0M441.4 376.9h0M440.6 376.7h0M445.6 375.7h0M445.0 376.8h0M442.1 376.6h0M443.6 375.9h0M443.6 375.6h0M441.6 394.7h0M446.9 399.2h0M442.7 396.1h0M447.4 398.0h0M441.0 395.6h0M438.2 393.4h0M443.9 397.4h0M447.8 398.4h0M440.3 395.5h0M446.5 397.6h0M401.5 384.1h0M402.8 388.2h0M410.3 382.3h0M396.2 393.4h0M400.0 383.1h0M407.7 393.6h0M404.7 392.6h0M400.6 388.3h0M414.3 389.7h0M397.6 391.8h0M411.0 387.2h0M402.5 381.8h0M406.0 382.2h0M404.9 382.4h0M398.4 382.8h0M396.8 384.3h0M399.2 384.5h0M403.5 383.2h0M397.9 386.7h0M402.2 392.1h0M398.3 385.0h0M415.4 388.8h0M401.2 386.6h0M413.7 388.9h0M399.7 390.9h0M415.6 386.9h0M404.2 389.7h0M403.9 389.8h0M397.8 385.9h0M414.0 386.4h0M398.4 394.0h0M406.4 388.8h0M403.5 386.5h0M397.5 388.5h0M400.7 381.8h0M400.0 392.0h0M413.4 388.1h0M397.7 395.3h0M407.1 390.8h0M400.2 389.4h0M412.5 383.2h0M409.8 391.2h0M397.3 393.6h0M404.0 385.8h0M402.6 388.6h0M413.4 384.9h0M408.7 393.0h0M411.8 383.7h0M416.8 389.4h0M410.1 386.7h0M401.9 390.9h0M407.9 392.2h0M413.8 386.2h0M401.4 393.4h0M412.8 387.1h0M406.1 382.2h0M412.0 383.7h0M414.2 386.4h0M400.0 384.2h0M402.6 384.2h0M400.5 382.2h0M399.8 388.2h0M407.7 384.8h0M407.0 391.4h0M400.0 395.4h0M398.6 384.4h0M403.9 391.1h0M404.8 384.0h0M413.3 389.2h0M405.1 391.2h0M402.5 394.4h0M412.0 388.8h0M405.1 384.7h0M403.1 392.5h0M407.4 389.4h0M417.5 389.1h0M411.0 392.4h0M403.3 390.1h0M401.5 389.6h0M404.7 389.4h0M401.9 388.6h0M416.6 390.0h0M399.1 384.7h0M404.8 386.6h0M399.4 384.7h0M398.8 389.1h0M395.8 391.4h0M410.1 388.8h0M409.1 383.7h0M399.4 390.0h0M402.9 389.8h0M412.3 388.3h0M414.0 386.8h0M410.3 384.1h0M397.6 387.2h0M411.3 382.5h0M402.0 389.6h0M416.7 390.4h0M404.5 386.5h0M395.9 392.1h0M413.3 388.9h0M398.0 384.8h0M407.6 388.7h0M406.1 382.6h0M400.8 392.0h0M405.2 384.4h0M398.4 392.2h0M407.4 387.0h0M404.2 394.4h0M404.7 394.2h0M400.1 383.2h0M412.2 389.4h0M411.8 389.4h0M400.2 393.2h0M402.9 394.8h0M395.2 390.8h0M400.1 384.7h0M413.7 387.0h0M398.7 389.5h0M408.8 389.3h0M398.6 384.1h0M398.7 395.3h0M407.6 394.9h0M409.1 390.7h0M396.5 391.0h0M401.1 382.4h0M407.0 390.1h0M410.2 384.7h0M403.3 382.3h0M411.3 391.0h0M402.7 393.3h0M398.9 387.9h0M411.3 384.1h0M410.7 381.5h0M407.7 388.7h0M405.0 385.2h0M400.6 390.4h0M407.6 392.7h0M398.5 392.6h0M397.8 388.4h0M413.1 389.0h0M412.5 389.5h0M412.9 387.2h0M411.0 384.0h0M396.1 389.2h0M409.2 385.1h0M408.0 392.6h0M403.5 389.7h0M407.8 395.3h0M400.6 387.2h0M407.6 393.1h0M399.7 393.8h0M408.0 386.5h0M404.4 387.6h0M413.4 385.5h0M406.3 389.3h0M402.7 389.3h0M400.2 386.1h0M412.4 387.1h0M396.5 389.4h0M400.8 388.8h0M404.3 387.0h0M405.6 388.2h0M399.0 387.3h0" stroke="#acacac" stroke-width="2.2" stroke-linecap="round"/>
<path d="M395.9 339.9h0M414.4 364.5h0M435.6 368.1h0M422.2 373.3h0M402.8 397.2h0M400.7 400.1h0M415.8 398.6h0M417.0 392.0h0M404.1 398.6h0M408.3 400.2h0M401.3 397.4h0M407.0 398.5h0M406.2 404.1h0M418.4 396.1h0M406.7 396.1h0M413.8 400.0h0M402.2 400.0h0M408.3 401.7h0M414.2 391.1h0M413.6 403.2h0M417.7 392.3h0M419.0 395.7h0M413.0 399.1h0M403.1 384.5h0M415.6 402.4h0M414.2 395.8h0M403.2 402.1h0M417.8 390.7h0M411.0 403.1h0M413.9 401.1h0M401.4 397.1h0M404.6 401.8h0M403.4 401.3h0M403.7 401.9h0M413.7 397.6h0M416.8 394.2h0M414.7 400.3h0M405.1 400.9h0M410.9 403.3h0M406.8 403.4h0M416.9 394.9h0M415.8 393.5h0M417.1 397.3h0M413.0 391.2h0M415.6 400.5h0M413.7 400.8h0M404.6 398.5h0M409.1 400.7h0M408.8 399.7h0M419.0 393.3h0M418.4 394.6h0M398.6 396.4h0M415.2 391.0h0M403.5 398.6h0M399.4 395.7h0M409.7 398.7h0M413.8 398.5h0M406.5 396.6h0M405.3 396.1h0M418.7 392.3h0M403.8 398.0h0M416.7 394.9h0M410.8 403.9h0M411.6 399.1h0M404.2 402.1h0M414.9 395.3h0M418.7 394.3h0M408.4 404.2h0M410.3 400.4h0M417.9 394.0h0M401.6 399.1h0M413.1 403.7h0M418.8 394.3h0M418.2 391.3h0M399.8 399.4h0M413.9 395.5h0M410.8 382.9h0M410.3 397.5h0M408.3 397.7h0M414.9 395.0h0M406.3 402.9h0M415.1 400.4h0M415.0 390.8h0M411.8 394.8h0M413.3 390.6h0M418.3 396.0h0M414.9 400.5h0M416.5 392.7h0M414.0 383.9h0M414.1 394.9h0M417.8 395.2h0M405.7 404.3h0M406.1 398.9h0M401.4 399.0h0M407.4 398.8h0M400.4 397.0h0M409.4 401.0h0M414.0 391.9h0M418.8 392.3h0M398.6 397.7h0M408.6 399.3h0M398.3 396.6h0M407.0 382.3h0M406.8 398.7h0M406.9 400.4h0M410.4 405.2h0M414.4 396.4h0M408.4 402.2h0M412.1 399.4h0M412.2 394.4h0M414.1 395.3h0M409.6 405.1h0M402.1 396.4h0M409.1 404.7h0M418.8 396.5h0M408.6 402.4h0M410.2 387.8h0M411.8 397.8h0M412.0 398.5h0M417.7 395.3h0M417.1 393.4h0M405.2 398.1h0M411.6 404.8h0M410.6 397.0h0M399.0 398.9h0M400.9 399.7h0M401.1 401.4h0M403.4 399.9h0M400.6 397.4h0M416.0 391.8h0M407.6 404.0h0M412.7 391.1h0M413.0 393.3h0M399.2 397.4h0M405.9 397.2h0M401.7 397.4h0M412.3 391.2h0M399.9 397.4h0M407.4 401.0h0M415.4 392.3h0M398.2 397.8h0M412.5 395.0h0M413.0 400.8h0M396.3 395.2h0M413.2 402.5h0M416.9 398.6h0M397.9 389.9h0M414.7 402.5h0M409.8 405.2h0M411.2 404.6h0M405.5 397.3h0M401.9 400.0h0M412.7 400.3h0M418.2 393.3h0M405.1 398.4h0M415.5 392.5h0M413.9 399.1h0M414.7 397.0h0M412.0 396.5h0M408.2 397.4h0M413.5 392.7h0M407.2 398.5h0M416.8 391.4h0M403.3 402.1h0M415.5 416.7h0M415.3 415.5h0M417.5 421.4h0M417.1 420.5h0M423.1 396.5h0M437.2 392.3h0M447.9 392.8h0M441.5 392.2h0M434.0 392.4h0M423.9 394.6h0M429.2 394.9h0M427.0 392.5h0M433.1 391.4h0M423.6 395.2h0M439.6 391.4h0M428.1 393.3h0M440.0 391.4h0M422.3 394.4h0M440.8 393.0h0M422.8 394.7h0M432.6 391.3h0M443.1 391.0h0M445.3 392.3h0M433.3 393.4h0M428.0 393.4h0M438.5 392.3h0M426.7 393.3h0M439.2 393.6h0M437.6 390.8h0M437.4 393.1h0M436.6 393.7h0M434.1 391.5h0M430.3 392.6h0M440.2 391.5h0M441.5 392.7h0M442.0 390.8h0M420.2 398.4h0M442.1 392.5h0M430.9 392.9h0M428.0 392.7h0M431.7 391.9h0M431.5 391.9h0M434.8 390.7h0M431.2 391.6h0M431.1 393.2h0M432.0 391.9h0" stroke="#3a3a3a" stroke-width="2.2" stroke-linecap="round"/>
<path d="M421.1 387.7h0M434.0 387.9h0M430.0 381.0h0M438.3 393.4h0M441.7 394.5h0M433.4 384.9h0M425.0 377.9h0M428.0 377.8h0M435.6 390.9h0M426.9 393.8h0M424.1 382.9h0M417.9 384.6h0M421.9 378.9h0M426.1 376.5h0M429.3 391.2h0M428.8 388.3h0M434.1 381.7h0" stroke="#7a7a7a" stroke-width="2.2" stroke-linecap="round"/>
<line x1="368.4" y1="338.8" x2="368.4" y2="438" stroke="#222" stroke-width="1.15"/>
<line x1="368.0" y1="437.6" x2="457.5" y2="437.6" stroke="#222" stroke-width="1.15"/>
<line x1="366.4" y1="434.2" x2="368.4" y2="434.2" stroke="#222" stroke-width="1.0"/>
<text x="364.4" y="436.4" font-size="6.3" text-anchor="end" fill="#262626">4</text>
<line x1="366.4" y1="394.0" x2="368.4" y2="394.0" stroke="#222" stroke-width="1.0"/>
<text x="364.4" y="396.2" font-size="6.3" text-anchor="end" fill="#262626">8</text>
<line x1="366.4" y1="353.8" x2="368.4" y2="353.8" stroke="#222" stroke-width="1.0"/>
<text x="364.4" y="356.0" font-size="6.3" text-anchor="end" fill="#262626">12</text>
<line x1="372.66" y1="437.6" x2="372.66" y2="439.7" stroke="#222" stroke-width="1.0"/>
<text x="372.66" y="449.4" font-size="6.3" text-anchor="middle" fill="#262626">−8</text>
<line x1="412.38" y1="437.6" x2="412.38" y2="439.7" stroke="#222" stroke-width="1.0"/>
<text x="412.38" y="449.4" font-size="6.3" text-anchor="middle" fill="#262626">−4</text>
<line x1="452.1" y1="437.6" x2="452.1" y2="439.7" stroke="#222" stroke-width="1.0"/>
<text x="452.1" y="449.4" font-size="6.3" text-anchor="middle" fill="#262626">0</text>
<text x="414.6" y="333.5" font-size="8.6" text-anchor="middle" fill="#262626">CD57</text>
<circle cx="411.7" cy="396.3" r="34" fill="none" stroke="#555" stroke-width="0.8" stroke-dasharray="2.2,2"/>
<circle cx="403.5" cy="404.5" r="2.4" fill="#4a4030" stroke="#e39a20" stroke-width="1.3"/>
<circle cx="413.6" cy="409.5" r="2.4" fill="#4a4030" stroke="#e39a20" stroke-width="1.3"/>
<circle cx="418.0" cy="394.0" r="1.4" fill="#fff"/>
<rect x="385.3" y="394.7" width="17.099999999999966" height="7.100000000000023" fill="#fff" stroke="#8a8a8a" stroke-width="0.55"/>
<text x="393.85" y="400.40000000000003" font-size="6.6" text-anchor="middle" fill="#222" textLength="14.699999999999966" lengthAdjust="spacingAndGlyphs">11A5</text>
<rect x="384.2" y="408.2" width="18.80000000000001" height="7.400000000000034" fill="#fff" stroke="#8a8a8a" stroke-width="0.55"/>
<text x="393.6" y="414.20000000000005" font-size="6.6" text-anchor="middle" fill="#222" textLength="16.400000000000013" lengthAdjust="spacingAndGlyphs">10E7</text>
<rect x="417.2" y="405.5" width="26.900000000000034" height="7.399999999999977" fill="#fff" stroke="#8a8a8a" stroke-width="0.55"/>
<text x="430.65" y="411.5" font-size="6.6" text-anchor="middle" fill="#222" textLength="24.500000000000036" lengthAdjust="spacingAndGlyphs">17B2_2</text>
<text x="480.3" y="358.3" font-size="6.4" text-anchor="middle" fill="#444">Highest</text>
<text x="480.3" y="365.5" font-size="6.4" text-anchor="middle" fill="#444">expression</text>
<rect x="476.6" y="370.5" width="7.6" height="36.4" fill="url(#gexp)" stroke="none" stroke-width="0.8"/>
<text x="480.3" y="415.5" font-size="6.4" text-anchor="middle" fill="#444">Lowest</text>
<text x="480.3" y="422.4" font-size="6.4" text-anchor="middle" fill="#444">expression</text>
<path d="M66.5 593.6h0M93.2 547.9h0M60.8 591.0h0M99.8 572.2h0M51.4 577.2h0M97.6 562.3h0M115.3 553.5h0M78.2 568.5h0M119.9 523.9h0M59.6 571.5h0M85.1 569.3h0M76.3 574.6h0M92.8 571.7h0M101.4 553.3h0M60.6 611.0h0M62.2 573.2h0M64.6 570.0h0M103.9 611.0h0M71.0 565.2h0M91.4 575.7h0M113.1 550.9h0M68.0 602.8h0M85.6 567.4h0M72.1 567.9h0M85.5 563.2h0M74.9 598.8h0M70.2 594.4h0M102.7 575.3h0M82.0 584.1h0M99.2 553.4h0M87.4 559.1h0M80.3 568.8h0M66.9 590.7h0M72.7 568.3h0M39.8 602.8h0M73.9 570.9h0M75.7 582.8h0M101.1 600.6h0M79.3 557.0h0M86.2 556.5h0M69.1 611.0h0M92.1 561.9h0M80.7 572.1h0M39.8 582.0h0M90.1 564.9h0M68.7 576.7h0M64.9 576.9h0M51.0 602.8h0M82.2 560.5h0M74.0 596.1h0M84.1 580.5h0M53.5 580.1h0M105.0 568.2h0M55.1 588.5h0M75.3 591.3h0M87.9 566.4h0M103.7 561.4h0M96.4 586.3h0M75.5 589.4h0M91.3 547.2h0M39.8 611.0h0M96.5 578.9h0M85.2 545.0h0M95.6 597.8h0M84.7 570.3h0M90.0 582.1h0M93.4 562.1h0M77.1 593.5h0M98.7 565.6h0M100.1 516.1h0M57.3 571.2h0M72.3 574.7h0M85.5 566.8h0M95.3 539.6h0M85.0 565.7h0M62.6 573.6h0M72.6 562.9h0M88.4 562.9h0M53.4 591.1h0M94.2 538.1h0M58.8 561.5h0M90.5 551.6h0M50.9 564.6h0M86.6 550.3h0M72.5 542.4h0M56.9 584.4h0M75.1 594.4h0M74.9 572.3h0M39.8 579.7h0M71.2 562.2h0M68.3 558.8h0M60.7 611.0h0M62.3 588.0h0M83.4 576.0h0M124.4 531.4h0M113.3 558.5h0M63.7 570.3h0M88.9 551.2h0M105.5 565.7h0M54.4 595.3h0M80.0 602.8h0M88.0 552.5h0M71.8 569.5h0M63.4 611.0h0M87.4 551.0h0M66.4 577.9h0M102.4 565.3h0M83.0 536.6h0M51.3 556.3h0M86.1 577.0h0M72.5 584.6h0M95.1 575.4h0M61.8 575.2h0M86.3 599.2h0M98.2 550.1h0M86.8 566.9h0M83.5 564.1h0M65.6 562.9h0M87.2 596.2h0M91.3 561.2h0M79.5 573.7h0M81.9 557.4h0M87.5 568.6h0M63.3 574.3h0M56.9 575.8h0M74.7 531.8h0M72.5 568.0h0M73.4 580.8h0M100.6 551.4h0M74.5 565.9h0M88.5 580.5h0M65.6 565.0h0M52.3 579.8h0M70.5 611.0h0M124.4 548.2h0M76.1 566.0h0M64.9 595.8h0M90.4 550.8h0M39.8 592.3h0M63.1 596.3h0M103.3 576.9h0M79.7 546.9h0M73.9 565.3h0M102.8 515.7h0M99.9 547.3h0M78.0 557.5h0M98.7 531.6h0M81.6 576.8h0M68.0 593.6h0M73.8 556.2h0M113.3 542.8h0M114.5 548.8h0M96.1 570.2h0M79.4 562.2h0M102.3 567.0h0M60.1 556.5h0M39.8 562.7h0M54.5 584.9h0M73.3 558.2h0M48.6 592.2h0M61.5 573.5h0M83.7 547.3h0M84.7 584.5h0M85.0 532.1h0M107.4 579.3h0M98.8 547.3h0M70.1 576.6h0M61.8 586.2h0M78.0 571.2h0M98.7 547.6h0M69.0 611.0h0M59.1 595.8h0M104.7 555.4h0M60.4 602.8h0M90.4 582.7h0M100.9 564.5h0M77.8 536.1h0M69.9 585.1h0M101.9 573.7h0M87.4 559.4h0M80.9 566.8h0M92.3 571.9h0M69.5 567.3h0M78.9 594.4h0M111.4 557.8h0M103.3 563.3h0M88.3 576.0h0M63.9 585.1h0M77.4 588.8h0M72.2 578.1h0M100.9 576.0h0M61.3 573.6h0M85.0 545.2h0M84.1 556.4h0M64.0 553.6h0M88.9 552.8h0M87.1 611.0h0M78.2 561.3h0M120.1 552.5h0M89.7 567.8h0M75.8 589.8h0M96.4 545.7h0M73.5 566.4h0M51.0 577.7h0M105.7 558.8h0M77.3 606.5h0M103.4 562.3h0M72.4 557.0h0M72.8 568.0h0M90.8 564.3h0M104.3 551.8h0M60.9 589.9h0M92.9 568.0h0M107.6 578.2h0M116.8 530.1h0M88.7 566.5h0M95.9 548.6h0M75.5 559.5h0M66.1 591.5h0M68.3 595.5h0M107.7 545.0h0M83.0 558.5h0M61.9 600.2h0M77.1 582.2h0M101.2 569.4h0M117.1 536.4h0M76.6 546.8h0M86.5 544.0h0M71.7 595.5h0M39.8 606.5h0M96.3 537.7h0M70.8 546.6h0M65.4 606.5h0M69.7 550.0h0M69.6 600.3h0M98.8 559.5h0M80.3 572.2h0M78.7 595.1h0M69.5 573.2h0M99.5 541.4h0M81.6 594.5h0M60.0 583.1h0M55.7 611.0h0M59.5 562.4h0M85.3 565.7h0M53.1 579.4h0M90.8 580.0h0M93.9 561.1h0M80.1 578.0h0M101.9 590.8h0M61.1 584.8h0M99.7 545.8h0M104.2 545.3h0M81.2 563.5h0M51.8 583.1h0M122.9 538.8h0M100.4 568.7h0M100.5 569.9h0M76.0 571.8h0M94.5 549.7h0M59.3 589.5h0M79.3 584.5h0M61.3 571.2h0M91.2 590.1h0M83.0 571.9h0M85.1 572.2h0M109.5 567.6h0M68.9 602.8h0M135.4 531.0h0M86.8 562.1h0M90.6 549.1h0M39.8 611.0h0M48.6 602.8h0M125.0 562.8h0M97.3 583.9h0M100.7 556.2h0M117.5 558.1h0M80.7 579.9h0M80.4 579.5h0M70.0 595.6h0M56.5 574.3h0M76.6 599.6h0M81.1 561.1h0M84.8 576.6h0M65.1 590.4h0M85.7 587.4h0M83.4 555.5h0M53.5 580.2h0M73.4 566.9h0M86.8 578.8h0M96.7 547.3h0M71.4 570.6h0M61.5 566.6h0M94.8 557.1h0M87.0 565.4h0M91.7 574.9h0M63.4 546.8h0M94.0 569.0h0M98.9 549.2h0M80.2 585.7h0M74.0 578.6h0M89.5 536.3h0M60.2 611.0h0M63.0 601.0h0M78.7 580.4h0M113.5 566.6h0M67.3 576.3h0M66.9 549.6h0M103.6 572.6h0M62.1 580.5h0M83.6 589.7h0M68.7 594.4h0M79.9 552.2h0M82.1 567.3h0M88.2 611.0h0M66.0 565.4h0M75.4 559.6h0M86.0 556.3h0M67.8 570.5h0M89.3 552.5h0M67.1 595.1h0M93.8 540.2h0M89.8 585.0h0M99.1 550.6h0M113.2 586.6h0M69.0 560.5h0M116.3 551.7h0M107.6 546.9h0M49.9 586.3h0M72.5 561.4h0M78.6 580.5h0M70.9 575.0h0M102.2 559.7h0M86.6 536.9h0M86.3 571.8h0M95.8 568.7h0M114.5 540.4h0M69.6 594.9h0M86.3 588.1h0M82.2 582.9h0M97.8 563.3h0M106.9 547.9h0M115.5 554.7h0M67.2 599.9h0M49.5 606.5h0M74.6 558.3h0M81.1 611.0h0M63.3 590.7h0M63.7 559.3h0M91.3 549.7h0M81.0 545.4h0M86.3 537.3h0M82.2 534.4h0M100.5 542.9h0M55.7 593.2h0M78.5 554.3h0M77.0 580.3h0M51.6 542.6h0M79.4 580.8h0M96.1 574.3h0M94.7 611.0h0M59.9 598.9h0M84.2 578.0h0M102.8 527.0h0M80.6 567.6h0M56.3 601.3h0M83.9 579.7h0M78.4 593.6h0M61.9 578.3h0M64.8 586.9h0M89.1 550.1h0M102.1 524.1h0M48.6 580.8h0M71.1 583.3h0M95.5 527.5h0M81.1 591.2h0M96.8 548.1h0M86.0 571.6h0M103.6 535.5h0M75.2 592.7h0M69.0 582.0h0M104.3 544.3h0M83.8 570.7h0M68.9 586.9h0M75.6 547.2h0M71.7 573.7h0M96.6 568.5h0M98.7 591.0h0M58.7 591.7h0M94.3 556.1h0M72.4 577.6h0M81.9 568.9h0M79.5 538.6h0M81.7 562.9h0M93.5 588.1h0M102.9 560.2h0M48.6 606.5h0M93.0 559.6h0M103.5 574.4h0M75.9 555.7h0M100.2 555.1h0M39.8 606.5h0M83.3 575.6h0M85.8 586.1h0M70.6 564.0h0M75.4 568.3h0M74.8 590.8h0M107.6 535.1h0M79.7 569.7h0M74.6 598.9h0M95.6 580.3h0M80.4 572.2h0M109.5 538.8h0M100.2 576.2h0M87.0 582.7h0M67.6 581.1h0M81.8 586.4h0M70.1 569.5h0M104.2 576.1h0M83.5 602.8h0M71.9 563.4h0M81.9 562.3h0M89.8 568.1h0M58.6 567.3h0M97.4 571.2h0M82.7 546.8h0M95.2 563.2h0M90.6 568.9h0M79.1 577.0h0M92.2 549.2h0M58.7 592.5h0M68.5 548.3h0M77.0 586.5h0M80.7 572.9h0M70.8 599.3h0M107.9 538.3h0M60.2 570.5h0M97.2 555.7h0M80.9 594.5h0M99.7 562.6h0M53.7 597.8h0M80.9 547.2h0M109.9 567.9h0M91.9 545.3h0M79.7 590.4h0M109.0 564.9h0M100.2 548.5h0M58.9 558.3h0M115.3 578.5h0M70.6 572.6h0M95.8 562.3h0M54.3 585.4h0M83.5 606.5h0M97.8 593.0h0M62.4 599.9h0M95.5 580.5h0M75.9 574.3h0M87.6 557.8h0M61.9 549.8h0M82.2 578.9h0M83.2 567.8h0M68.4 567.3h0M74.4 559.5h0M103.5 569.5h0M79.4 552.7h0M68.8 611.0h0M86.7 591.8h0M72.1 561.3h0M49.6 585.2h0M93.3 559.1h0M74.7 579.7h0M74.6 594.1h0M100.8 570.6h0M92.3 583.9h0M82.5 593.4h0M108.2 548.8h0M124.8 563.0h0M61.9 578.3h0M70.4 596.5h0M58.2 564.8h0M71.9 558.1h0M111.6 537.1h0M84.7 551.2h0M68.5 594.3h0M91.9 546.0h0M64.3 585.4h0M89.1 552.6h0M110.9 549.5h0M94.2 538.4h0M52.1 583.0h0M86.7 589.3h0M91.6 563.8h0M68.3 591.9h0M80.0 575.8h0M65.3 565.3h0M90.9 576.8h0M77.2 583.5h0M122.0 545.1h0M102.1 542.4h0M86.1 550.3h0M80.0 559.0h0M70.0 557.4h0M85.7 560.7h0M79.8 562.4h0M39.8 606.5h0M90.4 577.1h0M82.6 575.3h0M94.8 534.4h0M75.6 587.5h0M76.7 572.4h0M118.9 538.6h0M85.7 587.1h0M111.6 516.8h0M72.8 581.8h0M92.1 601.2h0M86.9 556.9h0M82.7 553.6h0M73.7 580.6h0M99.2 507.9h0M101.2 575.6h0M111.4 575.8h0M90.6 563.4h0M72.4 563.4h0M97.1 530.8h0M75.5 566.5h0M49.7 561.0h0M77.5 577.2h0M92.2 575.3h0M73.9 566.0h0M93.1 570.8h0M54.2 569.8h0M75.8 596.8h0M89.8 544.3h0M91.6 575.8h0M97.1 541.0h0M91.3 587.2h0M134.0 544.2h0M68.5 592.9h0M77.0 573.9h0M67.5 575.9h0M98.5 587.2h0M97.1 562.0h0M75.8 561.8h0M90.0 585.3h0M113.2 574.7h0M86.2 565.0h0M60.5 600.3h0M69.1 602.8h0M88.8 565.2h0M68.3 542.4h0M84.0 587.8h0M96.5 557.6h0M81.2 546.3h0M106.4 540.5h0M59.2 588.9h0M78.9 563.7h0M66.2 597.9h0M68.7 579.5h0M62.7 560.0h0M92.5 582.9h0M85.2 545.3h0M87.6 576.8h0M86.8 563.5h0M57.6 606.5h0M85.4 569.2h0M65.8 587.6h0M73.4 584.4h0M80.7 564.0h0M92.7 544.5h0M51.2 593.3h0M88.0 574.2h0M83.0 574.0h0M85.3 591.1h0M69.0 581.2h0M74.4 573.4h0M81.3 559.7h0M87.3 575.5h0M55.5 563.9h0M80.4 564.8h0M74.2 587.9h0M114.7 585.4h0M102.6 553.8h0M58.9 537.8h0M100.8 566.6h0M79.5 566.9h0M103.3 587.8h0M99.2 566.5h0M86.5 584.4h0M87.0 566.8h0M108.5 540.8h0M74.6 563.7h0M93.4 582.2h0M93.3 579.3h0M92.3 551.3h0M81.2 611.0h0M100.0 555.5h0M76.5 570.2h0M80.6 596.1h0M86.9 545.1h0M88.8 548.4h0M69.6 602.8h0M80.6 575.5h0M75.3 584.0h0M74.0 544.6h0M67.7 587.4h0M51.7 583.8h0M66.1 590.5h0M71.2 572.5h0M63.7 591.2h0M79.4 575.5h0M97.8 599.5h0M60.9 576.0h0M70.3 559.0h0M56.1 585.7h0M87.9 572.4h0M111.1 549.8h0M78.8 562.8h0M101.4 586.2h0M82.9 550.9h0M84.6 552.0h0M99.7 590.8h0M69.0 569.2h0M61.5 577.5h0M99.6 572.6h0M94.2 566.3h0M72.6 591.5h0M65.4 565.5h0M66.9 580.8h0M70.3 587.8h0M92.1 533.9h0M63.4 585.0h0M102.9 565.2h0M81.1 577.8h0M76.6 594.9h0M115.3 563.5h0M71.5 558.7h0M109.8 542.5h0M67.9 556.3h0M117.6 547.5h0M74.0 611.2h0M61.6 611.2h0M47.4 611.2h0M87.3 611.2h0M62.8 611.2h0M87.8 611.2h0M55.8 611.2h0M88.8 611.2h0M47.3 611.2h0M70.1 611.2h0M69.9 611.2h0M96.8 611.2h0M57.4 611.2h0M82.9 611.2h0M53.5 611.2h0M96.5 611.2h0M52.3 611.2h0M86.9 611.2h0M61.4 611.2h0M83.5 611.2h0M71.7 611.2h0M85.3 611.2h0M95.4 611.2h0M89.1 611.2h0M69.2 611.2h0M55.7 611.2h0M92.0 611.2h0M58.8 611.2h0M95.8 611.2h0M95.1 611.2h0M47.3 611.2h0M95.5 611.2h0M95.7 611.2h0M56.6 611.2h0M63.0 611.2h0M91.7 611.2h0M58.3 611.2h0M83.9 611.2h0M94.1 611.2h0M44.4 611.2h0M42.1 606.3h0M58.8 606.3h0M61.6 606.3h0M57.2 606.3h0M87.3 606.3h0M91.4 606.3h0M77.3 606.3h0M62.3 606.3h0M59.8 606.3h0M92.1 606.3h0M41.8 606.3h0M81.0 606.3h0M52.6 606.3h0M44.4 606.3h0M42.8 606.3h0M71.5 606.3h0M75.5 606.3h0M43.7 606.3h0M44.0 606.3h0M66.9 606.3h0M66.1 606.3h0M96.0 606.3h0M62.3 606.3h0M86.6 606.3h0M39.9 592.6h0M39.9 568.8h0M39.9 581.7h0M39.9 580.4h0M39.9 554.2h0M39.9 588.1h0M39.9 568.6h0M39.9 568.0h0M39.9 565.8h0M39.9 583.2h0M39.9 606.7h0M39.9 609.8h0M39.9 553.2h0M39.9 584.7h0M48.5 605.7h0M48.5 602.8h0M48.5 578.8h0M48.5 604.8h0M48.5 606.9h0M48.5 600.2h0M48.5 603.9h0M48.5 585.2h0M48.5 579.6h0M48.5 576.7h0M126.3 530.6h0M111.2 548.1h0M103.6 556.0h0M108.8 536.1h0M126.3 528.3h0M111.9 541.6h0M121.3 528.1h0M120.4 532.7h0M122.7 515.2h0M123.8 515.0h0M133.1 506.7h0M129.3 524.6h0M128.0 520.6h0M121.7 540.1h0M119.5 532.3h0M114.4 539.6h0M111.2 532.2h0M122.2 533.8h0M120.0 533.0h0M121.8 536.1h0M128.2 528.7h0M117.4 542.3h0M132.9 511.8h0M101.2 542.9h0M106.5 553.0h0M103.9 543.1h0M107.3 538.7h0M132.6 516.8h0M122.2 519.1h0M130.9 524.1h0M106.5 550.4h0M121.2 531.2h0M121.7 537.4h0M102.3 534.6h0M128.8 528.4h0M109.7 539.3h0M126.2 525.4h0M130.0 509.6h0M128.2 529.6h0M99.0 553.4h0M128.7 516.0h0M104.8 539.5h0M111.6 548.0h0M117.9 526.9h0M104.5 551.7h0M115.6 537.5h0M115.0 540.5h0M116.1 548.9h0M107.8 529.9h0M115.9 533.0h0M110.2 533.1h0M107.2 534.4h0M101.5 531.2h0M109.9 540.5h0M102.7 526.2h0M113.7 543.4h0M100.1 534.7h0M102.5 546.5h0M117.8 536.6h0M100.6 535.1h0M110.1 540.5h0M129.4 498.5h0M45.0 553.0h0M48.5 560.0h0M39.8 560.0h0M39.8 566.0h0" stroke="#969696" stroke-width="2.25" stroke-linecap="round"/>
<line x1="37.3" y1="497" x2="37.3" y2="615.8" stroke="#222" stroke-width="1.15"/>
<line x1="36.9" y1="615.4" x2="150.6" y2="615.4" stroke="#222" stroke-width="1.15"/>
<line x1="36.199999999999996" y1="610.3787911313814" x2="37.3" y2="610.3787911313814" stroke="#222" stroke-width="0.6"/>
<line x1="36.199999999999996" y1="605.0432259819943" x2="37.3" y2="605.0432259819943" stroke="#222" stroke-width="0.6"/>
<line x1="36.199999999999996" y1="601.2575822627628" x2="37.3" y2="601.2575822627628" stroke="#222" stroke-width="0.6"/>
<line x1="36.199999999999996" y1="598.3212088686187" x2="37.3" y2="598.3212088686187" stroke="#222" stroke-width="0.6"/>
<line x1="36.199999999999996" y1="595.9220171133757" x2="37.3" y2="595.9220171133757" stroke="#222" stroke-width="0.6"/>
<line x1="36.199999999999996" y1="593.893529387568" x2="37.3" y2="593.893529387568" stroke="#222" stroke-width="0.6"/>
<line x1="36.199999999999996" y1="592.1363733941441" x2="37.3" y2="592.1363733941441" stroke="#222" stroke-width="0.6"/>
<line x1="36.199999999999996" y1="590.5864519639885" x2="37.3" y2="590.5864519639885" stroke="#222" stroke-width="0.6"/>
<line x1="35.3" y1="589.2" x2="37.3" y2="589.2" stroke="#222" stroke-width="0.6"/>
<line x1="36.199999999999996" y1="580.0787911313814" x2="37.3" y2="580.0787911313814" stroke="#222" stroke-width="0.6"/>
<line x1="36.199999999999996" y1="574.7432259819943" x2="37.3" y2="574.7432259819943" stroke="#222" stroke-width="0.6"/>
<line x1="36.199999999999996" y1="570.9575822627628" x2="37.3" y2="570.9575822627628" stroke="#222" stroke-width="0.6"/>
<line x1="36.199999999999996" y1="568.0212088686187" x2="37.3" y2="568.0212088686187" stroke="#222" stroke-width="0.6"/>
<line x1="36.199999999999996" y1="565.6220171133756" x2="37.3" y2="565.6220171133756" stroke="#222" stroke-width="0.6"/>
<line x1="36.199999999999996" y1="563.5935293875681" x2="37.3" y2="563.5935293875681" stroke="#222" stroke-width="0.6"/>
<line x1="36.199999999999996" y1="561.8363733941442" x2="37.3" y2="561.8363733941442" stroke="#222" stroke-width="0.6"/>
<line x1="36.199999999999996" y1="560.2864519639885" x2="37.3" y2="560.2864519639885" stroke="#222" stroke-width="0.6"/>
<line x1="35.3" y1="558.9000000000001" x2="37.3" y2="558.9000000000001" stroke="#222" stroke-width="0.6"/>
<line x1="36.199999999999996" y1="549.7787911313815" x2="37.3" y2="549.7787911313815" stroke="#222" stroke-width="0.6"/>
<line x1="36.199999999999996" y1="544.4432259819943" x2="37.3" y2="544.4432259819943" stroke="#222" stroke-width="0.6"/>
<line x1="36.199999999999996" y1="540.6575822627627" x2="37.3" y2="540.6575822627627" stroke="#222" stroke-width="0.6"/>
<line x1="36.199999999999996" y1="537.7212088686186" x2="37.3" y2="537.7212088686186" stroke="#222" stroke-width="0.6"/>
<line x1="36.199999999999996" y1="535.3220171133756" x2="37.3" y2="535.3220171133756" stroke="#222" stroke-width="0.6"/>
<line x1="36.199999999999996" y1="533.293529387568" x2="37.3" y2="533.293529387568" stroke="#222" stroke-width="0.6"/>
<line x1="36.199999999999996" y1="531.5363733941441" x2="37.3" y2="531.5363733941441" stroke="#222" stroke-width="0.6"/>
<line x1="36.199999999999996" y1="529.9864519639885" x2="37.3" y2="529.9864519639885" stroke="#222" stroke-width="0.6"/>
<line x1="35.3" y1="528.6" x2="37.3" y2="528.6" stroke="#222" stroke-width="0.6"/>
<line x1="36.199999999999996" y1="519.4787911313814" x2="37.3" y2="519.4787911313814" stroke="#222" stroke-width="0.6"/>
<line x1="36.199999999999996" y1="514.1432259819943" x2="37.3" y2="514.1432259819943" stroke="#222" stroke-width="0.6"/>
<line x1="36.199999999999996" y1="510.3575822627628" x2="37.3" y2="510.3575822627628" stroke="#222" stroke-width="0.6"/>
<line x1="36.199999999999996" y1="507.4212088686187" x2="37.3" y2="507.4212088686187" stroke="#222" stroke-width="0.6"/>
<line x1="36.199999999999996" y1="505.0220171133756" x2="37.3" y2="505.0220171133756" stroke="#222" stroke-width="0.6"/>
<line x1="36.199999999999996" y1="502.99352938756806" x2="37.3" y2="502.99352938756806" stroke="#222" stroke-width="0.6"/>
<line x1="36.199999999999996" y1="501.23637339414415" x2="37.3" y2="501.23637339414415" stroke="#222" stroke-width="0.6"/>
<line x1="36.199999999999996" y1="499.6864519639885" x2="37.3" y2="499.6864519639885" stroke="#222" stroke-width="0.6"/>
<line x1="35.3" y1="498.30000000000007" x2="37.3" y2="498.30000000000007" stroke="#222" stroke-width="0.6"/>
<line x1="42.37935487642346" y1="615.4" x2="42.37935487642346" y2="616.5" stroke="#222" stroke-width="0.6"/>
<line x1="47.39795575951038" y1="615.4" x2="47.39795575951038" y2="616.5" stroke="#222" stroke-width="0.6"/>
<line x1="50.95870975284693" y1="615.4" x2="50.95870975284693" y2="616.5" stroke="#222" stroke-width="0.6"/>
<line x1="53.72064512357653" y1="615.4" x2="53.72064512357653" y2="616.5" stroke="#222" stroke-width="0.6"/>
<line x1="55.97731063593385" y1="615.4" x2="55.97731063593385" y2="616.5" stroke="#222" stroke-width="0.6"/>
<line x1="57.885294140406316" y1="615.4" x2="57.885294140406316" y2="616.5" stroke="#222" stroke-width="0.6"/>
<line x1="59.538064629270394" y1="615.4" x2="59.538064629270394" y2="616.5" stroke="#222" stroke-width="0.6"/>
<line x1="60.99591151902075" y1="615.4" x2="60.99591151902075" y2="616.5" stroke="#222" stroke-width="0.6"/>
<line x1="62.3" y1="615.4" x2="62.3" y2="617.4" stroke="#222" stroke-width="0.6"/>
<line x1="70.87935487642346" y1="615.4" x2="70.87935487642346" y2="616.5" stroke="#222" stroke-width="0.6"/>
<line x1="75.89795575951038" y1="615.4" x2="75.89795575951038" y2="616.5" stroke="#222" stroke-width="0.6"/>
<line x1="79.45870975284693" y1="615.4" x2="79.45870975284693" y2="616.5" stroke="#222" stroke-width="0.6"/>
<line x1="82.22064512357653" y1="615.4" x2="82.22064512357653" y2="616.5" stroke="#222" stroke-width="0.6"/>
<line x1="84.47731063593383" y1="615.4" x2="84.47731063593383" y2="616.5" stroke="#222" stroke-width="0.6"/>
<line x1="86.38529414040632" y1="615.4" x2="86.38529414040632" y2="616.5" stroke="#222" stroke-width="0.6"/>
<line x1="88.0380646292704" y1="615.4" x2="88.0380646292704" y2="616.5" stroke="#222" stroke-width="0.6"/>
<line x1="89.49591151902075" y1="615.4" x2="89.49591151902075" y2="616.5" stroke="#222" stroke-width="0.6"/>
<line x1="90.8" y1="615.4" x2="90.8" y2="617.4" stroke="#222" stroke-width="0.6"/>
<line x1="99.37935487642346" y1="615.4" x2="99.37935487642346" y2="616.5" stroke="#222" stroke-width="0.6"/>
<line x1="104.39795575951038" y1="615.4" x2="104.39795575951038" y2="616.5" stroke="#222" stroke-width="0.6"/>
<line x1="107.95870975284693" y1="615.4" x2="107.95870975284693" y2="616.5" stroke="#222" stroke-width="0.6"/>
<line x1="110.72064512357653" y1="615.4" x2="110.72064512357653" y2="616.5" stroke="#222" stroke-width="0.6"/>
<line x1="112.97731063593383" y1="615.4" x2="112.97731063593383" y2="616.5" stroke="#222" stroke-width="0.6"/>
<line x1="114.88529414040632" y1="615.4" x2="114.88529414040632" y2="616.5" stroke="#222" stroke-width="0.6"/>
<line x1="116.5380646292704" y1="615.4" x2="116.5380646292704" y2="616.5" stroke="#222" stroke-width="0.6"/>
<line x1="117.99591151902075" y1="615.4" x2="117.99591151902075" y2="616.5" stroke="#222" stroke-width="0.6"/>
<line x1="119.3" y1="615.4" x2="119.3" y2="617.4" stroke="#222" stroke-width="0.6"/>
<line x1="127.87935487642346" y1="615.4" x2="127.87935487642346" y2="616.5" stroke="#222" stroke-width="0.6"/>
<line x1="132.89795575951038" y1="615.4" x2="132.89795575951038" y2="616.5" stroke="#222" stroke-width="0.6"/>
<line x1="136.45870975284691" y1="615.4" x2="136.45870975284691" y2="616.5" stroke="#222" stroke-width="0.6"/>
<line x1="139.22064512357653" y1="615.4" x2="139.22064512357653" y2="616.5" stroke="#222" stroke-width="0.6"/>
<line x1="141.47731063593386" y1="615.4" x2="141.47731063593386" y2="616.5" stroke="#222" stroke-width="0.6"/>
<line x1="143.3852941404063" y1="615.4" x2="143.3852941404063" y2="616.5" stroke="#222" stroke-width="0.6"/>
<line x1="145.0380646292704" y1="615.4" x2="145.0380646292704" y2="616.5" stroke="#222" stroke-width="0.6"/>
<line x1="146.49591151902075" y1="615.4" x2="146.49591151902075" y2="616.5" stroke="#222" stroke-width="0.6"/>
<line x1="147.8" y1="615.4" x2="147.8" y2="617.4" stroke="#222" stroke-width="0.6"/>
<text x="33.3" y="500.50000000000006" font-size="6.3" text-anchor="end" fill="#262626">10</text>
<text x="33.3" y="530.8000000000001" font-size="6.3" text-anchor="end" fill="#262626">1</text>
<text x="33.3" y="561.1000000000001" font-size="6.3" text-anchor="end" fill="#262626">0.1</text>
<text x="33.3" y="591.4000000000001" font-size="6.3" text-anchor="end" fill="#262626">0.01</text>
<text x="62.3" y="626.9" font-size="6.3" text-anchor="middle" fill="#262626">0.01</text>
<text x="90.8" y="626.9" font-size="6.3" text-anchor="middle" fill="#262626">0.1</text>
<text x="119.3" y="626.9" font-size="6.3" text-anchor="middle" fill="#262626">1</text>
<text x="147.8" y="626.9" font-size="6.3" text-anchor="middle" fill="#262626">10</text>
<text x="94.3" y="637.7" font-size="7.8" text-anchor="middle" fill="#262626" textLength="109.5" lengthAdjust="spacingAndGlyphs">Frequency in initial bone marrow (%)</text>
<text x="14" y="555.7" font-size="7.8" text-anchor="middle" fill="#262626" transform="rotate(-90 14 555.7)" textLength="119" lengthAdjust="spacingAndGlyphs">Frequency in follow-up bone marrow (%)</text>
<text x="25.8" y="556" font-size="7" text-anchor="start" fill="#262626"></text>
<path d="M126.3,514.4 L130.9,521.8 L121.7,521.8 Z" fill="#f0a020"/>
<path d="M99.8,524.2 L104.39999999999999,531.6 L95.2,531.6 Z" fill="#f0a020"/>
<path d="M122.4,551 L127.0,558.4 L117.80000000000001,558.4 Z" fill="#f0a020"/>
<rect x="123.6" y="507.3" width="19.200000000000017" height="6.999999999999943" fill="#fff" stroke="#333" stroke-width="0.9"/>
<text x="133.2" y="512.9" font-size="6.4" text-anchor="middle" fill="#222" textLength="16.200000000000017" lengthAdjust="spacingAndGlyphs">11A5</text>
<rect x="83" y="533.2" width="20.200000000000003" height="7.399999999999977" fill="#fff" stroke="#333" stroke-width="0.9"/>
<text x="93.1" y="539.2" font-size="6.4" text-anchor="middle" fill="#222" textLength="17.200000000000003" lengthAdjust="spacingAndGlyphs">10E7</text>
<rect x="115.5" y="544.8" width="27.30000000000001" height="6.5" fill="#fff" stroke="#333" stroke-width="0.9"/>
<text x="129.15" y="549.9" font-size="6.4" text-anchor="middle" fill="#222" textLength="24.30000000000001" lengthAdjust="spacingAndGlyphs">17B2_2</text>
<path d="M125.2,591.7 L127.6,595.7 L122.8,595.7 Z" fill="#f0a020"/>
<text x="130.5" y="596.3" font-size="6.8" text-anchor="start" fill="#262626" textLength="73" lengthAdjust="spacingAndGlyphs">Progenitor-reactive clones</text>
<circle cx="125.2" cy="602.7" r="2" fill="#909090"/>
<text x="130.5" y="605" font-size="6.8" text-anchor="start" fill="#262626" textLength="44" lengthAdjust="spacingAndGlyphs">All other clones</text>
<line x1="245.6" y1="496.3" x2="245.6" y2="616" stroke="#222" stroke-width="1.15"/>
<line x1="245.2" y1="615.7" x2="431.4" y2="615.7" stroke="#222" stroke-width="1.15"/>
<line x1="243.6" y1="615.6" x2="245.6" y2="615.6" stroke="#222" stroke-width="1.0"/>
<text x="241.6" y="617.7" font-size="6" text-anchor="end" fill="#262626">0</text>
<line x1="243.6" y1="592.95" x2="245.6" y2="592.95" stroke="#222" stroke-width="1.0"/>
<text x="241.6" y="595.0500000000001" font-size="6" text-anchor="end" fill="#262626">10</text>
<line x1="243.6" y1="570.3000000000001" x2="245.6" y2="570.3000000000001" stroke="#222" stroke-width="1.0"/>
<text x="241.6" y="572.4000000000001" font-size="6" text-anchor="end" fill="#262626">20</text>
<line x1="243.6" y1="547.65" x2="245.6" y2="547.65" stroke="#222" stroke-width="1.0"/>
<text x="241.6" y="549.75" font-size="6" text-anchor="end" fill="#262626">30</text>
<line x1="243.6" y1="525.0" x2="245.6" y2="525.0" stroke="#222" stroke-width="1.0"/>
<text x="241.6" y="527.1" font-size="6" text-anchor="end" fill="#262626">40</text>
<line x1="243.6" y1="502.35" x2="245.6" y2="502.35" stroke="#222" stroke-width="1.0"/>
<text x="241.6" y="504.45000000000005" font-size="6" text-anchor="end" fill="#262626">50</text>
<rect x="262.0" y="498.04650000000004" width="4.5" height="117.5535" fill="#38a8e0" stroke="none" stroke-width="0.8"/>
<rect x="266.5" y="579.813" width="4.5" height="35.787000000000006" fill="#12457a" stroke="none" stroke-width="0.8"/>
<rect x="271.0" y="614.9205000000001" width="4.5" height="0.6795" fill="#c41030" stroke="none" stroke-width="0.8"/>
<rect x="292.0" y="575.0565" width="4.5" height="40.5435" fill="#38a8e0" stroke="none" stroke-width="0.8"/>
<rect x="296.5" y="615.26025" width="4.5" height="0.33975" fill="#12457a" stroke="none" stroke-width="0.8"/>
<rect x="301.0" y="615.26025" width="4.5" height="0.33975" fill="#c41030" stroke="none" stroke-width="0.8"/>
<rect x="321.7" y="581.625" width="4.5" height="33.975" fill="#38a8e0" stroke="none" stroke-width="0.8"/>
<rect x="326.2" y="594.0825" width="4.5" height="21.517500000000002" fill="#12457a" stroke="none" stroke-width="0.8"/>
<rect x="330.7" y="615.147" width="4.5" height="0.45300000000000007" fill="#c41030" stroke="none" stroke-width="0.8"/>
<rect x="351.5" y="562.146" width="4.5" height="53.45400000000001" fill="#38a8e0" stroke="none" stroke-width="0.8"/>
<rect x="356.0" y="510.7305" width="4.5" height="104.8695" fill="#12457a" stroke="none" stroke-width="0.8"/>
<rect x="360.5" y="615.26025" width="4.5" height="0.33975" fill="#c41030" stroke="none" stroke-width="0.8"/>
<rect x="372.4" y="615.147" width="4.5" height="0.45300000000000007" fill="#b8c2ca" stroke="none" stroke-width="0.8"/>
<rect x="376.9" y="592.2705" width="4.5" height="23.329500000000003" fill="#e8961e" stroke="none" stroke-width="0.8"/>
<rect x="381.4" y="592.044" width="4.5" height="23.556" fill="#38a8e0" stroke="none" stroke-width="0.8"/>
<rect x="385.9" y="599.292" width="4.5" height="16.308" fill="#12457a" stroke="none" stroke-width="0.8"/>
<rect x="390.4" y="615.147" width="4.5" height="0.45300000000000007" fill="#c41030" stroke="none" stroke-width="0.8"/>
<rect x="402.2" y="615.147" width="4.5" height="0.45300000000000007" fill="#b8c2ca" stroke="none" stroke-width="0.8"/>
<rect x="406.7" y="615.147" width="4.5" height="0.45300000000000007" fill="#e8961e" stroke="none" stroke-width="0.8"/>
<rect x="411.2" y="614.9205000000001" width="4.5" height="0.6795" fill="#38a8e0" stroke="none" stroke-width="0.8"/>
<rect x="415.7" y="614.241" width="4.5" height="1.359" fill="#12457a" stroke="none" stroke-width="0.8"/>
<rect x="420.2" y="598.6125000000001" width="4.5" height="16.9875" fill="#c41030" stroke="none" stroke-width="0.8"/>
<line x1="263.2" y1="615.7" x2="263.2" y2="617.6" stroke="#222" stroke-width="1.0"/>
<text x="263.2" y="627.2" font-size="6.3" text-anchor="middle" fill="#262626">58-17B2_1</text>
<line x1="294" y1="615.7" x2="294" y2="617.6" stroke="#222" stroke-width="1.0"/>
<text x="294" y="627.2" font-size="6.3" text-anchor="middle" fill="#262626">58-17D9</text>
<line x1="323.7" y1="615.7" x2="323.7" y2="617.6" stroke="#222" stroke-width="1.0"/>
<text x="323.7" y="627.2" font-size="6.3" text-anchor="middle" fill="#262626">58-3C1</text>
<line x1="353.4" y1="615.7" x2="353.4" y2="617.6" stroke="#222" stroke-width="1.0"/>
<text x="353.4" y="627.2" font-size="6.3" text-anchor="middle" fill="#262626">58-17B2_2</text>
<line x1="384" y1="615.7" x2="384" y2="617.6" stroke="#222" stroke-width="1.0"/>
<text x="384" y="627.2" font-size="6.3" text-anchor="middle" fill="#262626">58-2E5</text>
<line x1="413.8" y1="615.7" x2="413.8" y2="617.6" stroke="#222" stroke-width="1.0"/>
<text x="413.8" y="627.2" font-size="6.3" text-anchor="middle" fill="#262626">58-11A5</text>
<text x="339" y="638.4" font-size="8.2" text-anchor="middle" fill="#262626" textLength="50" lengthAdjust="spacingAndGlyphs">Reporter cell line</text>
<text x="228.2" y="556.4" font-size="7.2" text-anchor="middle" fill="#262626" transform="rotate(-90 228.2 556.4)" textLength="72.4" lengthAdjust="spacingAndGlyphs">GFP<tspan font-size="4.2" dy="-2.6">+</tspan><tspan dy="2.6"> reporter T cells (%)</tspan></text>
<circle cx="436.6" cy="515.4" r="2.3" fill="#b8c2ca"/>
<text x="442.6" y="517.6999999999999" font-size="6.6" text-anchor="start" fill="#262626">Unstimulated</text>
<circle cx="436.6" cy="526.2" r="2.3" fill="#e8961e"/>
<text x="442.6" y="528.5" font-size="6.6" text-anchor="start" fill="#262626">+ CERI-pool</text>
<circle cx="436.6" cy="536.0" r="2.3" fill="#38a8e0"/>
<text x="442.6" y="538.3" font-size="6.6" text-anchor="start" fill="#262626">+ CMV-pool</text>
<circle cx="436.6" cy="545.6" r="2.3" fill="#12457a"/>
<text x="442.6" y="547.9" font-size="6.6" text-anchor="start" fill="#262626">+ CMV-PepTivator</text>
<circle cx="436.6" cy="555.4" r="2.3" fill="#c41030"/>
<text x="442.6" y="557.6999999999999" font-size="6.6" text-anchor="start" fill="#262626">+ EBV-PepTivator</text>
</svg><div id="b"></div></div>
</body></html>
